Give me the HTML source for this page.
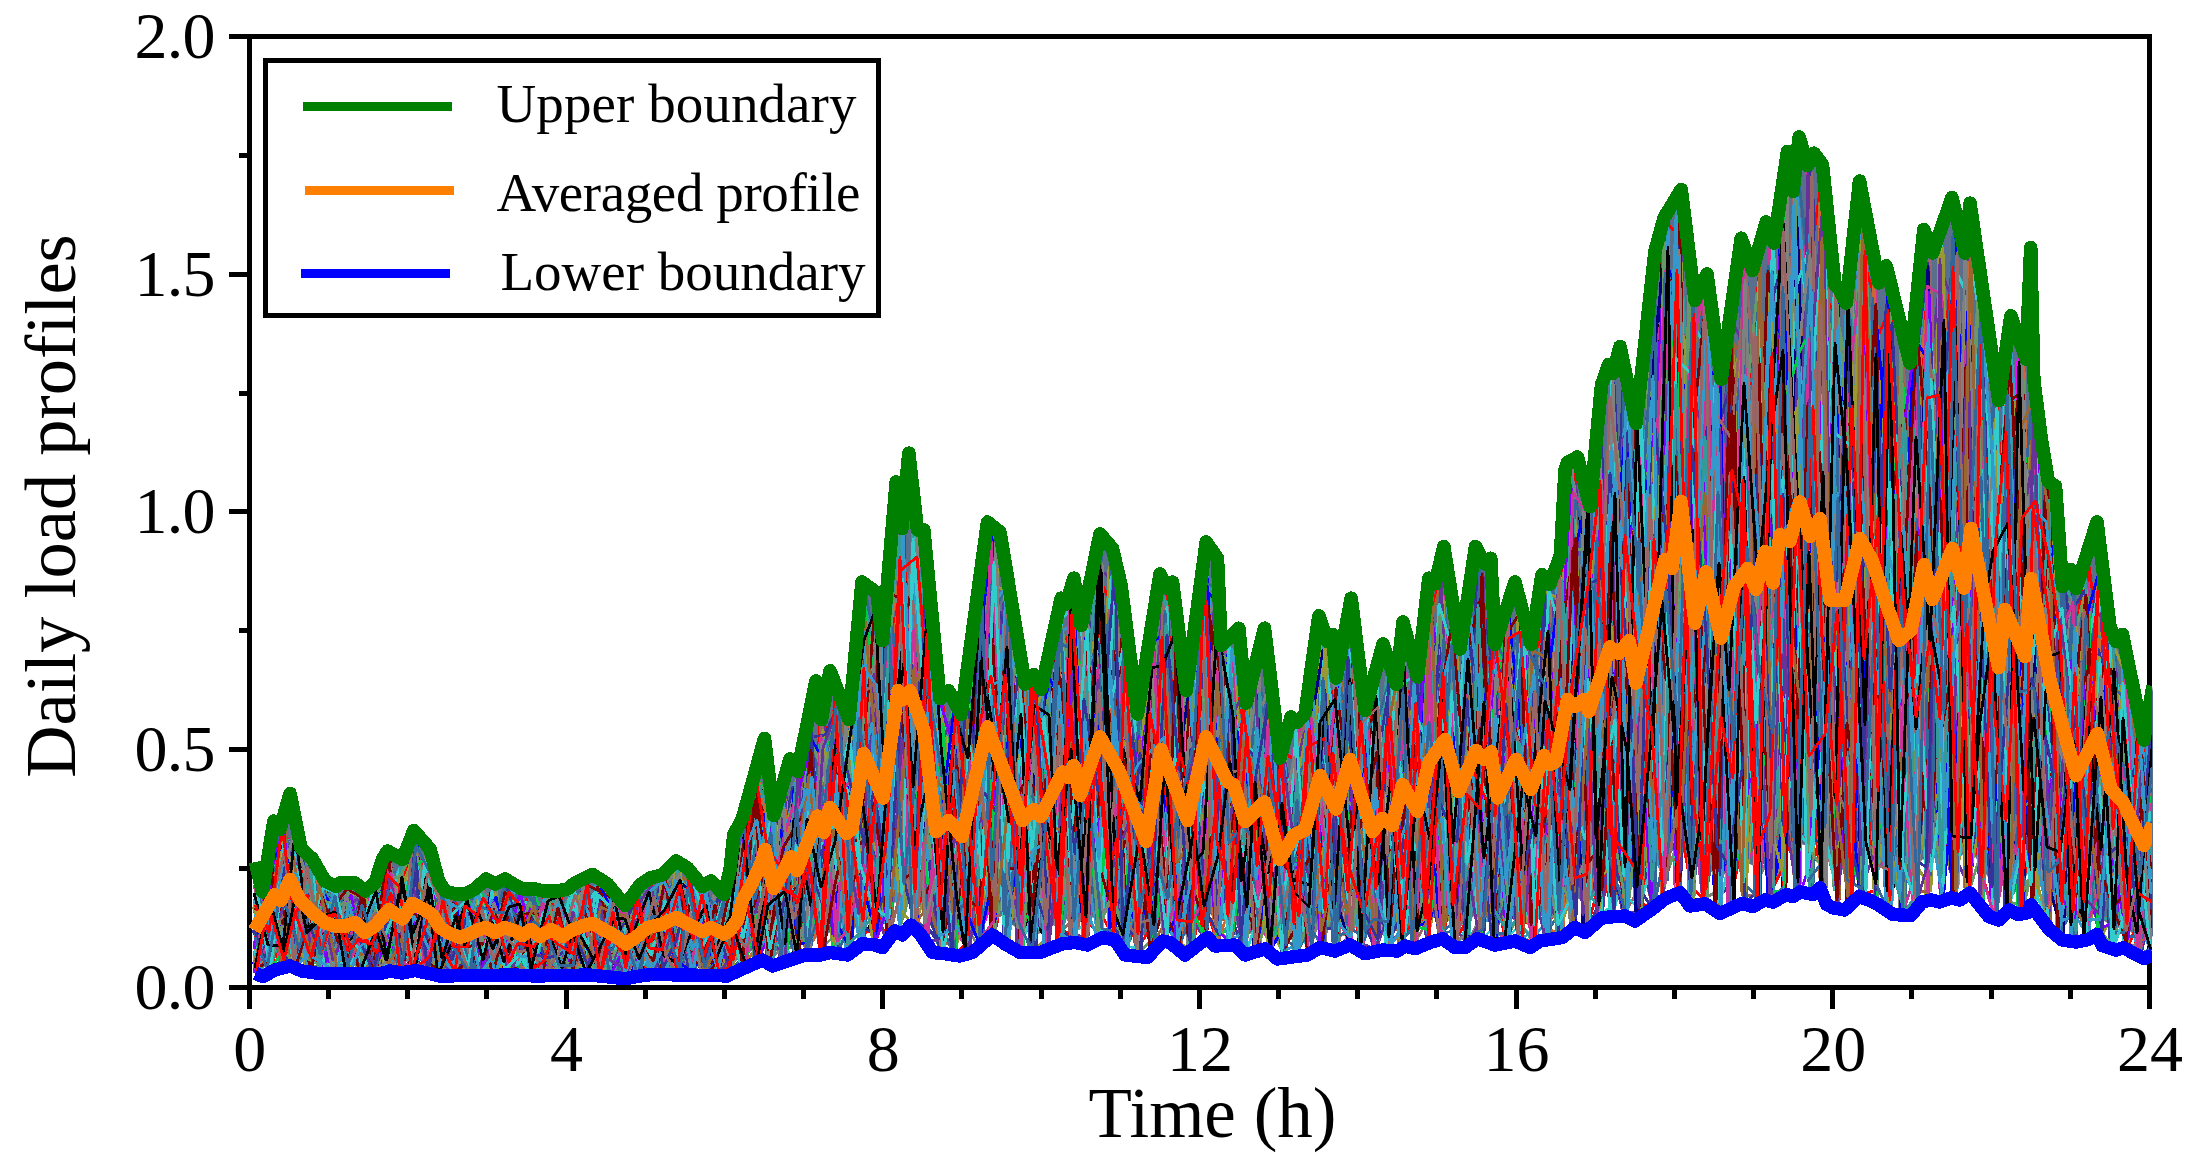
<!DOCTYPE html>
<html lang="en"><head><meta charset="utf-8"><title>Daily load profiles</title>
<style>html,body{margin:0;padding:0;background:#fff}svg{display:block}</style></head>
<body>
<svg width="2186" height="1159" viewBox="0 0 2186 1159">
<rect width="2186" height="1159" fill="#fff"/>
<g stroke="#000" stroke-width="5" fill="none" shape-rendering="crispEdges">
<rect x="249.3" y="36.5" width="1900.1" height="950.7"/>
<line x1="249.3" y1="987.2" x2="249.3" y2="1009"/>
<line x1="328.5" y1="987.2" x2="328.5" y2="998.8"/>
<line x1="407.6" y1="987.2" x2="407.6" y2="998.8"/>
<line x1="486.8" y1="987.2" x2="486.8" y2="998.8"/>
<line x1="566.0" y1="987.2" x2="566.0" y2="1009"/>
<line x1="645.2" y1="987.2" x2="645.2" y2="998.8"/>
<line x1="724.3" y1="987.2" x2="724.3" y2="998.8"/>
<line x1="803.5" y1="987.2" x2="803.5" y2="998.8"/>
<line x1="882.7" y1="987.2" x2="882.7" y2="1009"/>
<line x1="961.8" y1="987.2" x2="961.8" y2="998.8"/>
<line x1="1041.0" y1="987.2" x2="1041.0" y2="998.8"/>
<line x1="1120.2" y1="987.2" x2="1120.2" y2="998.8"/>
<line x1="1199.4" y1="987.2" x2="1199.4" y2="1009"/>
<line x1="1278.5" y1="987.2" x2="1278.5" y2="998.8"/>
<line x1="1357.7" y1="987.2" x2="1357.7" y2="998.8"/>
<line x1="1436.9" y1="987.2" x2="1436.9" y2="998.8"/>
<line x1="1516.0" y1="987.2" x2="1516.0" y2="1009"/>
<line x1="1595.2" y1="987.2" x2="1595.2" y2="998.8"/>
<line x1="1674.4" y1="987.2" x2="1674.4" y2="998.8"/>
<line x1="1753.5" y1="987.2" x2="1753.5" y2="998.8"/>
<line x1="1832.7" y1="987.2" x2="1832.7" y2="1009"/>
<line x1="1911.9" y1="987.2" x2="1911.9" y2="998.8"/>
<line x1="1991.1" y1="987.2" x2="1991.1" y2="998.8"/>
<line x1="2070.2" y1="987.2" x2="2070.2" y2="998.8"/>
<line x1="2149.4" y1="987.2" x2="2149.4" y2="1009"/>
<line x1="249.3" y1="987.2" x2="229.2" y2="987.2"/>
<line x1="249.3" y1="868.4" x2="238.7" y2="868.4"/>
<line x1="249.3" y1="749.5" x2="229.2" y2="749.5"/>
<line x1="249.3" y1="630.7" x2="238.7" y2="630.7"/>
<line x1="249.3" y1="511.9" x2="229.2" y2="511.9"/>
<line x1="249.3" y1="393.0" x2="238.7" y2="393.0"/>
<line x1="249.3" y1="274.2" x2="229.2" y2="274.2"/>
<line x1="249.3" y1="155.3" x2="238.7" y2="155.3"/>
<line x1="249.3" y1="36.5" x2="229.2" y2="36.5"/>
</g>
<polygon points="255.5,862.0 262.5,892.0 273.8,821.0 280.0,829.5 290.0,793.5 301.0,848.0 312.5,859.0 325.0,881.0 336.0,886.5 340.0,883.0 355.0,883.0 365.0,891.0 375.0,883.0 382.5,859.0 387.5,851.0 402.5,859.5 413.8,830.5 430.0,849.0 438.8,881.5 445.0,891.0 455.0,894.0 465.0,894.0 475.0,889.0 486.0,879.0 495.0,884.0 505.0,879.0 515.0,885.0 522.5,889.0 535.0,889.0 542.5,891.0 557.5,891.0 567.5,889.0 575.0,883.0 592.5,874.5 607.5,884.0 625.0,905.5 640.0,885.0 650.0,878.0 662.5,875.0 676.0,861.0 687.5,868.0 702.5,886.5 711.0,881.0 723.8,894.5 730.0,870.0 733.8,835.0 742.5,818.0 751.0,787.5 764.5,738.5 773.8,815.5 790.0,759.0 797.5,771.5 816.0,680.8 821.5,719.5 830.0,670.8 849.0,719.5 862.0,582.0 877.0,593.0 882.5,640.5 896.2,482.0 902.0,528.5 908.8,453.2 917.5,530.0 923.8,530.0 940.0,698.5 948.5,690.8 961.2,714.5 987.5,522.0 1000.0,532.2 1025.0,684.0 1033.8,674.5 1041.2,689.2 1061.2,598.2 1066.2,604.0 1073.8,578.2 1081.2,625.5 1100.0,534.0 1112.5,548.5 1121.2,586.0 1137.5,714.0 1160.0,574.0 1166.2,587.8 1172.5,582.0 1186.2,690.5 1206.2,542.0 1217.5,558.5 1221.2,645.5 1238.8,628.2 1246.0,703.0 1264.5,628.2 1280.0,758.0 1291.0,717.0 1297.0,722.5 1305.0,713.5 1318.8,615.8 1327.5,641.5 1332.5,634.5 1336.2,678.0 1351.2,598.2 1365.0,710.5 1383.0,644.0 1396.2,684.2 1403.0,622.0 1417.5,676.8 1428.8,578.2 1435.0,584.0 1443.8,546.5 1460.0,649.2 1475.5,546.5 1485.0,564.0 1490.8,558.2 1495.0,644.2 1515.0,582.0 1531.2,644.2 1542.0,574.5 1550.0,584.0 1560.5,555.0 1565.0,470.0 1567.5,462.5 1577.5,457.0 1590.0,506.5 1601.5,385.0 1608.5,364.5 1613.0,373.5 1620.0,346.5 1636.0,423.5 1655.0,251.0 1664.2,217.5 1681.2,189.5 1695.0,300.5 1707.0,274.0 1721.2,379.2 1741.2,238.2 1752.5,270.5 1766.2,222.0 1773.8,243.0 1787.5,151.5 1793.0,191.5 1799.2,137.0 1807.5,165.5 1813.8,153.2 1822.5,164.8 1835.0,285.0 1838.8,288.0 1846.2,303.0 1859.5,181.0 1878.8,283.0 1886.2,265.8 1910.0,363.0 1923.8,229.5 1932.5,253.0 1952.0,197.5 1965.0,253.0 1970.0,203.2 1998.8,400.5 2010.8,315.8 2026.2,359.2 2030.7,247.5 2033.8,380.0 2041.8,442.5 2048.5,482.0 2055.5,486.0 2062.5,586.5 2071.0,569.5 2076.0,588.5 2097.0,522.0 2110.0,627.0 2116.0,641.5 2122.5,634.5 2143.8,740.0 2153.0,686.0 2153.0,935.9 2143.5,942.3 2123.5,926.3 2116.0,928.5 2102.0,919.6 2097.0,906.8 2087.0,913.8 2076.0,917.8 2062.0,915.4 2049.0,899.2 2031.0,863.3 2027.0,875.6 2018.0,876.8 2009.0,872.1 1999.0,885.7 1989.0,878.7 1970.0,848.6 1960.0,856.9 1951.0,853.0 1940.0,858.8 1931.0,857.9 1922.0,859.7 1911.0,878.9 1893.0,874.2 1878.0,864.0 1869.0,856.9 1859.0,851.0 1844.5,870.4 1833.0,866.3 1826.7,859.5 1820.0,841.2 1813.0,847.1 1800.0,843.9 1793.0,851.4 1786.7,847.2 1773.0,859.3 1764.5,856.7 1753.0,865.4 1742.0,860.6 1720.0,877.9 1705.0,863.2 1690.0,864.2 1680.0,847.4 1665.0,854.8 1652.5,867.6 1635.0,887.9 1625.0,880.3 1602.5,882.4 1585.0,902.8 1575.0,896.4 1562.5,909.3 1540.0,916.8 1530.0,926.0 1515.0,916.5 1495.0,924.0 1477.5,912.4 1465.0,924.6 1455.0,924.7 1442.5,912.5 1430.0,917.7 1415.0,928.9 1405.0,924.0 1397.5,931.3 1382.5,928.8 1365.0,936.2 1350.0,921.6 1335.0,930.8 1320.0,924.8 1307.5,936.4 1277.5,942.7 1265.0,926.8 1245.0,936.3 1235.0,923.2 1215.0,919.5 1207.5,910.9 1185.0,935.5 1170.0,918.0 1162.5,916.3 1147.5,936.2 1125.0,931.6 1115.0,914.2 1102.5,910.5 1087.5,921.0 1075.0,918.1 1062.5,920.1 1040.0,933.6 1020.0,931.6 1005.0,917.9 992.5,907.5 972.5,930.3 960.0,938.4 945.0,935.2 932.5,929.6 920.0,906.5 911.0,894.9 902.5,907.3 895.0,901.9 882.5,926.1 875.0,920.8 862.5,919.1 847.5,937.6 830.0,932.6 820.0,937.2 805.0,938.8 790.0,944.9 772.5,953.3 762.5,944.1 740.0,958.2 727.0,967.3 715.0,967.1 652.0,965.7 640.0,967.5 625.0,971.3 590.0,966.0 535.0,967.8 515.0,966.6 440.0,967.4 430.0,963.2 415.0,959.2 402.0,963.2 390.0,960.9 380.0,964.3 320.0,964.6 302.0,960.7 290.0,952.6 275.0,958.2 263.0,968.2 255.5,963.8" fill="#5a6f8c"/>
<clipPath id="pc"><rect x="246" y="30" width="1906" height="960"/></clipPath>
<g clip-path="url(#pc)">
<g fill="none" stroke-width="2.8" stroke-linejoin="round" shape-rendering="crispEdges">
<path stroke="#ff00ff" d="M258 967l11 -80l13 -47l13 126l11 -47l19 21l11 -36l13 67l10 -62l17 26l14 29l10 -53l12 5l16 17l14 29l12 -37l12 34l14 -28l11 31l13 -62l16 42l16 -37l12 63l10 -47l16 33l9 -54l16 42l12 -24l16 26l12 31l10 -20l16 16l11 -48l12 5l14 29l15 9l13 -13l12 -111l16 -40l13 159l13 -152l11 147l12 -106l16 31l15 -38l9 58l13 -86l12 0l18 -180l14 131l11 18l14 -150l12 254l13 37l14 -215l15 216l8 -21l19 -243l12 220l11 -148l13 61l12 97l16 -260l9 220l15 -180l11 254l14 -102l16 88l13 -197l11 213l16 -175l13 181l11 -316l16 234l15 -195l8 275l13 -112l15 -83l14 162l10 -77l14 -117l14 -69l17 283l11 -200l11 -13l12 243l18 -247l8 200l18 -148l9 131l15 -104l11 -153l13 312l16 -14l12 -182l13 -73l12 174l18 -88l10 171l11 -256l16 -70l12 3l16 312l10 -262l17 255l8 -323l14 86l16 -268l13 130l14 134l14 58l11 -134l13 202l11 -236l13 -139l13 233l13 108l15 -313l11 58l15 300l14 -102l15 153l13 -379l11 409l13 -499l15 361l14 18l14 -399l11 395l12 -525l13 190l11 358l16 -287l11 344l13 -485l17 454l15 -200l12 286l14 -273l9 120l13 57l16 -143l15 192l9 -124l13 161"/>
<path stroke="#ff0000" d="M258 926l11 1l12 -93l15 75l14 58l11 4l14 -51l16 40l11 -23l11 25l15 -59l12 57l13 -52l14 41l13 -7l12 22l16 -42l13 35l13 -36l13 52l13 -78l13 57l12 -20l16 -36l14 77l9 -69l14 71l14 -78l14 74l15 -72l10 64l15 -74l14 81l11 -79l11 38l13 33l18 -34l11 34l13 -87l15 48l9 -112l17 62l11 75l13 -45l11 -21l16 -92l15 55l11 -228l13 309l16 -396l10 372l15 -283l9 310l15 -113l17 117l11 -206l14 -113l11 248l12 -171l17 225l12 -188l14 108l14 -92l10 178l16 10l12 -326l12 347l16 -135l9 -76l13 101l17 69l10 -208l17 202l12 -286l12 231l15 -158l8 237l14 -238l18 149l12 31l12 -117l11 91l17 71l9 18l16 16l14 -175l11 101l16 10l13 -41l13 44l11 5l11 -150l13 189l16 -316l14 272l11 52l12 -210l16 193l14 -254l11 106l14 143l16 -301l10 -58l14 115l11 147l16 -157l11 28l17 -462l11 490l10 47l18 -93l11 228l13 -354l10 -116l16 257l17 188l12 -454l9 285l15 -486l14 613l13 -463l13 468l11 -209l15 250l10 -220l14 148l15 -248l12 -280l17 472l11 -315l11 -163l17 561l13 -315l13 -178l10 115l17 -52l14 281l11 205l15 -217l11 241l13 -301l15 236l9 -39l17 129l10 -123"/>
<path stroke="#ff0000" d="M254 945l18 -83l14 76l10 -41l15 69l9 -67l17 10l14 61l12 -38l11 22l15 -54l10 63l13 -91l15 -11l14 113l13 -29l12 16l16 -65l13 -2l10 67l13 -6l14 -19l14 30l12 1l13 -43l13 50l14 -51l14 24l13 30l13 -62l13 57l12 -71l13 55l17 -8l10 -19l14 25l10 5l19 -20l11 -104l15 11l14 100l8 -66l18 26l8 -180l15 3l12 222l13 -198l18 -75l7 148l18 -184l12 283l12 -277l17 170l13 -104l13 234l8 -192l18 62l9 -174l17 296l9 -127l16 36l15 -118l9 96l16 -93l13 42l14 -49l10 144l16 72l10 -123l14 -7l17 -176l11 46l11 216l12 -154l13 35l15 167l14 -131l12 123l13 -117l14 -7l16 114l10 -224l13 43l13 116l17 -158l11 24l10 143l18 28l9 38l14 -320l13 149l15 167l11 -157l15 119l13 -207l13 211l12 -242l12 234l16 -83l15 -248l13 302l9 -130l18 171l13 -280l12 275l10 -394l13 388l14 -607l14 209l14 259l12 -305l13 254l13 202l13 -68l12 -183l15 109l11 -213l14 160l18 -472l8 -55l15 582l11 -351l15 -129l14 423l13 -402l13 550l11 -539l17 -11l14 440l11 -443l13 212l16 173l13 -183l10 172l11 199l18 -344l8 224l14 -64l18 215l10 -105l15 -131l11 151l15 111l10 -103l17 77"/>
<path stroke="#ff0000" d="M259 895l8 34l18 -84l12 117l13 -97l10 83l13 -4l15 -53l11 82l17 -60l9 13l17 -5l14 45l11 -40l14 -29l11 77l16 -55l12 43l14 -68l13 76l14 -9l9 -15l17 8l10 -48l15 52l16 -33l11 -31l14 74l10 -40l16 -35l13 81l15 -60l12 40l13 -14l9 24l15 4l13 -57l13 44l12 -165l14 157l13 -128l13 -3l13 -70l14 115l15 -85l15 87l12 -254l14 317l11 -127l12 24l12 -213l19 143l8 167l16 -188l13 193l12 -261l15 115l12 27l14 97l13 8l12 -73l11 0l15 -157l12 233l12 -264l19 206l12 21l13 -112l9 80l16 89l11 -199l17 212l11 -61l15 -272l14 319l13 -171l14 86l10 -24l10 -24l17 148l14 -173l14 53l9 47l12 -233l16 296l16 -142l11 91l11 -67l14 76l14 -240l13 238l14 -133l16 -25l11 115l13 -115l10 147l13 22l18 -211l12 26l14 198l9 -447l18 451l13 -49l12 -467l12 233l16 93l9 -292l14 425l11 -8l18 -472l10 161l14 201l13 130l16 -389l8 93l13 315l18 -642l10 513l13 -67l15 -128l11 300l18 -392l7 408l14 -343l16 -33l12 300l11 -159l13 2l15 -14l12 -118l16 150l12 -332l14 558l12 -533l14 535l13 -381l14 284l12 -54l10 -114l18 292l13 -163l14 159l13 -154l12 152l13 -136"/>
<path stroke="#ff0000" d="M258 960l13 -14l9 15l16 -49l14 -22l11 50l13 15l17 -61l8 62l14 -22l17 -58l8 94l16 -66l15 21l10 46l16 -47l11 23l13 -21l11 46l15 -79l15 68l14 -43l10 56l13 -58l16 51l12 -28l12 14l15 22l12 -54l14 54l13 -91l16 68l11 -83l11 96l13 -49l12 53l19 -94l11 58l14 -159l13 184l15 -54l13 -83l8 108l18 -100l9 22l17 79l12 -29l10 -133l17 -109l11 116l14 107l11 -233l15 241l11 -45l15 -87l14 54l10 -143l15 257l12 -191l18 138l9 -72l13 -51l15 189l14 -161l12 -13l11 -172l18 313l8 -135l14 -46l17 -135l13 282l12 9l13 -164l11 197l16 -236l13 193l14 -130l12 205l13 -104l10 68l15 -211l13 22l15 28l12 132l15 -178l14 205l10 -221l14 258l14 -36l11 -241l13 259l17 -165l10 57l16 -157l9 252l14 -172l17 159l11 -243l11 280l14 -311l16 -156l9 446l18 -431l10 357l15 -243l13 213l11 -508l17 -80l12 10l9 472l18 38l12 -163l14 -149l9 396l12 -251l19 46l14 -48l7 -190l14 294l16 -387l15 30l9 412l13 -482l14 45l15 478l11 -17l13 -291l12 276l14 66l17 -416l9 177l14 -185l16 443l11 -422l11 452l16 -165l10 102l17 -20l11 -121l17 207l11 -181l14 227l11 -157l15 13l11 167"/>
<path stroke="#ff0000" d="M257 882l11 52l13 -93l15 90l10 -58l17 34l10 53l14 -54l16 37l15 -14l8 32l14 -76l15 -34l11 92l17 -53l13 22l13 33l11 29l12 -32l15 31l10 -80l17 81l13 -50l13 9l12 41l15 -71l13 45l13 -21l14 50l12 -38l15 26l8 -53l16 61l14 -76l11 72l16 -44l11 -19l16 -15l13 67l9 -145l12 134l18 -64l8 -30l17 12l12 -18l16 67l11 -245l11 244l13 21l16 -171l14 148l9 -57l16 0l16 99l12 -13l12 -332l13 297l13 -302l12 131l15 104l13 -74l14 159l12 -154l12 45l16 123l9 -187l18 182l9 -209l17 218l10 -171l15 129l14 -220l10 214l16 -133l14 -16l12 195l14 -150l13 152l14 -166l8 150l17 -208l13 208l11 -81l14 -147l14 218l11 -88l18 83l9 -87l14 107l16 -284l9 146l17 -102l8 156l16 53l15 -140l11 52l16 68l12 -214l10 241l13 -166l15 -6l15 -194l12 308l10 -323l15 269l11 -375l18 474l11 -643l12 441l13 -155l15 323l12 -290l17 263l8 -380l17 -176l12 616l10 -20l16 -55l15 -228l12 296l12 -235l15 218l13 -132l14 9l14 -408l13 455l10 -332l15 273l15 -409l12 164l11 233l15 155l11 41l14 -335l11 315l13 -471l17 498l12 -305l11 273l14 -256l13 163l16 -60l14 206l13 -35l10 -114"/>
<path stroke="#ff0000" d="M255 931l14 -2l13 -15l16 -83l10 118l14 3l11 5l15 -61l16 75l14 -49l9 48l15 -83l15 79l12 -95l14 104l8 -48l18 39l11 -50l13 40l14 -71l12 61l14 -24l15 51l12 -59l15 -12l10 46l12 -30l18 33l11 -39l11 27l16 22l9 -57l15 19l14 51l13 -31l10 -21l14 -13l14 24l12 -98l17 24l14 42l11 -103l11 -48l16 2l13 177l10 -19l18 -54l13 -68l9 -111l15 2l17 169l11 -57l9 137l16 -8l13 -2l14 -209l14 3l10 225l16 -104l10 38l16 7l15 -134l13 72l13 10l12 -216l13 157l13 132l10 -126l15 178l15 -178l14 88l11 -42l15 -15l13 84l13 6l9 -160l16 171l13 -200l14 154l14 14l15 -37l10 28l14 -52l11 -155l14 277l15 -9l9 -175l15 184l15 -191l13 77l12 -199l14 143l11 38l13 -201l13 36l14 294l15 -79l10 -81l13 86l15 -219l14 -121l10 203l14 43l18 -200l12 139l12 121l15 -226l12 95l14 66l14 -421l9 437l13 26l13 -137l17 239l11 -565l12 563l15 -44l13 -667l15 642l13 -272l13 181l12 -274l10 428l17 -556l10 -22l14 318l15 -284l10 348l16 -171l15 -184l12 511l14 -566l11 470l14 -149l12 108l16 -174l10 356l17 -317l8 287l16 -97l12 9l11 141l15 -263l11 289l18 -104"/>
<path stroke="#ff0000" d="M256 973l14 -43l14 -14l12 -68l12 115l16 -75l13 74l14 3l12 -67l13 50l12 -62l15 85l8 -124l15 61l16 36l12 -33l15 48l10 -34l14 49l12 -8l15 -53l13 59l11 -29l17 7l9 -22l17 36l15 -63l9 64l12 -9l18 -17l13 -43l12 62l12 -47l13 63l12 -80l14 80l11 -95l13 -22l14 59l15 44l15 -118l12 108l10 -54l14 -80l12 -14l17 -53l11 -58l13 230l12 -5l14 -220l17 67l11 180l12 -234l15 106l13 -39l11 -58l15 139l13 -130l15 115l13 47l13 -170l11 -64l16 -33l13 201l12 29l9 -219l18 320l12 -147l14 9l10 -100l16 182l14 -199l10 152l13 -200l13 283l15 -211l13 194l10 -174l18 12l11 6l15 188l9 -259l16 182l11 7l15 -21l13 -154l14 242l14 -282l14 93l9 -47l16 -107l15 330l8 -39l15 -162l17 211l9 -316l17 229l12 26l14 42l12 -23l14 -370l12 241l12 86l15 -446l11 120l16 290l9 -99l15 -202l11 370l13 -380l16 200l11 -162l17 -43l9 331l16 -437l12 439l17 -347l7 -257l17 645l15 -562l8 281l18 -177l8 474l17 -5l11 -444l12 270l17 -308l11 -80l11 306l19 206l11 -542l10 464l18 -378l8 32l16 411l15 39l12 -250l15 315l8 -264l13 -92l18 110l12 159l11 -6l17 12l11 -20"/>
<path stroke="#ff0000" d="M254 970l15 -112l14 71l15 -90l12 69l14 62l9 -31l16 1l12 1l11 -42l15 64l17 -99l9 21l17 27l10 6l17 27l9 -10l12 -14l16 50l11 -48l12 43l15 -26l15 33l15 -55l12 49l9 -36l17 19l13 -8l12 16l16 -33l8 16l14 -25l17 55l9 -71l16 74l12 -43l15 29l14 -135l12 133l10 -53l16 -45l10 74l17 -151l13 167l9 -163l18 -5l9 -126l17 226l11 -210l11 -76l14 222l15 -42l16 -27l8 152l13 -4l13 -167l14 192l12 -224l16 242l13 -208l11 45l14 -121l14 181l12 46l17 -277l12 325l11 -255l12 274l18 -26l13 -188l13 173l13 -24l10 39l17 -213l9 195l15 -117l16 122l11 -136l10 149l14 -27l14 -121l16 104l13 -166l8 105l17 -55l12 90l16 -72l11 55l13 -35l13 14l14 -85l11 214l18 -32l8 -138l12 136l16 -237l14 259l13 -273l12 -44l13 124l12 -57l18 124l12 -172l12 110l11 -26l12 120l13 -157l16 123l14 -487l12 564l11 -236l14 191l17 -201l12 136l13 -384l14 463l9 -570l18 571l14 -504l13 364l13 -52l9 201l15 -524l10 7l15 362l17 -112l12 121l11 32l14 126l12 -409l12 420l18 -409l13 265l11 -220l13 373l15 -453l9 135l14 1l12 303l16 -245l12 254l15 -83l13 113l12 -187l11 217"/>
<path stroke="#000000" d="M256 953l16 -57l11 65l10 -72l17 19l10 45l15 -56l11 49l16 -36l10 47l14 -81l15 57l16 -23l12 -18l15 14l12 0l10 6l14 62l14 -38l15 -19l13 -14l11 60l16 -60l13 55l8 -38l15 31l13 -59l11 56l17 30l14 -24l11 -59l12 73l14 -98l13 31l16 56l13 -54l13 70l13 -76l10 -113l14 8l13 167l12 -73l13 -132l18 124l12 -115l9 -31l18 79l12 -46l14 120l14 -121l9 107l14 -210l16 233l13 -161l10 216l12 -321l13 271l14 -94l18 55l8 -84l18 167l10 -322l14 276l10 -127l14 89l16 -120l14 83l13 -25l9 141l18 -191l14 160l11 -184l13 127l11 -230l12 232l19 -53l8 48l17 -81l14 121l12 -136l14 143l10 -259l14 314l12 -297l14 204l16 -41l12 88l9 -206l14 241l16 -320l11 243l12 -220l17 75l15 -110l11 284l15 -246l13 64l9 7l15 4l13 197l11 -134l15 -17l11 24l16 -147l14 -55l13 204l10 -49l12 -506l14 250l18 171l12 101l14 -288l8 391l18 -249l14 51l11 -249l12 477l12 -574l14 113l11 -37l19 121l10 183l11 -112l14 -270l13 588l17 -43l9 -538l14 511l18 -258l13 282l10 -336l13 293l11 -203l14 -99l13 10l14 383l15 -281l14 17l9 289l15 -31l13 -313l16 232l9 111l15 -147l13 159"/>
<path stroke="#ff0000" d="M257 880l14 11l9 29l15 6l14 -64l16 92l9 -46l14 65l14 -10l13 7l12 -95l11 70l13 -62l15 85l16 -57l12 61l10 -47l15 39l17 -23l11 -12l14 -26l9 40l18 11l11 -45l16 59l11 -70l10 57l17 21l12 -31l15 24l12 -67l14 43l14 -30l12 45l11 -53l16 66l9 -73l16 -50l12 45l11 -52l15 -11l13 -28l13 125l12 -206l14 82l15 80l12 -148l17 105l8 -240l16 252l12 -108l14 195l15 -237l13 203l10 -101l15 -172l16 292l7 -173l18 135l13 52l10 -207l12 173l15 -284l15 140l11 159l16 -289l12 275l11 -96l12 30l18 -158l11 168l13 -133l16 16l8 206l15 -101l15 -5l11 74l15 -190l13 166l15 71l12 -145l11 133l15 -248l10 -53l15 278l14 -167l10 192l15 -245l12 200l13 -273l16 311l12 -161l14 110l13 -219l11 21l17 212l10 -96l17 -48l9 131l16 -235l12 209l10 -249l16 -18l12 178l15 -84l15 191l13 -526l11 312l16 55l12 -404l9 546l13 -73l18 -122l8 -95l17 327l15 -303l9 69l15 -393l13 459l14 -391l15 61l9 496l14 -97l13 -188l16 -319l11 409l15 -16l13 85l11 -504l12 384l13 -67l13 179l18 -55l10 -340l16 544l11 -209l14 -205l11 409l13 -113l13 144l17 -16l10 -117l14 18l14 49l11 -50"/>
<path stroke="#ff0000" d="M259 876l12 70l11 -115l11 17l16 115l12 -52l15 37l13 8l10 -41l18 -10l8 17l14 48l17 -58l9 57l16 -26l11 31l15 1l12 -11l11 -56l17 53l10 -7l13 -11l17 17l10 -30l15 21l15 -47l12 50l12 -38l14 15l10 42l19 -10l9 -29l18 34l11 -88l9 31l16 16l13 26l12 -63l15 11l12 -54l12 96l16 -40l11 -86l15 82l12 -208l16 242l10 -259l16 230l14 -322l10 241l15 97l11 -315l16 304l10 4l14 -102l13 -61l15 98l12 -129l12 11l13 3l17 111l10 100l13 -207l15 205l13 -6l10 -156l17 156l12 -158l10 51l13 63l19 -162l8 -3l13 15l13 183l13 -213l18 173l10 -156l17 205l10 -114l12 123l16 -250l9 138l13 47l17 0l13 -137l13 206l13 -190l11 67l15 77l14 -263l10 -63l18 269l12 -84l14 179l9 -191l17 73l10 -115l17 175l11 -198l15 172l14 19l7 -71l18 58l9 41l14 -41l16 -142l12 70l13 -385l13 393l16 -349l14 -31l11 134l13 138l10 184l16 -579l11 495l17 -395l12 498l13 -357l14 358l9 -158l18 -425l10 398l16 -329l10 463l14 -373l13 430l12 -309l15 -217l12 -128l17 548l8 -302l17 416l12 -454l15 371l12 -36l12 -116l12 210l14 -41l16 -275l13 98l11 90l14 192l11 -128l17 118"/>
<path stroke="#ff0000" d="M255 932l12 -69l13 91l17 -74l14 91l9 -87l16 82l13 -58l14 55l15 -58l12 23l13 17l11 -46l16 57l10 -36l13 49l15 -24l13 20l10 -9l15 11l15 7l14 -37l12 33l14 -50l13 46l13 -57l14 38l8 -41l16 60l15 -44l10 27l13 22l13 -103l16 93l9 -48l16 36l15 2l14 -56l8 -114l15 80l12 67l15 -38l12 -27l16 3l11 -144l14 94l15 96l12 -127l11 14l15 -103l11 40l18 73l10 -39l10 116l19 56l10 -198l15 21l14 52l12 21l10 97l18 -151l9 36l14 54l17 -198l8 204l16 -276l12 218l11 -45l16 128l13 -195l15 -2l11 210l14 -224l15 -97l13 309l9 -155l14 168l16 -210l13 227l13 -65l14 -139l8 -22l16 -23l11 209l15 48l15 -99l12 -92l13 124l10 -85l17 82l11 -106l14 -57l15 183l9 -191l16 180l12 -33l14 -200l15 293l13 -244l9 -79l17 202l15 -79l8 -245l13 414l17 -247l9 251l15 -59l17 -425l9 400l12 -487l16 515l11 -369l15 77l15 -187l14 7l12 405l12 -52l16 -426l12 481l8 -445l19 554l10 -443l16 421l9 -608l17 383l10 -300l17 243l13 280l8 -616l18 624l9 -239l12 206l14 -385l15 84l11 316l16 -195l14 223l13 -298l14 11l9 318l16 7l11 -181l18 87l8 101l18 -220"/>
<path stroke="#ff0000" d="M259 971l11 -72l14 22l14 -22l11 38l12 -8l13 -11l16 54l12 -54l13 50l13 -44l13 -17l14 62l10 -76l17 56l12 25l13 -69l12 66l13 -59l16 50l11 -52l11 -14l14 75l15 -68l16 51l11 -58l15 74l8 -51l15 54l14 -74l13 63l13 11l16 -51l13 17l10 0l15 -19l13 13l11 -62l18 -54l9 146l17 -147l12 112l11 -107l14 -78l10 88l17 -42l10 117l15 -6l16 26l11 -317l15 294l8 -154l18 39l12 -33l15 112l9 67l12 -324l17 299l12 -238l12 260l16 -86l11 -12l16 -33l10 -129l15 254l12 -187l11 -36l17 78l11 85l14 -131l11 211l13 -168l13 118l16 49l11 -298l16 84l9 217l18 -112l10 -64l15 146l14 -142l10 -43l15 152l15 -66l11 -13l13 -60l11 -23l17 125l12 55l16 -284l9 318l15 -112l10 34l18 -31l11 85l14 -261l10 269l14 4l16 -247l13 25l12 191l13 -190l12 43l13 -44l17 -52l13 132l9 -226l15 120l13 -222l16 239l8 -33l13 -171l14 149l14 -35l15 54l13 -258l14 -119l14 48l12 33l13 443l11 -350l13 361l13 -458l14 397l16 -192l13 249l10 -321l17 70l13 312l10 -475l13 269l14 -79l12 303l13 -396l15 234l13 -166l10 234l19 -173l9 134l12 -143l13 175l16 1l13 -129l10 249l18 -58"/>
<path stroke="#ff0000" d="M254 970l14 -9l15 -2l13 -112l13 81l14 41l15 -65l11 43l14 24l14 -58l13 -3l10 38l14 -44l11 15l18 25l13 -41l10 46l16 2l11 -27l15 17l12 -6l11 40l13 -78l15 11l15 28l11 31l11 -81l15 83l15 -52l14 -20l13 69l14 -5l12 -75l14 51l11 35l15 2l11 -45l11 13l14 -158l13 141l13 -131l15 150l15 -209l12 96l13 -89l14 211l12 -120l12 -131l13 61l15 -160l13 249l13 -79l12 179l15 -40l12 -107l14 8l10 -53l18 27l14 81l11 -20l10 24l15 22l15 -208l13 82l15 118l11 -151l13 69l10 -66l17 105l11 -197l14 243l14 -116l10 127l15 -94l16 96l11 -175l14 115l13 -124l14 226l13 -157l15 129l11 -91l15 27l11 -166l10 176l15 -84l11 125l14 -202l16 209l12 22l11 -230l15 85l11 97l15 -192l13 210l12 -40l13 -180l16 -28l16 284l10 -285l14 21l11 154l17 -128l8 60l14 -367l15 297l12 57l15 -466l10 479l16 -479l14 48l14 388l11 27l15 -326l14 429l9 -581l14 472l14 -406l12 309l15 81l11 139l16 -295l10 62l14 -264l11 378l17 -161l15 138l12 67l9 -331l17 260l10 -290l17 465l11 -306l13 287l16 -85l11 38l14 -307l12 375l12 -230l12 -38l17 218l15 -122l13 131l11 54l12 -78"/>
<path stroke="#ff0000" d="M256 897l15 69l11 -59l12 -57l13 54l13 64l13 -66l18 26l11 -25l14 64l13 -67l15 61l13 -99l12 -6l12 108l15 -30l12 34l15 -49l13 32l8 -1l17 -38l14 35l13 -44l11 24l14 20l10 -61l17 86l13 -63l10 56l18 -45l10 -11l11 52l16 -76l14 82l10 -75l16 70l11 -38l13 36l14 -103l11 61l16 -13l14 -51l10 11l13 -93l16 -40l14 219l14 -137l10 -167l14 265l14 -253l11 214l17 -203l13 256l10 -154l17 125l9 -216l16 195l10 -103l16 161l13 -94l11 47l16 -111l13 123l9 -269l16 280l11 20l14 -208l16 202l12 -169l12 165l13 -145l15 173l9 -249l18 -79l15 211l12 -89l9 198l13 -161l18 176l13 -173l12 84l14 -29l10 -84l12 159l13 -90l18 37l8 15l19 -70l11 137l9 -309l13 297l14 -251l16 158l13 -249l11 279l14 -88l17 -69l11 145l10 53l13 -102l15 -48l16 -20l8 137l18 -143l10 -257l13 426l13 8l17 -148l13 -119l10 24l14 16l11 -38l17 192l14 -169l13 157l9 -545l15 343l12 -218l15 475l15 -64l9 -414l15 193l13 290l16 -445l8 362l17 41l13 -238l10 285l14 -445l14 449l14 -623l12 403l13 117l15 -138l13 79l14 -156l11 31l13 311l14 -243l14 121l16 -82l7 178l18 -165l12 147l10 -118"/>
<path stroke="#ff0000" d="M256 934l12 -52l15 44l15 -38l14 -21l9 62l12 15l16 -29l14 55l11 -67l11 -27l14 4l15 6l14 77l13 -22l11 4l13 -1l15 -41l14 40l14 25l11 -7l13 -37l14 17l14 21l11 -17l13 28l15 -67l14 68l11 -32l16 -41l13 21l14 51l10 -22l15 11l11 -45l12 34l14 -20l13 -41l12 -31l14 -24l14 125l14 -109l16 17l13 55l10 -23l14 -78l15 -83l13 203l12 -362l10 187l13 74l15 93l16 -72l12 -99l12 181l11 -32l14 -297l12 324l18 -153l9 -96l15 -5l12 242l16 10l10 -203l18 40l12 61l11 -103l12 189l15 -107l15 -74l13 172l10 -186l13 70l16 44l9 -43l15 148l16 -198l11 105l16 -41l8 143l15 -25l15 -47l14 68l9 -197l17 173l14 -74l8 84l16 -135l14 115l10 -321l18 339l10 -58l11 -265l18 218l8 -175l14 130l13 20l16 -144l14 -47l12 312l14 -336l14 329l11 -483l16 435l10 -1l15 -358l13 192l11 -475l14 630l14 -250l11 193l15 -11l12 -420l15 -14l15 343l13 -149l10 293l12 -651l18 606l9 96l12 -329l14 172l17 -95l10 -11l11 179l18 -131l12 81l14 -236l12 -233l14 374l13 -238l10 451l18 -306l11 253l15 -406l9 434l16 -323l12 287l12 -66l13 129l17 -329l10 332l14 48l14 -206l13 102"/>
<path stroke="#000000" d="M255 962l17 -80l10 77l16 -105l8 50l18 38l13 -20l14 18l13 20l13 9l14 -65l7 50l16 -26l14 -17l10 51l13 -23l14 -14l14 19l13 15l15 -26l15 35l14 -66l10 42l15 -36l13 37l11 -10l12 -17l13 -9l16 9l13 -23l11 11l16 -12l11 65l15 -81l10 79l16 -12l11 1l16 -109l9 111l19 -111l10 -28l11 146l12 -205l19 201l13 -184l9 -13l12 185l15 -18l14 -299l12 265l17 -140l11 65l13 21l13 49l11 -141l18 170l10 -221l11 -17l16 267l10 -24l16 22l11 -126l13 24l18 -69l11 62l11 84l12 -146l16 178l14 -178l15 170l14 -260l12 219l13 -327l10 351l17 -202l9 135l13 74l15 -94l15 -24l11 83l16 -178l11 80l11 49l13 -94l12 195l18 -117l10 28l13 -96l14 184l15 -226l14 216l9 -71l17 -251l14 281l12 -226l11 245l16 -113l14 123l10 -160l11 65l14 -350l14 73l12 368l17 -419l10 296l17 -191l12 59l12 223l10 -549l18 567l15 -361l10 363l10 -297l18 283l12 -309l14 121l12 -209l16 -126l8 504l12 -657l19 397l11 52l10 162l17 20l10 -510l18 566l9 -507l17 465l11 -493l15 491l12 -317l11 3l14 169l15 -53l9 251l13 -409l17 31l12 230l16 111l9 -269l12 295l19 -143l11 134l14 -96l9 80"/>
<path stroke="#ff0000" d="M256 940l11 -84l14 100l15 -74l16 -1l11 61l10 -39l15 15l14 35l13 -38l16 53l8 1l12 -107l18 105l11 -50l16 49l9 -66l16 57l11 -22l14 38l15 -49l9 49l15 -72l15 70l14 -56l11 43l12 -65l17 65l10 -5l12 -7l15 -26l16 46l8 -1l17 -51l12 -21l12 73l17 -55l13 -48l8 66l15 -26l11 2l16 -38l14 21l12 8l16 -41l10 -10l14 25l15 -106l10 174l14 -396l11 358l14 -97l15 67l16 -162l8 197l14 -247l12 210l17 -213l14 248l9 -185l13 131l17 -236l9 204l17 -154l12 236l12 -339l13 394l13 -31l14 -178l13 115l13 -114l15 125l15 -91l12 139l9 -85l15 -112l11 72l13 88l15 -113l12 105l13 -169l16 240l16 -234l10 -86l10 145l14 179l17 -131l9 123l16 -243l11 151l16 -189l14 228l11 -162l14 -65l16 3l11 104l15 86l12 -138l10 49l16 -2l14 150l9 -302l15 -119l15 352l14 -331l9 277l17 -238l12 117l12 -116l15 336l14 13l12 -436l13 244l11 119l13 -180l16 242l13 -650l10 186l12 388l14 -589l13 460l13 -388l16 434l12 152l12 -404l16 72l10 217l14 99l13 -476l16 453l14 -434l13 404l13 -399l10 -52l13 520l15 -410l15 202l14 208l13 -216l8 200l17 -265l9 202l18 117l9 -195l13 182"/>
<path stroke="#ff0000" d="M256 925l15 46l12 -70l12 -10l13 16l12 52l17 -55l12 68l11 -38l14 -37l14 23l11 27l14 15l13 -20l14 -24l16 7l10 1l16 35l12 -40l14 46l9 -67l14 68l16 -31l13 11l11 -47l14 70l16 -11l8 -48l14 56l15 -71l14 63l14 -33l12 28l13 -48l13 66l11 -13l17 -61l9 45l14 -58l16 26l14 -29l14 55l10 -34l14 8l13 -148l15 84l11 86l13 -5l16 -334l12 318l12 -350l15 345l14 -100l11 99l12 -63l12 69l15 -137l10 29l14 -113l17 237l11 -140l11 45l15 -105l13 113l12 -267l16 31l13 348l14 -170l10 127l15 -245l11 216l18 -110l12 120l13 -132l13 88l11 -35l11 124l17 -171l11 57l14 56l16 -26l11 89l16 -158l13 146l11 -207l10 65l14 125l15 -133l12 -58l12 132l18 -223l13 12l8 -21l15 88l12 180l18 -85l8 108l16 3l12 -138l13 25l15 -330l11 454l12 -509l14 215l14 0l13 49l11 -327l17 29l13 434l14 80l13 -600l13 572l11 -430l14 395l11 -183l13 -282l16 519l13 -326l15 179l14 -371l9 71l15 402l12 -96l12 36l13 -463l14 572l17 -395l12 384l13 -577l9 421l15 -454l16 449l10 53l16 -171l12 304l12 -448l12 445l16 -109l12 -80l13 179l15 -279l15 105l12 122l13 -70l9 140"/>
<path stroke="#333399" d="M258 904l11 -37l13 96l16 -97l10 86l15 -57l10 53l16 -54l13 73l12 -39l15 -6l15 33l12 -57l12 74l11 -34l16 9l9 -46l16 54l14 -24l10 38l13 -73l16 79l11 -64l17 33l11 -22l16 52l14 -15l13 -23l7 31l13 -46l16 26l14 -22l13 -17l15 -7l12 21l13 49l13 -46l12 10l11 -52l14 -44l15 107l13 -12l11 -71l16 -96l15 51l10 134l13 -148l12 7l14 -113l17 178l11 -347l10 393l13 -73l14 101l13 -168l13 73l13 51l18 -114l11 159l12 -216l12 100l15 -71l15 50l12 -97l12 167l17 -89l11 -129l12 208l14 -169l15 210l10 -135l16 -58l10 205l13 -345l17 179l14 84l10 102l12 -76l16 -80l10 121l15 27l12 -167l15 135l14 -126l13 -53l9 219l15 -220l16 65l13 -73l10 223l17 -276l8 150l14 51l14 -282l16 349l12 -233l11 144l12 -207l18 202l10 -102l17 -77l12 249l9 -346l14 298l17 35l11 -176l13 -30l13 -22l16 -235l12 333l14 -319l11 451l14 -18l13 -186l13 -90l12 -165l13 202l16 249l9 -721l18 380l12 141l12 -121l15 92l9 151l14 -139l11 17l15 3l15 178l15 -473l12 338l13 156l12 -101l12 46l15 -339l13 -122l14 517l14 18l14 -137l10 15l14 11l13 -58l13 202l12 -257l13 222l16 -33"/>
<path stroke="#333399" d="M257 959l11 -46l17 -2l14 0l9 31l14 -34l15 65l11 -3l12 -48l12 -9l17 25l12 13l16 -75l13 91l13 -66l13 48l13 -40l9 45l12 -38l17 41l14 -62l12 63l16 -33l12 32l12 17l12 -49l13 4l16 3l14 37l11 -76l13 80l15 -37l9 -35l12 55l16 10l12 -42l13 33l12 -74l14 5l17 60l14 -55l13 63l13 -163l13 -7l14 135l8 -9l13 -208l13 -9l15 168l13 -232l17 236l8 -12l17 -137l10 217l15 -187l11 103l17 -314l8 406l17 -182l10 -6l16 -30l12 191l15 -187l10 213l17 -78l10 -176l15 239l13 12l12 -293l16 291l11 -122l12 71l13 -103l13 159l13 -246l16 95l13 156l15 -253l12 241l11 -112l12 40l14 -108l12 171l15 -272l11 256l14 -214l15 53l14 81l12 116l11 -152l13 17l17 -16l10 135l16 -260l15 252l10 -210l16 153l12 -199l14 173l12 -42l14 -253l9 343l15 -472l13 229l11 -256l17 523l9 -308l19 180l8 -194l17 -15l10 306l16 -236l14 173l14 -268l11 308l11 -39l17 -614l11 584l14 -618l12 465l15 101l9 -128l18 257l14 -456l8 49l17 456l9 -178l13 -379l18 464l10 -549l17 556l8 -479l13 491l14 35l15 -286l14 278l12 -224l14 182l14 -106l11 -60l16 -108l10 159l13 195l15 -96l14 15"/>
<path stroke="#669966" d="M256 953l14 -33l11 -64l15 58l10 56l18 -7l14 -63l8 30l18 33l11 -61l11 37l14 17l14 -63l12 75l16 -30l11 -18l14 -4l16 56l13 -18l11 -13l13 32l10 -46l18 44l10 -63l12 54l17 10l10 -3l16 7l11 -56l16 -8l13 53l9 -30l18 -58l12 78l9 -35l16 54l12 -47l16 40l11 -171l13 166l14 -60l15 -47l12 19l10 76l16 -16l15 -66l11 -199l15 252l10 -99l17 95l8 -40l17 12l15 -18l9 -146l12 183l13 -201l13 -58l16 234l10 -177l16 66l14 172l12 -191l12 165l17 -266l12 -75l14 138l12 239l13 -177l16 -137l12 279l11 13l16 -3l8 -234l17 245l12 -248l15 113l11 142l11 -86l16 2l15 91l8 -254l15 201l17 -80l12 -38l9 -57l18 173l13 -50l13 -27l11 108l15 -188l13 50l13 -93l13 21l13 202l12 -149l12 110l12 -270l14 230l17 -175l13 180l9 -125l17 135l11 -140l15 41l12 -305l12 393l15 -374l11 348l16 -498l13 572l13 -275l9 75l14 -211l18 341l12 -61l10 16l14 -537l13 269l12 125l18 -282l13 453l9 -125l13 -36l14 8l16 -296l12 502l12 -356l13 378l11 -415l17 -233l12 493l12 -313l16 286l10 200l18 5l12 -56l13 -166l12 231l12 -151l13 -18l14 106l13 -83l15 84l9 -53l13 134"/>
<path stroke="#cc3399" d="M257 935l15 3l13 -85l12 0l10 83l15 -2l13 38l12 -58l14 8l12 -17l15 -3l14 -11l9 48l14 -41l16 77l12 -52l13 23l13 15l14 -29l13 9l15 -46l11 65l16 -29l14 37l10 -32l16 31l9 -38l12 44l14 -38l15 24l15 -52l11 60l15 0l15 -72l11 78l11 -59l15 -27l11 1l12 -60l13 64l16 67l11 -127l13 47l17 -91l10 103l14 -73l16 17l12 -116l14 113l13 -149l9 39l19 89l10 -62l16 183l12 20l10 -150l12 -27l16 32l12 120l13 -57l16 -135l13 179l10 -285l17 168l9 -131l16 272l11 -241l14 92l11 36l13 94l19 -189l10 -48l13 150l14 -165l15 262l11 -82l11 35l13 -60l17 9l9 93l13 -232l18 165l13 -78l14 79l10 -157l16 238l9 -201l16 184l13 4l15 -181l9 190l16 -156l10 92l14 -107l14 180l13 -195l16 183l8 -252l18 222l12 -205l13 -25l10 230l13 -486l16 454l15 -368l11 317l15 -187l12 189l11 -362l15 343l12 -380l16 393l14 -309l12 356l14 -19l10 -600l15 6l14 428l8 -509l15 560l15 110l11 48l15 -275l11 211l17 -486l13 381l9 -172l18 -37l9 384l16 -616l15 613l12 -466l12 478l12 -198l12 102l13 -324l15 79l16 210l9 143l16 -58l11 -141l13 -7l14 213l12 -189l15 213"/>
<path stroke="#33cccc" d="M257 972l11 -81l15 71l13 -78l14 82l9 -64l19 57l8 -33l13 26l14 -36l12 54l19 -87l11 44l10 -5l17 42l9 -29l14 32l12 -30l18 20l12 5l13 -61l10 3l18 53l14 1l10 -62l13 22l11 27l19 -29l13 61l9 -35l13 19l15 -38l13 9l11 0l15 18l11 -36l17 21l10 -100l16 124l13 -95l14 75l13 -139l10 140l14 -173l17 177l13 -96l11 92l10 -260l15 -57l11 283l14 -278l17 292l8 -175l16 118l13 -144l15 222l14 -221l9 113l13 2l14 -116l15 221l13 -117l13 -32l11 -60l13 57l14 -65l14 189l13 -68l15 49l14 -208l12 241l10 -62l13 -232l17 231l13 -203l11 193l15 31l13 -153l10 36l18 185l10 -147l12 30l15 -72l13 136l15 -183l13 234l14 -176l11 138l11 -202l13 200l14 -266l17 301l9 -16l12 -347l16 160l11 195l15 -266l13 -35l14 58l12 100l12 -114l17 114l10 -117l14 -298l15 530l14 -85l10 77l15 -636l11 117l16 286l11 223l12 -63l13 -443l16 370l12 -222l14 234l12 -452l13 5l12 333l18 -293l7 511l15 -202l13 -192l13 294l17 -151l14 72l11 -174l13 -152l10 317l17 -125l14 -307l10 71l12 297l13 109l16 -311l13 283l11 197l18 -139l9 -20l12 164l18 -261l8 242l14 -219l14 282l17 -155"/>
<path stroke="#996666" d="M257 912l15 55l9 -66l14 28l13 -46l16 86l10 -39l16 22l9 -37l14 54l14 -112l17 78l12 -26l13 55l12 -37l15 39l10 -45l12 -27l18 0l13 74l13 -62l12 32l15 18l8 -30l13 -33l13 26l13 53l16 -55l16 51l8 -36l18 18l9 -22l16 40l12 -5l11 1l12 -21l14 -34l17 -13l10 -4l16 48l9 -64l15 80l14 -147l13 129l13 -30l13 -109l17 130l8 -99l14 -248l13 14l17 323l12 -132l12 126l12 7l13 -161l14 115l14 -220l12 151l16 23l13 -120l11 -21l16 205l9 -194l14 201l16 -163l14 54l12 -127l10 224l13 46l15 7l14 -270l13 175l10 -209l14 187l16 -127l10 207l17 -68l13 43l12 -121l12 179l15 -111l14 -127l10 214l15 -131l11 77l13 -2l17 41l10 -133l11 149l16 -23l12 -154l13 197l14 -123l15 -10l10 -57l13 75l17 -148l14 213l11 40l11 -40l13 -140l17 166l13 -285l11 168l14 -111l10 66l17 -183l12 324l13 -584l14 465l10 -378l13 144l16 0l15 -266l10 524l13 99l15 -654l15 588l12 -571l12 582l14 -287l14 317l14 -443l13 426l10 -110l13 -315l15 266l13 -220l13 -148l14 526l14 -385l10 -35l13 274l15 205l12 -165l15 -268l11 376l14 -192l15 276l14 -313l11 29l14 290l11 -53l12 44l16 -153"/>
<path stroke="#996633" d="M254 885l17 61l10 9l12 -89l14 82l18 -60l8 45l17 -35l13 20l14 -21l12 -21l10 61l15 -45l14 60l11 20l18 -33l10 27l14 -21l14 -23l14 -31l9 33l16 51l12 -72l10 71l17 -83l10 83l14 -74l16 11l11 59l13 -45l13 -3l15 -4l15 9l10 34l15 -8l12 -45l13 56l14 -103l11 37l12 -35l15 66l16 -141l13 114l12 -97l15 44l9 103l15 -63l13 -264l16 311l10 -191l14 178l14 -17l10 -141l16 105l13 -102l13 116l14 -157l13 67l12 48l12 -103l16 144l13 -66l9 -54l19 -48l12 205l12 -283l13 316l11 -215l15 205l12 -17l11 -45l15 -85l17 57l10 -204l11 256l16 -119l16 56l8 92l13 -173l17 164l10 -114l17 134l11 -129l15 67l9 -147l13 209l18 -102l8 102l19 -46l9 -113l13 -14l13 167l13 -206l14 155l15 -65l9 -77l16 139l11 -240l15 212l11 -275l18 84l14 166l12 -232l14 309l10 -488l16 304l14 -402l13 437l11 -309l10 -92l15 512l14 -234l12 38l12 -305l16 514l10 -216l14 -193l12 276l16 -240l16 160l10 -122l13 200l15 -178l13 312l12 -212l14 -242l10 255l15 -34l14 105l11 87l13 -198l13 -34l16 299l10 -40l18 -429l13 380l10 -335l14 380l12 -168l15 191l13 -126l15 64l11 -73l16 181l10 -144"/>
<path stroke="#cc3399" d="M259 958l11 1l11 -66l14 66l11 -15l14 -14l17 -33l10 74l13 -77l14 9l17 -16l13 75l13 -112l9 38l17 64l11 -13l12 5l16 -2l11 -46l12 73l15 -70l14 33l10 14l14 -27l16 1l9 51l14 -66l15 14l15 39l10 -37l16 21l11 -20l15 47l13 -49l12 2l16 51l12 -79l12 52l13 -149l14 95l15 21l10 33l15 -167l11 174l14 -224l13 69l13 96l14 -108l10 74l14 -241l13 253l14 -137l11 76l14 143l15 -125l15 12l14 21l13 -160l14 157l8 -27l16 -90l12 198l13 -244l13 236l16 -310l12 90l10 241l16 -174l13 125l14 25l13 -198l14 152l12 -228l15 251l13 -70l10 115l13 -43l16 44l14 -140l12 56l12 -106l15 137l10 -89l12 -37l16 177l11 -162l16 131l15 -248l10 106l10 -156l14 314l13 -106l16 -89l12 -146l14 338l14 7l12 -138l12 143l14 -105l13 -245l15 291l14 -258l10 267l14 -58l14 -130l14 207l10 -541l16 -73l9 592l16 -285l15 112l10 -152l16 116l11 -80l16 84l14 -443l11 442l13 -474l14 422l15 226l11 -223l12 203l15 -1l11 -551l15 400l12 -13l14 -51l14 201l12 -413l13 60l12 412l16 -500l10 410l16 47l13 -247l15 -186l11 355l10 7l15 117l14 -305l15 123l12 129l10 -131l13 27l13 222"/>
<path stroke="#cc6633" d="M254 956l17 -91l13 45l15 11l11 -39l13 83l14 -69l10 67l15 -55l12 35l12 -32l18 37l13 -28l11 23l10 -19l17 51l13 -16l14 -16l8 21l19 -60l8 64l19 -8l12 -57l14 62l9 -21l14 -6l11 -38l14 69l17 -35l9 9l12 -17l15 16l13 -44l14 76l16 -74l13 60l9 -27l18 -10l11 -51l11 60l14 6l12 3l14 -115l13 85l18 -206l8 168l15 67l16 -146l10 -155l11 -60l16 227l14 0l15 -32l11 177l14 -162l12 120l15 -200l10 138l17 2l11 -3l10 -30l18 66l9 -127l15 62l16 89l10 -314l14 237l14 126l14 -264l9 235l18 -88l9 -3l13 102l14 -346l12 169l16 144l9 -160l15 131l14 74l14 -74l15 15l9 -106l15 151l13 -261l16 162l10 25l15 82l9 -6l18 -105l9 67l13 -133l17 116l11 57l11 -262l18 199l13 -248l10 220l16 -27l10 -21l18 -209l13 185l8 -180l15 136l11 -215l15 395l16 -122l8 -295l16 293l11 -362l15 218l14 -297l11 478l16 -454l10 407l17 -297l10 305l14 -415l12 499l17 -251l8 261l17 -302l11 169l16 -241l13 -185l15 544l11 -264l10 301l13 -349l17 336l14 -409l14 214l11 -385l12 573l14 -275l11 172l14 -191l14 269l14 -196l11 224l17 -196l11 229l11 -177l13 205l13 -108l13 -69"/>
<path stroke="#339999" d="M254 903l16 52l15 -49l12 -16l14 18l11 34l13 -7l11 32l15 -30l12 10l15 -90l12 92l16 14l11 -39l13 30l11 -23l14 -24l14 64l15 -54l10 -27l18 53l13 -13l13 14l11 -28l14 -25l13 70l12 10l12 -49l17 15l12 22l13 12l12 -76l14 37l14 25l11 -66l17 82l8 -53l13 -42l18 22l13 15l14 -70l10 72l14 -174l10 201l16 -191l12 146l12 -141l14 142l12 -238l13 235l14 -370l13 417l16 -117l15 -83l8 206l17 -349l11 307l12 -21l17 -82l8 107l14 -50l14 -176l17 37l9 148l14 -323l13 289l16 -18l11 128l16 -178l13 112l11 -118l13 143l13 -281l13 223l13 -30l13 44l12 16l17 -81l9 133l15 -130l16 -35l11 182l11 -189l17 168l12 -141l12 132l12 10l17 -265l12 246l13 -165l11 -53l17 248l11 -150l13 149l13 6l13 -57l12 -181l13 69l13 128l15 -41l16 -125l12 -157l14 330l11 -416l15 224l9 69l16 -406l14 442l12 -53l12 -294l16 -31l8 328l16 88l12 -4l12 -43l16 -275l13 80l11 91l15 -387l11 363l16 -140l14 203l11 -306l13 184l13 258l15 -243l11 -250l13 -114l13 158l13 386l15 -178l16 215l7 -417l14 467l17 -31l13 -358l14 87l9 307l18 -256l12 209l14 -17l10 -141l15 52l14 145l14 -6"/>
<path stroke="#33cccc" d="M258 900l12 66l15 -80l11 -32l12 117l16 -45l9 2l17 44l14 -60l11 -19l16 46l13 16l9 -56l12 52l18 -46l13 32l8 25l17 -64l14 64l14 -64l12 75l15 -39l12 41l12 -52l12 7l16 -31l8 67l18 -22l13 26l11 -66l11 -10l15 22l12 38l17 -69l12 86l9 -32l16 -26l15 -81l14 126l8 -62l14 51l13 9l14 -8l12 -175l13 154l15 -110l12 36l17 -111l12 -156l12 289l12 -179l12 196l18 -46l12 12l15 -127l12 190l14 -157l12 180l13 -271l13 205l14 -110l13 -152l11 207l14 58l15 29l12 -327l11 279l15 75l14 -206l12 164l14 0l11 -124l12 20l13 -26l17 14l14 74l10 -92l12 174l13 -73l16 42l15 -88l14 102l12 -77l9 97l14 12l12 -113l13 82l14 -245l16 124l14 104l13 33l10 -290l16 -24l12 3l12 169l14 83l15 -48l14 -191l12 -33l13 312l13 -368l13 109l15 103l11 153l11 -39l15 -171l15 -91l14 138l9 -499l12 415l16 1l14 157l12 75l15 -346l10 150l15 -420l11 487l12 -506l18 423l13 -71l9 -153l16 115l10 212l16 -421l13 373l14 168l14 -227l9 85l15 -530l15 305l12 313l15 -529l11 411l11 -69l14 -199l17 430l13 -339l13 318l12 -86l15 40l14 -53l13 49l8 -36l17 145l14 -5"/>
<path stroke="#333399" d="M254 935l18 -50l9 68l17 5l8 -90l15 71l12 -19l17 42l10 -27l12 38l18 -74l13 68l12 -112l12 35l15 72l14 -41l9 51l14 -80l16 50l11 -44l14 65l11 -51l16 55l11 -32l14 -43l15 48l9 23l15 -21l17 27l8 -33l15 25l15 -49l12 62l13 -73l14 42l10 -26l15 53l16 -83l8 2l16 -28l16 71l12 -88l14 98l11 -86l15 15l10 -79l16 -85l13 102l11 -142l12 146l14 25l15 -132l15 199l9 18l12 -193l16 195l11 -219l17 -32l13 219l12 -119l15 -62l13 230l11 -161l13 154l13 -281l15 181l11 -178l11 296l14 -261l15 229l11 -285l14 86l17 211l9 -273l16 281l11 -180l16 159l14 -111l9 148l14 -165l14 128l13 -196l13 159l11 -258l15 301l12 -227l12 199l16 -92l16 56l11 -158l12 97l13 143l14 -308l12 206l12 -121l18 120l8 -189l16 274l12 -245l13 179l13 -177l16 189l10 24l15 -173l13 -214l12 205l12 -79l14 96l13 146l16 -423l13 239l10 -193l12 192l15 -164l12 246l13 -488l18 66l10 443l15 -592l15 607l9 -336l15 188l12 -259l16 466l10 -523l14 480l14 -490l12 512l12 -391l12 22l18 408l12 -323l11 -99l12 444l14 -120l15 -199l14 12l13 318l12 -310l13 195l14 -249l14 309l11 -148l16 238l14 -64"/>
<path stroke="#3399cc" d="M259 963l12 -10l14 -79l10 -31l17 87l8 -25l16 5l10 25l17 19l14 -5l11 -85l11 93l15 -119l14 134l13 -35l11 34l14 -63l14 7l16 20l12 24l13 -55l14 45l13 -17l13 35l12 7l14 -10l10 -44l16 36l13 13l11 -49l17 29l9 -63l13 -2l14 77l12 -61l16 44l12 23l11 -40l16 -121l12 91l13 64l12 -177l16 155l13 -24l15 -180l8 131l14 73l13 -164l18 61l13 19l12 -114l10 188l17 -143l10 167l16 -145l13 136l13 -130l11 -197l15 260l10 20l17 -142l13 -124l10 -5l18 139l12 75l12 -99l14 139l9 -120l15 90l13 -185l17 211l12 -159l9 138l18 -149l14 152l12 -67l9 86l17 -178l14 198l9 -77l13 132l13 -191l14 -29l13 149l13 -157l16 27l14 87l13 -119l9 229l15 -296l11 254l14 14l18 -151l7 -5l14 107l13 -108l16 -79l15 160l9 -154l13 126l16 -182l15 230l9 -188l17 -150l11 370l15 -191l10 160l14 -432l11 35l17 361l13 18l13 47l13 -441l14 373l10 -171l15 66l13 112l14 -186l15 -147l10 336l12 -238l12 -311l17 -27l15 178l7 466l16 -196l13 -37l15 200l9 -306l15 208l12 -70l14 -39l12 121l13 -417l15 424l12 -16l18 -195l12 248l8 -145l17 136l14 21l10 -89l12 107l18 -124l14 197"/>
<path stroke="#663399" d="M256 923l14 46l15 -141l11 138l10 -56l15 44l15 -62l15 77l8 -52l14 56l13 -53l13 11l13 -57l14 97l14 -81l13 40l15 0l9 41l15 -46l15 15l14 -40l14 29l14 44l11 -37l9 19l17 -28l14 47l14 -29l13 27l8 -61l18 61l12 -74l14 44l15 -3l11 3l10 24l14 -41l17 35l9 -72l15 -8l15 70l13 -154l9 156l14 -86l17 -138l8 109l17 79l11 -244l17 205l8 -296l13 4l14 238l18 -68l12 179l11 -245l15 146l15 -221l11 272l11 -119l13 -26l16 207l13 -311l10 301l17 -326l11 185l15 82l14 70l8 -158l14 3l13 130l17 -106l9 99l17 22l11 -208l14 144l12 -31l14 -91l11 76l18 -35l11 155l15 -146l8 -36l16 -74l12 209l13 -132l14 180l14 -194l15 92l13 -56l9 -70l18 122l12 -193l14 256l13 -334l11 324l13 -58l14 -91l13 138l13 -73l15 33l14 -362l8 320l16 -146l15 218l8 38l18 -65l8 22l16 -215l16 -14l12 21l12 -62l13 229l11 -198l18 193l12 -258l10 307l12 -266l14 254l15 -59l16 -517l12 614l10 -275l13 -54l15 160l14 -355l10 149l14 155l16 -269l12 429l15 56l10 -636l13 645l14 -307l15 223l15 -212l9 298l14 -208l13 -127l14 109l12 150l15 7l15 -145l9 254l17 -178l11 131"/>
<path stroke="#996666" d="M257 903l15 -19l12 -37l13 67l12 -18l15 70l11 -47l15 28l9 -17l16 7l15 -44l10 44l12 -40l13 73l19 -67l13 31l13 19l13 -24l13 45l10 -47l13 25l13 -53l12 11l13 56l13 -10l17 0l11 -25l17 -28l13 61l9 -43l12 51l14 2l14 -57l11 -21l17 42l9 -24l19 52l13 -83l11 -53l13 49l12 20l15 50l13 -175l13 96l10 -110l13 160l19 -226l13 208l10 -58l16 -251l11 240l12 -77l11 -51l18 124l9 107l16 -303l10 231l14 -257l18 230l8 32l14 -1l17 -20l9 91l14 -3l13 -353l17 269l9 -97l16 14l12 -89l12 210l15 -171l13 119l12 -245l11 213l17 19l11 78l12 -76l13 115l18 -189l8 149l16 -150l14 195l10 -228l18 138l9 -130l14 182l13 -147l17 123l8 -14l17 -175l8 231l16 -106l13 -90l16 124l11 -129l16 170l12 46l12 -214l14 -53l11 206l17 -203l12 188l11 -76l11 -189l15 311l16 -26l11 -270l16 95l13 162l10 -393l17 110l13 281l11 -189l14 -141l8 -27l14 347l13 -422l15 421l12 -614l18 206l11 383l14 -522l10 -44l15 599l12 -413l16 204l12 169l12 -251l13 161l17 -209l9 177l14 -314l15 498l9 -381l13 218l17 -197l13 297l12 -68l13 55l15 80l12 -104l12 95l17 2l10 29l16 -113"/>
<path stroke="#808080" d="M255 890l13 78l13 -135l16 108l15 -52l11 84l14 -71l14 44l13 12l10 12l13 -95l14 81l12 -81l15 49l10 -16l17 15l11 40l12 -28l15 29l15 -76l14 54l11 -29l10 8l15 32l16 -56l12 76l12 -51l13 29l13 -26l13 40l12 -75l13 83l14 -68l13 56l13 -44l12 41l18 -76l11 78l15 -51l15 -93l7 63l16 69l14 -81l11 76l15 -204l14 201l13 -213l14 188l10 -44l12 -193l13 11l16 187l13 25l14 -43l15 -15l8 -55l16 84l15 -130l10 -54l16 5l10 161l16 -106l9 174l16 -97l12 4l11 -20l16 95l11 -80l14 -176l15 241l13 -194l10 218l14 -330l16 123l11 131l14 -12l14 80l12 -96l14 145l14 -176l15 109l10 -216l16 18l10 191l13 -171l14 211l15 -105l11 72l16 -108l11 158l14 -199l15 77l10 129l16 -32l11 -51l15 -247l9 42l18 -14l9 97l15 83l11 -64l13 158l17 -187l10 -263l15 435l11 -227l16 -145l15 151l8 141l16 -364l15 216l11 98l14 -182l13 -332l11 628l13 -28l13 -482l14 384l16 -328l10 48l13 227l16 -270l11 459l12 -367l13 313l13 -284l13 352l15 -114l15 46l13 -616l13 523l15 -420l12 375l11 -2l16 -165l9 270l18 -73l11 -3l14 72l13 82l14 -99l10 20l14 -135l11 267l17 -228"/>
<path stroke="#333399" d="M258 888l13 -10l12 85l14 -133l11 57l16 61l12 8l10 -23l18 9l9 -35l18 32l11 -61l11 89l12 -56l14 62l12 -37l14 33l13 -49l17 21l9 -27l17 29l10 -9l17 40l11 -71l14 65l12 -69l12 60l17 -26l11 2l14 39l11 -51l12 -45l18 73l10 -48l12 66l18 -66l9 52l17 -58l10 49l11 -1l14 -96l13 102l14 -123l15 42l15 -154l13 237l12 -305l15 285l11 -185l13 -27l13 57l10 41l18 22l11 108l13 -211l11 194l14 -281l12 272l17 -206l13 140l11 15l15 -97l12 126l15 -210l13 241l14 -274l12 210l13 49l12 -153l12 -17l15 -32l16 165l11 55l10 7l18 -146l8 152l15 -262l14 245l11 -173l17 144l9 -98l18 -88l10 186l14 -282l12 294l14 35l13 -46l15 -147l15 140l11 -152l15 108l11 94l14 -278l11 260l15 -266l14 229l14 -112l11 125l10 -151l14 76l14 -205l13 288l16 -457l9 213l14 139l12 -360l17 276l15 -398l11 438l14 -99l12 -39l13 167l15 -182l9 122l13 -115l18 250l8 -476l18 494l9 -434l16 440l13 -325l15 335l13 -198l10 -86l12 158l15 -373l13 317l15 -303l10 472l14 -401l17 -35l9 433l12 -171l17 151l14 -180l12 120l12 -88l13 176l12 -299l17 238l13 -153l9 265l12 -99l18 41l14 -88"/>
<path stroke="#336699" d="M259 973l10 -111l14 70l14 -94l13 131l14 -45l12 33l13 -22l15 -37l11 60l12 -20l16 -14l9 14l13 30l19 -57l11 59l10 -33l13 12l17 18l11 -33l16 37l13 -55l12 40l15 -26l11 11l13 -27l15 40l11 -40l11 63l17 -7l14 -50l8 38l13 -32l14 -5l17 49l13 -61l9 26l17 -103l13 126l11 -111l16 97l11 -143l12 68l17 -56l11 -89l15 61l14 -197l8 46l18 247l11 -105l16 5l7 -156l14 304l18 -166l12 151l9 -151l15 -123l16 55l13 245l14 -120l13 128l9 -250l12 204l18 -104l13 121l13 -266l11 -15l12 119l15 167l12 -286l12 250l13 -172l15 91l12 -57l13 150l13 -141l16 102l14 -80l9 147l13 -84l18 -61l14 111l12 -21l14 -208l10 163l16 70l8 -58l15 -98l13 144l16 -282l13 318l11 -290l16 183l10 -23l15 -88l14 233l10 -183l14 135l11 43l18 -174l8 63l18 -68l13 160l9 -320l13 2l18 -38l9 59l17 166l12 80l15 -375l13 269l11 -229l11 -15l17 373l10 11l12 4l17 -14l13 -715l10 93l17 537l13 -409l13 131l14 209l9 -147l17 239l9 -320l16 186l13 -374l15 519l10 -312l17 320l8 -505l18 153l8 213l16 -226l15 305l14 -104l11 257l13 -237l11 -118l17 354l14 -235l8 234l15 -53l13 -93"/>
<path stroke="#00cc44" d="M254 899l14 71l15 -59l12 -12l13 71l12 -45l18 42l10 -64l17 69l9 -71l12 -13l12 80l17 -99l15 103l8 -18l18 -18l9 -10l15 47l12 -51l16 50l9 -1l18 -25l11 15l13 -35l12 22l12 -34l18 48l13 -67l10 61l16 -49l12 40l15 27l13 -4l13 -84l9 88l14 -43l12 7l16 -99l11 -63l17 24l14 32l12 62l13 38l12 -47l15 0l9 -6l12 -183l19 -73l8 266l14 -344l14 262l12 -167l12 303l18 -212l11 218l16 -290l13 249l10 -45l17 87l8 -108l13 7l17 -210l10 188l13 -198l14 162l14 -49l11 -45l18 258l9 -194l15 135l13 -142l10 186l14 -195l15 -61l11 11l14 72l15 163l12 -16l16 -162l14 202l10 -113l16 80l13 -28l12 -88l15 -82l8 165l18 -164l12 68l15 125l8 -302l13 24l17 287l13 -166l9 75l16 -19l15 -111l9 145l17 -106l14 195l12 -145l14 -40l14 -201l11 334l13 -96l13 -326l10 393l14 -422l13 397l18 -403l10 468l15 5l9 -288l17 253l14 -277l11 -176l13 422l14 -620l11 453l17 -50l11 263l11 -418l16 395l13 32l11 -384l16 395l11 -523l16 236l12 75l13 -196l12 -229l14 620l11 -595l14 623l15 -235l12 87l15 -168l13 316l10 -179l16 157l14 -177l10 208l17 -258l11 241l14 -37l15 44"/>
<path stroke="#3399cc" d="M257 957l11 -91l17 80l13 -27l8 -50l16 45l11 58l16 -45l15 10l9 18l16 -70l14 85l14 -121l9 102l15 -22l11 33l12 -58l15 40l12 -26l18 38l13 -27l11 45l11 -54l17 53l12 -10l12 -36l12 2l12 46l17 -54l13 51l9 -86l17 68l10 -23l13 39l15 -58l15 32l12 -41l13 4l16 44l12 -83l12 29l12 -103l14 75l11 -76l15 125l13 -119l15 139l11 -239l15 158l11 -110l15 179l13 -189l11 -3l16 40l15 126l9 -201l13 231l12 -235l15 229l14 -140l13 132l16 -197l12 150l13 -183l14 252l12 -158l13 153l12 -199l13 -1l14 31l13 -39l11 142l15 -24l11 -238l13 332l14 -76l17 -154l11 56l16 187l13 -6l11 -130l10 -35l19 102l12 -235l11 300l12 -114l14 115l14 -227l15 216l9 -52l18 -61l8 -72l14 -5l13 105l15 -84l16 -140l10 289l15 -209l9 210l14 -117l13 -53l13 -210l16 290l12 -403l16 474l10 -253l12 102l15 -216l13 -97l11 298l14 -442l17 455l13 -52l8 -1l18 204l13 -394l12 273l11 -511l17 165l10 422l14 -496l12 240l12 -382l15 371l15 274l14 -332l9 303l15 -268l13 -264l16 513l11 -21l10 -419l17 17l10 179l16 347l12 -302l12 193l18 -100l12 182l11 -274l16 299l8 -97l14 -19l14 149l13 -192"/>
<path stroke="#669966" d="M258 937l12 28l13 -126l12 100l12 21l17 5l12 -14l12 -38l13 55l16 -33l12 11l13 -75l11 97l12 -64l13 37l15 1l14 -4l12 18l14 -30l16 10l11 9l11 -5l14 -14l13 27l17 2l11 -35l14 54l10 -10l18 9l10 -35l16 -17l11 37l14 -55l14 33l11 38l11 -46l16 34l15 -33l11 -49l12 15l12 -26l14 60l13 -122l16 -57l14 104l11 -6l11 68l15 -314l15 248l10 -269l16 55l10 -39l13 199l12 15l14 99l16 -201l10 173l18 -110l11 59l10 47l14 -90l18 45l12 -19l13 -112l11 172l13 -264l15 294l15 -36l12 -19l11 -102l16 181l14 -174l7 132l17 -114l15 158l13 16l9 -133l14 52l12 -70l14 148l17 -92l14 -215l13 267l10 -162l15 1l11 207l13 -111l15 -177l11 94l17 129l11 -172l11 26l15 -102l11 235l16 -82l14 148l10 -325l13 211l15 92l14 -250l13 224l12 -18l14 -201l15 -86l12 14l10 161l13 -155l17 116l10 -401l13 577l15 -139l12 148l14 -266l12 248l13 -452l16 421l14 -92l13 -178l13 7l11 -204l11 106l15 219l14 -254l13 417l10 -564l16 555l14 -249l12 32l11 -141l14 195l16 101l10 -428l16 456l11 -218l18 240l13 -144l7 90l14 -207l13 9l15 105l13 220l14 18l10 -82l14 -26l18 25"/>
<path stroke="#336699" d="M258 899l14 63l12 -48l11 -51l14 73l16 -7l10 35l12 -25l16 -12l9 -25l16 -23l14 4l10 61l13 -26l14 53l16 -52l11 24l12 16l18 -26l13 18l13 -40l13 36l10 -38l17 41l10 -47l16 -7l8 63l14 10l12 -47l14 19l18 32l9 -92l16 88l9 -58l14 44l17 -47l12 34l14 -112l11 57l16 -4l9 75l17 -86l12 -81l10 116l16 -152l12 54l14 -199l13 333l10 -318l18 137l9 89l14 -207l12 302l16 -183l13 143l13 -210l15 218l10 -35l12 -40l16 11l13 28l13 -228l11 276l17 -276l14 285l13 -265l9 130l17 129l11 -39l12 -145l15 -1l16 -56l8 119l18 -76l10 85l15 28l11 -171l14 52l16 224l9 -158l17 144l10 -151l13 -35l13 -81l15 221l15 -158l8 119l16 44l12 43l17 -125l12 119l14 -11l13 -125l11 -103l11 132l13 -120l13 -91l16 297l15 -325l11 20l11 -4l13 158l17 -113l13 269l10 -534l18 456l7 -11l19 -225l9 209l14 -283l15 368l15 -94l8 98l13 -559l13 484l16 65l11 -323l14 -313l17 249l12 197l12 167l15 -202l10 -47l16 41l11 -153l16 407l11 -284l13 -206l10 277l15 -166l12 241l15 -267l16 142l11 239l13 -258l11 201l16 -135l11 238l17 -30l10 -144l16 -165l8 348l17 -271l13 270l13 -94"/>
<path stroke="#808080" d="M259 877l8 81l16 -42l16 51l9 -105l14 23l16 59l8 -39l17 60l14 -59l8 58l13 -83l15 -44l13 107l16 -45l13 22l11 31l15 6l12 1l16 -20l9 28l15 -43l11 49l16 -31l13 4l13 -58l10 85l16 -28l14 11l15 -11l11 28l14 0l10 -37l15 -28l15 48l10 -33l16 42l13 -68l13 -56l11 119l11 -125l17 -41l10 81l17 -50l11 127l13 -101l15 67l14 -216l10 71l13 139l14 -303l13 326l13 -207l15 223l12 -223l16 164l9 -325l12 297l14 -100l15 184l15 -229l12 177l15 11l13 -179l12 -52l11 262l13 -19l12 -170l16 186l14 -93l14 -40l11 132l15 -337l13 252l12 -55l12 -65l12 127l12 -156l14 223l15 -93l13 121l14 -43l14 -227l10 259l13 -213l15 133l14 -130l11 15l17 194l10 -241l12 201l14 -90l14 -197l13 327l17 -238l8 134l15 -129l14 125l12 88l17 -6l11 -247l10 264l15 -259l15 6l14 -289l13 349l8 140l15 -219l14 73l15 -227l11 398l13 -258l13 83l16 -165l10 330l14 -449l14 4l15 446l13 -368l11 4l11 223l13 -118l13 -38l19 56l9 -75l14 -153l12 423l14 -257l13 309l17 -558l10 549l14 -384l12 390l15 -216l14 -82l12 259l12 -273l13 234l16 -51l11 -37l14 -166l13 349l14 -226l10 220l16 -117"/>
<path stroke="#336699" d="M256 971l12 -46l17 38l10 -125l13 110l17 -22l11 -23l15 63l9 -43l15 -15l11 18l14 40l17 -48l13 -35l10 45l15 32l14 14l8 -78l16 75l11 -47l13 -6l18 30l13 -34l12 18l14 -9l13 38l13 -69l10 45l14 40l13 -35l13 17l17 -67l10 -14l17 89l12 -61l13 48l12 -42l14 40l12 -179l13 179l13 -28l12 -61l12 3l13 -50l13 122l13 -134l16 -19l14 48l15 22l11 -167l12 203l15 -208l12 261l14 -228l14 214l14 -138l13 -184l9 -20l16 269l13 -147l11 194l13 -230l14 266l11 -198l16 56l12 -202l16 218l12 57l11 -89l12 61l18 -72l14 126l8 -262l13 -20l15 329l13 -205l13 128l12 -182l17 71l12 188l10 -154l15 68l15 -174l15 215l13 -66l9 100l13 -137l17 142l10 -12l16 -299l11 302l13 -179l15 184l13 -307l12 266l15 -73l12 -68l12 174l13 -337l12 204l13 26l13 79l13 -54l17 -388l13 256l13 -125l9 120l18 153l12 -110l12 -367l13 317l14 -274l12 146l14 -184l14 492l15 -410l10 -171l17 507l8 -505l16 345l14 -149l12 320l10 -342l17 376l15 -80l11 122l15 -364l9 273l14 -83l14 -306l12 363l14 -149l15 -74l10 203l15 -281l13 422l16 -338l11 319l13 -68l12 -212l15 337l12 -249l15 213l13 -85l11 140"/>
<path stroke="#663399" d="M257 967l10 -44l18 2l11 -53l11 91l16 10l14 -74l12 18l12 -16l12 65l17 -38l9 -55l16 62l13 -15l12 42l14 -48l13 50l13 -40l14 40l12 -53l13 61l11 -68l13 53l18 14l12 -9l11 -63l17 67l13 -42l8 47l17 -30l15 33l10 -42l16 36l13 -22l8 -10l18 -25l11 59l14 -82l12 -8l14 83l11 -76l15 56l12 -111l16 -109l13 225l13 -209l11 203l16 -271l11 267l15 -354l14 152l8 146l17 52l11 -186l17 31l8 165l15 -60l17 -76l12 -34l13 167l13 -95l14 -37l12 106l11 -169l12 44l17 -110l11 183l16 -38l8 -159l19 88l13 150l11 -203l12 219l15 -122l11 140l12 -213l18 195l12 -211l11 90l11 19l13 61l16 -223l14 293l14 -15l11 -206l14 160l11 30l14 -211l11 241l14 -48l13 -103l14 129l14 -214l15 95l10 -80l13 151l14 -270l13 336l13 -305l16 -57l15 244l8 -297l18 390l11 -119l14 -386l10 307l17 -36l9 -247l13 430l17 -250l9 -272l19 207l10 348l13 -461l14 461l15 -635l9 554l14 -442l12 305l15 -180l13 289l12 0l17 -16l11 -238l16 335l11 -370l12 238l12 -352l14 -116l17 590l10 21l13 -361l12 185l14 -102l13 -50l13 254l14 -58l13 -10l14 155l11 -149l14 125l13 -67l15 -36l9 123l16 -130"/>
<path stroke="#339999" d="M259 921l12 45l12 -62l13 -54l11 118l17 -41l9 8l15 -39l14 72l15 2l12 -107l14 98l12 -74l15 45l12 24l9 -27l14 23l12 -62l14 82l15 -20l13 12l14 -61l15 30l11 -31l12 41l16 30l13 -23l15 -16l10 28l13 -52l13 62l13 -72l11 32l15 39l14 -49l12 44l13 -10l16 -59l12 59l12 -18l15 -119l15 104l13 -174l13 114l8 87l19 -201l11 191l10 -199l14 99l14 25l13 31l12 -128l15 173l11 -204l14 177l14 -192l13 15l12 194l15 -114l14 107l12 -55l12 -94l13 -102l18 -2l12 24l13 70l13 133l11 -115l15 145l9 -138l18 -106l14 153l11 -201l10 -56l15 332l13 17l14 -215l14 227l12 -118l16 130l14 -265l10 254l11 -99l17 59l14 -85l11 18l12 56l13 -242l13 291l12 -128l18 95l13 -272l12 276l11 -266l14 267l15 -127l14 -44l11 81l14 -125l12 198l13 -183l10 197l17 -489l14 303l14 -169l11 287l11 -122l17 -119l14 71l11 234l14 -408l14 332l9 -202l18 40l10 -260l16 492l11 -662l13 635l15 -653l10 550l13 -219l14 160l14 -414l14 298l14 -106l14 -103l8 522l14 -625l15 353l12 71l15 51l12 -198l15 333l11 -303l12 254l16 -195l14 272l10 -164l15 156l11 -311l14 255l15 -61l14 -48l14 118l12 83"/>
<path stroke="#0000ff" d="M253 964l16 -35l14 29l13 -85l12 98l16 -65l11 45l16 3l12 -22l12 -30l13 55l11 -86l18 -31l10 129l15 -52l11 46l13 -37l15 37l13 5l14 -71l9 74l18 -39l13 15l13 -6l12 0l10 -28l14 2l14 -13l15 49l11 -25l12 47l17 -56l10 -41l13 26l13 9l17 -8l11 66l12 -84l15 74l12 -170l15 43l10 89l17 -98l13 107l10 -145l14 27l14 -6l16 84l9 18l13 -206l15 212l10 -172l17 208l14 -102l9 49l17 -163l12 77l11 -92l16 231l10 -252l13 28l18 -80l12 191l10 -207l18 179l10 -243l14 379l10 -38l17 -266l13 -7l14 166l10 51l16 -226l11 285l11 -258l14 197l17 -39l9 142l16 -110l11 23l15 77l12 -133l16 -66l9 131l16 -158l14 221l14 -14l9 -86l16 62l13 -292l10 237l14 -128l17 167l12 -53l14 -4l10 -106l17 133l8 -165l17 104l12 6l16 -222l9 293l16 -285l9 280l18 -418l12 434l13 -487l12 327l14 -502l12 680l12 -239l13 248l14 -71l13 21l14 -131l13 -234l11 -253l19 480l7 -419l19 411l11 -366l13 227l15 -28l13 228l11 116l16 -254l13 105l11 -101l10 196l16 -177l11 229l18 -443l13 474l9 -410l17 404l12 -348l14 199l13 78l13 -69l12 166l14 -138l11 -82l14 38l12 139l14 -119"/>
<path stroke="#336699" d="M257 972l14 -111l10 84l13 -60l16 83l15 -31l12 22l13 14l11 -51l14 24l12 -41l15 13l14 -57l13 67l10 -12l17 53l8 -69l17 -3l10 61l17 -42l11 57l12 -67l18 39l9 27l12 -70l15 45l14 -29l11 -7l14 33l12 26l16 -82l11 82l17 -61l8 21l14 44l12 -57l15 -1l15 47l12 -154l16 152l13 -92l14 65l10 -20l15 -162l14 200l13 -30l11 -198l11 153l14 -77l17 -105l9 227l17 -161l13 12l12 47l11 48l16 -111l9 -26l16 191l10 -83l19 7l11 -91l15 181l13 -264l11 147l12 117l11 -4l17 -226l15 221l13 -122l11 127l12 -250l12 96l14 -169l17 255l13 -169l10 129l13 -107l14 143l12 -70l15 93l14 -52l11 13l13 -28l12 23l18 -25l13 106l10 -221l15 235l12 -48l11 -268l17 171l12 69l13 -86l13 -138l14 101l10 -102l17 145l9 -130l13 288l18 -26l9 -434l15 109l12 -132l16 455l10 -463l14 267l15 -323l14 342l12 -432l10 231l16 282l12 -128l12 47l13 -479l17 429l11 -303l12 265l12 -262l19 510l10 -694l15 293l13 349l9 50l17 -146l14 -410l13 569l9 -315l18 -176l10 402l14 79l14 -622l13 632l10 -303l14 245l16 -435l11 483l16 -246l12 -65l15 240l8 -93l17 64l12 -111l15 249l11 -80l14 104"/>
<path stroke="#336699" d="M257 914l13 40l11 -118l17 130l12 -84l13 89l11 -61l17 -6l13 55l12 -65l13 -22l13 0l15 79l10 -47l11 41l16 15l16 -42l9 -14l15 16l11 54l15 -31l10 17l17 -30l9 39l14 -28l18 25l10 -39l11 -9l15 -3l14 41l12 -57l17 1l9 22l14 29l12 -25l16 -6l14 31l11 -76l11 59l17 -50l12 -58l16 68l11 -152l11 161l17 49l8 -144l18 93l10 -294l12 193l17 -149l12 112l12 -146l14 332l14 -86l14 90l10 -205l13 33l16 22l14 50l13 -67l11 -5l14 138l13 -299l15 298l12 -119l9 56l14 -36l13 135l16 -230l15 109l9 -12l18 117l10 -234l14 239l11 -154l16 131l11 -171l12 176l14 -42l13 -74l14 117l14 21l15 -239l9 -57l13 200l16 -148l15 172l11 -168l14 211l14 -298l10 317l12 -205l14 -82l14 172l15 -1l10 34l17 83l11 -215l15 189l15 -227l7 116l19 -42l8 -173l14 328l12 -434l18 255l11 -442l14 485l12 -536l12 589l12 -541l17 606l14 -370l10 371l17 -332l8 -299l15 151l12 417l16 -458l14 317l14 -106l12 216l11 -345l13 387l12 -490l17 429l12 -173l11 238l17 -513l14 540l13 -499l8 398l14 -104l15 228l15 -482l10 479l16 -321l12 223l14 -72l12 206l11 -182l15 82l12 -90l12 46l18 108"/>
<path stroke="#33cccc" d="M255 894l17 53l9 -46l13 27l15 43l11 -23l17 -50l11 5l11 3l13 45l18 -14l8 -47l16 -20l13 100l15 -71l12 70l12 -41l16 33l10 -42l15 55l14 -2l13 -42l14 -6l9 -3l15 51l12 -55l14 48l11 -33l18 33l14 -26l9 14l16 7l13 -60l14 37l8 36l14 -29l16 22l15 -89l11 43l15 -47l12 88l10 -6l15 -100l15 91l12 6l13 -159l11 146l18 -165l9 146l16 -230l9 99l13 14l17 147l10 -112l14 71l15 -329l13 284l12 -62l16 -50l12 26l15 110l11 -267l14 -16l13 250l13 -124l13 99l11 -143l16 235l10 -269l14 196l11 -92l15 185l12 -282l16 146l14 98l14 -117l11 97l13 -67l16 124l11 -118l15 -19l12 110l15 -70l12 -7l10 -86l16 52l13 92l10 -70l15 38l14 -5l14 -244l13 300l9 -34l19 -232l12 171l12 -175l11 278l14 17l12 -124l15 -171l14 166l14 -166l14 270l12 -10l15 -498l7 405l16 -243l14 64l11 260l16 -568l14 25l12 517l10 -348l16 -83l11 457l15 -616l15 610l11 -665l11 100l15 573l16 -257l12 -276l11 366l13 -116l15 172l11 -330l12 99l16 212l14 -280l14 336l9 -187l14 -341l14 588l14 -291l14 276l11 -140l12 176l18 -231l7 73l18 193l11 -1l12 -294l16 114l10 171l15 -166"/>
<path stroke="#996666" d="M255 964l13 -98l14 101l15 -81l14 48l9 -37l17 10l13 65l9 -67l17 49l14 -10l11 22l15 -20l12 -62l11 80l12 -65l18 70l14 -79l13 64l13 -43l8 32l16 -41l13 25l11 45l15 -61l16 58l10 3l14 -35l11 33l15 -72l15 27l10 -32l14 74l12 -44l13 10l14 -24l13 -28l14 -56l14 69l13 -103l12 167l16 -89l9 -147l15 53l12 84l15 -81l15 36l13 -94l11 49l11 145l15 -255l12 170l14 98l16 -152l12 -64l15 27l10 17l12 95l14 -58l12 139l12 -91l19 90l9 -8l17 10l9 -56l17 -320l13 288l9 -103l18 159l12 -130l11 -111l14 33l12 46l13 7l16 160l13 -216l11 220l15 -170l14 216l11 -123l16 62l11 -219l16 267l13 -172l11 50l15 128l13 -255l13 244l9 -239l13 99l16 61l10 -161l13 142l18 -61l12 165l9 -148l15 145l15 -196l10 96l18 77l13 -297l12 273l13 -41l10 -328l14 350l15 -467l15 360l12 -147l11 193l16 38l14 -472l9 441l16 -276l15 39l11 50l12 -334l11 564l14 -242l14 -248l17 472l11 46l13 -538l10 536l15 -581l16 472l12 -435l14 386l11 -361l11 352l15 -385l15 153l11 116l16 275l14 -246l9 -107l17 166l9 195l14 -196l14 237l15 -144l10 -190l15 288l14 -63l14 -35l11 165"/>
<path stroke="#996633" d="M256 914l11 48l15 -130l13 95l14 -16l11 43l13 -61l14 21l17 57l14 -31l12 8l11 -12l14 -24l10 32l17 -32l11 63l12 -8l13 -75l17 77l11 -49l15 50l12 -25l12 -23l14 17l14 -6l12 6l11 -37l17 71l14 -37l10 -35l12 49l18 -71l8 93l17 -46l12 -23l12 57l16 -81l11 84l15 -160l9 118l13 -105l18 126l10 -55l17 -103l10 137l14 -172l11 114l14 -213l14 150l15 28l14 -91l9 149l15 66l12 -40l14 10l12 14l13 -309l17 213l12 -168l12 57l15 207l12 -136l10 -111l16 92l11 91l18 -78l9 106l13 -33l13 -152l13 -14l17 -57l12 62l15 176l11 -120l14 23l12 159l15 -183l12 190l15 -89l11 93l13 -96l12 85l14 -195l14 -120l10 171l18 128l10 -175l16 8l9 -58l17 183l10 -185l12 144l14 -97l12 -95l19 171l9 51l16 -83l13 -20l12 96l11 -134l14 -49l12 173l17 -164l13 46l10 -169l14 -48l12 352l16 -277l12 46l14 -159l11 286l14 -272l16 358l9 -239l15 146l11 -315l13 205l13 -235l16 312l15 134l8 -435l15 247l15 -118l15 124l10 -301l14 69l12 403l14 -250l16 59l10 -160l17 52l8 292l14 -466l16 399l10 -303l13 -27l16 466l10 -351l18 368l13 -286l9 292l17 -141l10 146l17 -152l10 70"/>
<path stroke="#996666" d="M257 940l13 -24l11 48l15 -91l11 10l12 85l15 -54l13 -22l13 36l17 14l10 -53l14 53l13 -20l13 -22l11 72l15 -65l13 62l14 -19l12 17l13 -71l16 75l11 4l11 -8l16 -65l14 65l14 -79l13 54l10 31l17 -15l14 -61l11 76l14 -60l11 2l16 30l13 -37l10 12l12 42l17 -90l9 81l18 -165l12 132l11 -34l17 -49l8 45l15 -177l16 225l9 -301l14 258l16 -156l12 190l13 -96l10 63l14 -50l15 28l11 -144l15 203l13 -162l13 -143l12 313l17 -224l11 189l13 -147l12 -65l14 251l13 -229l13 -110l16 207l12 39l13 107l15 -149l9 139l15 -280l13 228l11 -294l17 311l15 -106l10 79l11 48l17 -21l10 -43l13 -158l17 -3l14 146l11 -96l13 109l11 -7l15 54l12 -241l14 279l12 -165l11 149l18 -225l11 220l15 -92l14 -24l10 -12l13 48l15 -107l15 10l12 -16l13 24l11 169l12 -100l15 -283l15 311l12 49l12 -141l13 -467l16 178l13 291l12 -368l11 443l13 -289l16 346l12 1l11 -272l13 140l14 120l15 -588l12 259l15 9l11 -225l14 85l16 414l10 -431l13 343l13 -250l17 56l10 278l16 -384l12 434l12 -331l11 335l18 -24l13 -169l12 -2l14 153l13 -45l14 63l13 -108l13 157l13 16l10 -32l13 -79l15 117"/>
<path stroke="#999933" d="M255 967l17 -112l12 73l11 -59l17 101l9 -67l13 56l12 -68l16 29l13 39l11 -40l13 18l14 -93l14 67l17 59l11 -47l9 51l14 -83l15 70l11 -38l18 28l9 -44l14 67l11 -52l19 17l9 1l15 -27l10 54l18 -15l14 17l10 -73l13 66l13 -94l13 31l12 25l12 39l19 -69l8 51l16 -113l14 67l9 -22l17 78l11 -205l12 73l18 19l11 -84l11 -51l17 201l14 -301l12 306l11 13l13 -34l14 -120l13 145l13 -24l15 -118l13 59l12 -175l14 285l12 -122l15 -48l14 114l14 -185l11 143l14 -42l10 49l15 -137l10 174l19 -208l12 148l11 -189l14 271l15 -59l13 -215l13 222l14 -106l7 44l19 135l8 16l13 -66l15 50l12 -145l18 26l9 129l13 -91l17 73l10 -137l17 126l12 -197l12 215l13 -59l13 24l14 -206l10 -81l17 317l10 -154l13 120l12 -228l14 -20l16 47l10 199l18 -125l8 45l17 -151l14 240l12 -447l15 437l12 -527l10 369l13 -366l17 80l9 304l14 -330l14 -109l12 457l13 -276l18 243l9 10l17 -64l7 -145l16 223l13 -234l12 -174l17 520l9 -62l16 105l14 -225l14 -384l10 453l12 -469l17 533l13 -367l11 -23l14 375l10 -241l17 333l11 -420l11 110l14 215l17 -46l14 148l11 -220l15 257l13 -174l9 152"/>
<path stroke="#669966" d="M254 969l15 -81l11 75l15 -49l13 -41l12 32l17 40l10 -35l13 7l15 48l11 4l18 -60l10 -46l14 80l16 5l9 -42l14 35l12 -41l16 32l10 25l17 -40l11 35l12 -11l16 15l11 -47l12 19l15 -14l13 50l12 -42l17 50l8 -35l14 21l16 -2l12 -53l15 70l9 -18l16 -17l15 16l11 -155l14 147l12 -49l11 6l13 49l16 -172l11 151l13 -129l15 129l11 -70l17 -40l12 -178l10 169l17 33l12 -131l14 201l10 -65l18 -254l13 325l12 -118l9 119l16 -120l11 134l15 -167l16 -133l12 267l9 -190l15 212l13 -237l13 266l15 -14l11 -191l17 181l14 -243l9 247l17 -187l14 149l11 -77l11 -124l16 182l14 -27l13 49l9 -46l16 -102l12 181l11 -151l16 15l15 104l11 -104l11 -148l13 282l15 -237l11 224l15 -180l14 -55l13 249l12 -104l14 109l11 -18l16 -256l15 -15l13 237l12 -242l10 178l15 -218l11 220l14 -381l13 60l12 221l15 -136l17 188l9 -177l16 295l15 -213l10 3l12 -183l16 295l11 -375l15 104l9 -34l18 140l14 -394l7 341l14 -168l15 336l12 -151l16 -30l10 -121l17 146l9 30l17 269l14 -393l12 397l13 -40l13 -304l15 45l10 292l11 -4l14 -59l13 -261l17 291l9 -92l18 -78l11 199l15 -182l12 230l14 -106"/>
<path stroke="#cc6633" d="M256 874l11 96l18 -93l11 34l15 55l12 -37l12 -28l14 71l13 -34l15 35l14 -76l11 -3l11 37l17 -67l9 101l16 -30l10 -11l16 50l13 -13l14 -30l13 26l15 -45l9 0l15 49l13 10l15 -81l8 52l18 33l12 -4l11 -76l16 69l11 -59l11 58l16 -72l11 80l14 -62l13 40l16 -91l12 -24l12 89l12 -48l18 73l7 6l16 -31l13 -82l14 -27l15 36l13 -126l14 -91l11 50l16 110l8 -163l17 244l11 -142l16 182l10 -232l13 -42l13 246l15 -54l12 -134l11 250l15 -189l16 83l11 53l14 -121l13 151l13 -286l15 299l10 -139l14 -148l12 271l16 -155l13 -115l13 171l13 -11l13 129l13 -259l13 184l12 89l14 -163l11 137l14 -199l13 210l11 -202l19 136l9 -128l16 183l12 -188l15 160l11 -306l12 232l15 18l14 -226l12 233l12 -41l12 -6l13 121l15 -162l15 166l11 -338l15 -39l12 373l16 -116l9 91l15 -202l14 54l10 -141l12 284l14 -463l17 -79l11 329l12 -278l13 59l14 289l16 80l9 -300l16 -294l12 480l15 -298l10 -78l15 502l14 8l15 -293l14 246l13 95l8 -474l13 356l18 58l13 -564l13 474l13 -135l11 256l15 -359l12 359l16 -506l10 485l12 -175l17 250l13 -239l8 234l13 -340l16 310l16 -169l13 162l13 -86"/>
<path stroke="#333399" d="M257 941l14 -67l15 90l10 -104l13 93l12 -66l15 14l15 66l11 -60l13 22l13 38l11 -80l15 42l16 -31l11 46l14 -3l10 14l13 -16l15 20l12 -64l12 63l18 -50l10 43l16 -51l13 61l13 -65l14 45l13 -30l10 44l12 -41l15 57l12 -61l17 33l10 -49l12 51l17 -12l14 40l8 -100l16 -99l11 115l16 -11l12 -93l14 164l12 -173l15 176l12 -145l12 -132l16 248l9 -239l17 151l12 -65l14 37l11 35l12 -30l14 116l17 -303l8 222l18 -221l8 321l13 -255l15 7l14 224l12 19l15 -280l11 35l13 227l18 19l10 -83l12 -222l17 264l13 19l10 -47l14 59l15 -229l14 232l10 -109l16 27l9 -35l13 126l16 -81l11 23l16 -179l9 -10l14 231l13 -135l18 88l13 -78l13 -60l10 66l15 79l11 46l14 10l13 -210l11 177l18 -57l12 -143l14 202l10 -169l14 34l12 86l17 -120l11 -71l14 105l10 68l18 -403l12 461l9 -527l15 51l16 292l13 -307l11 447l15 -384l13 89l13 50l11 45l14 -13l12 -33l17 58l12 164l15 10l10 -314l15 312l11 -256l14 -72l16 -133l7 100l13 81l16 -55l13 245l12 -293l17 377l11 -103l11 181l17 -337l14 279l11 -415l11 409l16 -261l10 131l17 -99l13 92l13 170l12 -89l13 150l14 -188"/>
<path stroke="#999933" d="M254 970l13 -89l15 29l13 -81l11 138l13 0l16 -47l15 40l10 9l14 -13l16 -71l14 -5l13 26l10 -44l16 35l9 50l17 17l13 -63l12 17l13 54l13 -33l12 35l16 -64l11 62l14 -14l12 -60l11 -2l14 49l14 -32l16 42l11 -38l14 19l15 36l8 -77l18 78l10 -78l13 15l15 -89l14 131l13 -40l13 -58l11 -32l17 8l8 -5l14 80l17 -102l10 41l17 -233l13 286l12 -135l11 156l11 -137l19 171l8 -214l16 75l13 28l13 -86l13 -88l11 84l16 200l11 -12l13 -244l12 -34l18 73l12 86l10 -213l15 322l15 -114l13 66l9 -238l18 188l12 97l13 -211l14 213l14 -277l11 132l15 165l11 -63l15 -57l11 35l15 78l12 -290l15 193l9 41l16 -78l15 66l9 -148l13 -46l17 193l12 -106l15 29l14 -128l10 233l16 -185l9 225l14 -320l13 149l14 131l16 -118l11 143l14 -57l11 -216l11 214l17 -353l15 301l8 -406l16 -28l12 -19l11 364l14 -335l17 56l8 378l16 -483l15 449l11 -7l11 -416l14 457l14 -422l17 459l10 -412l14 456l13 -437l13 -116l11 539l17 -442l8 390l18 -335l12 307l15 -443l13 475l11 -537l13 371l16 -217l13 278l9 -350l15 426l14 -241l15 354l8 -234l14 179l15 -84l14 20l13 88l14 -84l11 140"/>
<path stroke="#339999" d="M256 945l13 -49l11 70l17 -94l12 87l12 -23l15 34l14 -59l11 -8l14 52l10 -94l16 82l13 4l14 20l15 -71l11 56l13 -17l12 38l14 -74l11 41l17 -13l13 24l11 -18l13 -3l13 -13l14 -1l16 -8l12 53l12 -28l10 16l18 -34l14 58l10 -15l16 -79l10 68l13 -32l16 43l9 -73l14 72l13 -111l15 90l16 -107l12 -4l12 125l14 -94l10 38l14 -234l17 272l10 -320l15 170l13 -229l14 92l9 289l14 -109l14 128l13 -352l17 236l8 -227l18 339l13 -6l13 -107l11 51l14 -74l10 -1l18 110l10 -293l13 194l12 -14l15 38l10 -121l17 135l11 -137l13 -125l14 -19l13 310l15 -169l9 189l17 -224l11 239l16 -26l10 -83l13 -92l16 190l14 -181l9 126l15 -57l14 57l14 -160l13 166l11 -121l12 -12l17 154l9 -215l15 217l16 -107l11 115l14 -284l12 52l13 -29l11 150l18 41l10 -119l14 106l11 -175l13 222l17 -228l12 120l11 17l13 -399l18 518l13 -393l8 43l15 -189l13 354l13 -214l14 48l12 187l14 -246l16 415l8 -698l17 626l15 -149l13 -166l11 257l15 -360l10 510l15 -228l13 -164l10 313l15 -486l16 505l14 -240l10 108l14 1l14 56l14 -373l10 409l13 -247l15 40l10 92l14 237l13 -221l16 208l13 -127l13 110"/>
<path stroke="#669966" d="M255 971l12 -94l17 76l11 -9l16 -55l11 48l16 -32l8 5l18 4l12 56l15 -7l13 -47l8 42l17 -42l10 26l13 32l17 -44l10 38l16 -23l11 -49l16 25l9 53l12 -18l17 -49l11 20l14 34l12 10l12 -75l17 49l15 -51l12 17l13 61l11 -2l16 -66l14 53l7 -57l14 70l16 -137l12 83l12 -57l16 92l15 -130l8 132l15 -198l12 -2l16 150l14 -91l12 -68l10 7l16 78l13 -189l12 193l15 -95l11 50l14 120l11 -318l13 317l15 -250l15 24l15 265l10 -264l16 125l13 17l8 -73l19 -31l10 213l13 -149l13 164l16 -242l10 150l11 86l16 -164l13 132l11 -266l14 19l15 287l12 -210l12 179l12 -107l15 58l17 77l12 -264l12 201l15 -194l14 186l8 -83l14 -65l14 -73l16 259l10 17l12 -163l15 149l12 -200l13 181l12 -178l14 215l16 -129l13 130l14 -257l12 253l12 -373l14 180l11 49l18 -83l12 66l13 -126l11 240l12 -613l14 603l12 -464l17 477l11 -162l13 -353l16 256l10 209l14 -444l12 253l14 -107l15 259l12 -238l11 329l15 -425l16 411l9 -237l12 -185l17 249l12 -346l15 515l12 -212l15 -260l12 487l10 -514l17 126l10 134l12 -125l17 56l11 283l14 -186l14 -22l12 -51l11 82l14 273l16 -168l13 170l14 -222"/>
<path stroke="#669966" d="M259 880l9 83l13 -50l13 33l14 -83l11 29l15 74l17 -66l12 72l15 -62l12 -32l9 65l15 -36l15 -21l14 74l12 2l14 -37l10 43l11 -26l18 -15l10 37l15 -43l12 53l14 -64l15 54l13 -76l9 65l14 -52l16 64l14 -10l11 17l14 -86l12 30l12 -11l18 13l8 51l16 -59l12 -84l16 115l10 -94l14 -7l12 84l14 -89l14 -36l15 145l12 -150l14 148l10 -213l12 179l14 -311l13 137l14 210l13 -234l16 78l11 113l11 -6l13 -266l18 53l14 226l11 -165l11 182l16 -229l10 216l15 -213l13 -11l12 243l14 13l16 -208l13 175l12 -192l10 177l17 49l9 -348l16 313l14 -258l13 207l12 -13l14 -9l14 -82l12 195l12 -219l12 215l14 -42l13 -133l12 129l18 -47l12 31l14 -197l10 186l16 -171l10 -50l13 212l14 -210l15 260l11 -191l16 133l10 -113l12 83l17 -66l14 133l9 -296l16 286l10 -189l14 201l16 -430l12 386l12 -494l12 264l18 21l9 224l15 -281l15 299l13 -523l14 483l9 -335l16 278l13 -189l13 295l11 -503l14 247l12 -331l15 76l14 -164l9 195l18 67l13 187l13 -149l9 -79l14 124l17 316l12 -268l14 9l14 291l11 -232l12 -143l14 343l14 -57l13 -119l13 221l12 -145l14 -10l10 167l18 -115l11 131l15 -140"/>
<path stroke="#999933" d="M258 884l14 82l11 -101l15 43l8 -32l16 96l16 -76l12 65l13 -50l14 50l14 -6l12 -79l10 55l12 34l16 -35l11 43l17 -58l9 50l17 -66l9 61l13 -53l15 66l11 -58l15 32l13 -19l17 45l10 -63l14 47l16 -46l13 44l12 -14l9 -60l18 85l8 -79l18 54l8 -28l17 60l15 -114l12 93l9 -160l16 39l11 84l15 -61l13 -112l16 158l13 -95l10 48l11 -195l19 198l13 -247l10 318l14 -278l14 296l12 -92l15 41l12 -110l15 -197l8 2l18 296l11 -76l12 76l13 -98l17 13l12 -160l13 273l10 -72l14 9l14 -7l15 107l13 -255l14 219l12 -214l12 16l14 189l15 -173l10 7l13 196l13 -12l17 -158l9 187l17 -162l9 41l14 -80l16 118l9 -75l13 86l17 55l11 -194l15 202l11 -2l16 -293l11 249l14 -186l14 -63l10 289l13 -207l16 114l11 -117l16 99l13 -98l10 181l13 -325l12 296l18 -15l14 -268l11 209l15 102l9 -209l14 -473l12 672l18 -604l11 337l11 -32l16 187l14 -364l14 277l8 -311l17 447l11 -320l12 193l17 -96l12 -16l12 -81l12 267l18 -426l9 345l13 -70l12 112l18 -98l9 9l15 -52l11 -8l17 278l10 -455l13 57l12 339l15 -55l13 -21l13 167l13 -336l17 365l13 -287l12 277l15 -89l11 119"/>
<path stroke="#33cccc" d="M255 910l13 62l16 -138l12 22l10 88l14 -53l16 79l11 -53l15 44l14 -45l14 23l13 -28l12 -73l14 18l10 77l17 28l9 -48l17 6l11 31l15 -57l10 76l12 -38l14 43l16 -72l14 72l11 -44l13 45l11 -48l15 32l12 -52l15 11l11 25l17 -25l13 48l11 -13l15 -25l12 43l14 -15l10 -141l15 141l15 -77l15 -33l10 93l12 -202l16 44l13 91l14 -98l12 -31l10 164l15 -147l13 159l15 -309l13 109l12 49l14 160l14 -112l11 13l15 -137l11 238l12 -172l16 178l14 -140l12 88l12 -14l15 -88l11 -114l16 283l11 -184l11 166l15 -116l17 109l11 -87l10 -215l17 292l14 -165l11 202l13 -239l14 87l12 144l15 -142l13 145l12 -300l12 79l11 211l17 -22l12 -78l16 92l12 -143l12 151l11 -344l16 111l15 135l11 -59l16 126l11 -136l11 75l12 -206l13 194l18 -234l9 336l15 -364l12 135l14 42l11 -53l18 200l9 -489l13 442l15 -488l11 506l14 -105l12 28l15 -164l12 271l17 -390l10 26l17 -292l12 189l14 397l10 -435l16 -182l11 479l11 -222l16 313l14 -147l15 242l8 -373l18 189l8 122l14 -365l16 427l12 -601l16 368l12 -151l10 287l17 -322l11 227l14 -106l13 262l15 -43l9 64l17 70l10 -243l13 253l12 -103l13 -54"/>
<path stroke="#808080" d="M255 935l15 -32l14 -32l11 18l11 15l18 64l10 -65l15 38l12 -26l11 -8l16 33l12 -53l16 41l13 12l9 -10l16 38l16 -54l8 58l17 -61l11 46l11 -37l14 51l15 -31l10 18l15 -30l17 40l10 -69l16 52l12 -21l12 45l15 -86l13 51l14 -19l10 -14l12 34l15 -43l16 -11l13 -54l13 -10l13 -26l12 61l11 33l14 -93l13 155l11 -216l13 170l14 -115l15 -55l15 72l9 -242l13 54l15 323l11 -234l15 185l17 -164l9 -129l16 248l11 -106l13 -69l15 270l10 -125l15 -6l14 -17l15 -135l10 267l13 -331l15 74l12 210l13 -67l13 -61l17 181l8 -247l18 224l10 -212l16 149l9 -68l15 62l11 -11l18 111l12 -39l9 -82l15 -16l13 93l12 -147l15 175l12 -115l16 108l13 -189l14 217l13 -237l10 133l15 -33l13 87l11 -240l14 16l16 -17l11 242l14 -187l15 8l8 15l14 -203l13 246l16 -223l10 207l14 -42l17 185l12 -470l11 -38l14 314l15 -134l11 322l15 -9l10 -479l17 486l10 -529l15 483l11 -669l13 666l14 -257l15 262l13 -426l14 326l14 -258l12 211l15 -98l8 306l13 -228l15 202l13 -256l12 158l15 85l13 -504l13 437l15 -432l14 323l13 160l12 44l10 -107l15 89l11 -115l14 99l15 -184l14 219l15 -61l12 36"/>
<path stroke="#996633" d="M259 940l10 -65l17 70l8 18l14 -39l16 -20l14 46l10 -24l16 12l11 2l15 -4l9 -62l14 80l15 -66l13 87l10 -63l16 62l16 -71l8 44l14 -60l12 18l16 42l13 -48l13 75l14 -51l12 -35l16 36l12 50l14 -42l13 19l10 21l17 -82l12 59l9 -66l14 60l16 12l15 -72l13 80l13 -64l11 -61l11 73l16 3l10 -155l13 190l13 -237l14 213l13 -326l17 209l11 -74l16 60l9 -152l12 301l13 -183l16 121l12 -19l12 -20l13 -40l15 -197l17 334l12 -102l13 106l14 -275l8 221l17 -203l11 175l11 -243l17 333l12 -123l15 64l11 -164l17 184l12 -234l12 18l14 246l12 -117l15 44l10 -46l17 -88l9 89l16 79l14 -19l8 -185l19 16l12 -68l13 96l10 36l16 -8l15 67l8 49l13 -247l14 -54l16 216l13 123l9 -101l15 -62l12 105l14 -259l17 50l10 141l14 88l12 -164l13 102l16 -297l11 260l14 -282l15 385l9 -382l13 348l17 4l11 -490l12 -81l13 190l17 305l10 110l16 -396l12 206l15 -390l11 466l13 -287l14 363l12 -485l12 380l17 -249l12 179l11 -229l13 452l12 -367l18 -223l9 506l18 -524l12 595l14 -441l10 454l13 -71l12 -221l13 229l15 -83l15 81l12 -127l14 -15l12 129l14 104l11 -268l12 175l13 103"/>
<path stroke="#996633" d="M255 897l16 57l14 -53l8 -43l15 102l14 -22l15 2l10 -10l16 40l11 -41l11 18l16 -77l12 85l17 -87l13 92l12 -44l10 12l13 -11l16 -10l14 66l9 -39l13 -8l18 -9l10 29l14 -3l11 -1l15 -41l15 70l15 -54l8 56l18 -63l9 56l15 -91l15 8l13 44l9 33l13 -25l14 -12l15 -46l10 4l18 75l8 -99l17 -123l14 203l11 -243l11 149l17 32l12 -223l11 -58l14 317l18 -141l7 -35l15 46l13 173l14 -235l14 31l13 -33l14 142l9 -11l15 -37l13 137l15 -111l15 105l11 -230l15 -110l9 232l17 -42l9 90l17 -52l11 102l16 -249l12 266l14 -325l12 320l11 -212l14 212l13 -35l12 -194l16 163l10 -116l18 169l9 -163l14 34l14 113l11 -172l16 75l11 -128l16 215l10 -81l17 39l11 -134l12 90l16 -8l12 127l15 -81l9 -194l16 168l10 -172l15 234l16 -160l10 -57l12 123l16 -211l12 -81l14 400l15 -192l13 -170l10 216l14 -243l14 386l15 -496l8 342l19 -406l10 15l13 408l11 -470l17 335l9 86l18 148l9 -617l18 388l8 -157l17 266l14 -343l11 55l14 -76l13 88l14 -186l13 587l14 -375l10 -118l14 309l16 -4l11 205l12 -277l12 269l14 -164l14 64l14 88l16 -228l8 -18l13 167l17 115l13 -175l12 198"/>
<path stroke="#3399cc" d="M255 900l17 -19l9 -13l15 31l11 65l18 -63l8 21l17 45l10 -47l12 50l13 -57l18 30l10 -105l15 106l12 -18l17 24l10 -48l11 55l15 -68l16 77l8 -34l13 5l14 -17l14 41l15 -51l15 40l8 -48l18 58l13 -21l14 32l8 0l15 -56l15 -27l14 85l12 -72l13 -4l15 34l12 -13l14 -87l8 79l14 -64l15 54l11 -98l18 18l12 31l13 102l13 -213l11 180l11 -286l14 172l14 -21l15 -148l16 279l9 -13l16 -174l13 142l9 -295l15 329l17 -245l12 260l13 -190l9 146l18 -147l12 89l13 64l12 -162l13 221l15 -152l10 129l15 -230l15 89l12 158l15 -199l12 -53l11 253l13 -84l13 6l13 -8l14 38l13 -85l12 -31l16 175l14 -174l9 50l14 -58l14 126l14 -41l12 92l12 -198l16 195l11 -283l13 270l16 -263l13 191l12 -139l13 152l12 -187l15 45l14 182l11 -141l15 24l11 139l12 -335l13 27l13 121l13 -214l19 -188l10 341l13 -190l15 172l14 34l10 -231l14 386l15 -425l9 151l14 -65l13 -171l12 372l17 -411l13 283l10 169l17 -471l12 578l16 -351l8 -176l17 512l13 -58l13 -461l14 538l13 -283l11 -256l12 504l13 -244l14 133l16 -218l12 305l13 -150l15 83l12 200l12 -323l15 255l8 -190l18 257l9 -136l13 150"/>
<path stroke="#808080" d="M255 906l13 61l16 -116l9 85l17 -61l12 95l13 -68l15 0l11 68l12 -74l17 40l12 -9l9 42l19 -55l11 25l10 15l17 -38l12 28l16 -8l8 34l18 -44l9 -31l14 71l12 -43l17 45l11 -36l13 -19l16 57l9 3l16 -69l13 53l15 -76l12 -11l11 99l14 -51l15 56l13 -55l12 -10l10 -71l15 -46l15 153l10 -67l15 41l11 -164l15 81l12 58l13 -85l13 -3l15 -71l16 157l12 -305l12 338l12 -52l13 -139l12 119l18 -166l12 246l10 -164l15 94l13 -89l16 -18l9 -80l12 214l16 14l14 -259l11 287l15 -71l13 -138l15 175l12 -247l14 20l14 202l13 -15l13 -95l10 162l14 -97l14 63l13 -141l12 207l16 -185l11 12l14 -46l11 200l13 -6l16 -114l14 42l8 -180l19 17l12 181l13 -258l12 83l14 118l11 -77l12 -120l18 316l12 -210l12 187l14 -147l11 24l13 34l13 -362l15 405l10 -453l17 376l13 -217l9 -71l15 229l12 -76l17 -369l11 586l16 -346l12 -104l11 403l12 -490l17 379l9 -150l18 213l9 -498l12 442l18 -123l9 -159l18 451l10 -408l11 328l19 -210l12 170l12 -444l10 507l16 -213l12 263l12 -104l14 -227l15 282l12 15l12 41l17 -189l11 59l12 -147l14 317l14 -296l12 224l16 -33l9 59l13 -135l15 187"/>
<path stroke="#333399" d="M253 933l14 -38l13 -58l17 114l13 -69l12 76l15 -17l9 -53l18 69l8 -14l18 -73l9 76l13 -109l17 105l13 -50l11 81l12 -20l15 -33l11 9l18 27l10 11l14 -21l11 -21l15 -8l13 1l11 -15l15 11l11 -7l15 44l15 -45l12 39l16 -61l13 90l12 -70l13 70l11 -44l13 -21l17 18l8 -102l15 137l12 -125l12 -50l15 134l14 -126l13 157l14 -204l11 45l16 8l15 -19l13 -209l9 100l14 255l12 14l17 -156l13 92l12 -175l10 17l16 89l12 -36l17 147l13 -129l11 -166l14 308l14 -168l11 155l11 -198l13 150l16 12l14 -140l15 164l9 -236l15 253l13 -273l10 81l13 207l17 -243l13 186l11 -191l14 265l16 -215l8 209l18 -4l10 -186l13 154l14 -83l13 -47l12 162l16 -37l15 -145l12 -90l14 102l8 152l18 -194l8 107l14 -185l14 179l17 13l12 -144l14 228l10 -359l14 350l12 -250l14 105l12 -229l15 358l10 -477l19 427l9 -489l12 264l18 -144l11 -106l10 395l18 -100l12 131l15 -446l12 335l15 -444l10 157l16 287l9 -181l14 331l15 -253l11 111l16 -320l9 522l13 -270l17 216l13 -91l14 -275l14 310l9 -49l11 -204l16 135l17 58l8 -347l16 399l10 -139l13 170l13 -110l13 195l18 -265l9 107l18 132l13 63l12 -176"/>
<path stroke="#808080" d="M255 937l16 34l13 -104l14 100l13 -49l9 32l18 -37l12 26l10 2l16 31l15 -97l12 89l9 -70l17 -27l9 108l18 -5l12 0l13 -52l15 -14l9 65l13 -10l14 -4l15 -22l13 -23l12 34l12 28l14 -58l13 0l15 2l13 -4l11 30l12 23l15 -69l14 3l14 64l9 -70l18 60l12 -39l13 -104l12 -16l16 110l11 -79l10 -48l18 56l14 83l12 -54l15 -190l9 204l13 -281l12 320l17 -271l10 10l12 218l18 -46l10 103l12 15l14 -388l15 255l13 -106l16 240l10 -103l16 92l11 -123l13 117l14 -352l13 216l12 108l16 -66l13 -117l11 164l12 -184l11 251l18 -336l14 302l10 -210l11 233l16 -27l11 -168l15 157l16 -50l9 53l17 -51l8 -127l18 209l13 -129l13 -46l11 153l11 -7l16 -226l12 216l14 -307l13 168l15 71l14 -151l11 244l14 -248l11 200l15 -153l15 217l12 -106l14 -339l14 438l9 -291l16 48l10 -252l18 246l10 77l12 -349l14 -2l14 -41l14 466l14 -179l9 156l15 -455l11 547l14 -261l14 -37l16 81l10 -136l12 122l15 142l13 -180l13 -127l16 199l10 -359l12 491l16 -146l12 105l12 -386l15 349l15 -64l9 170l16 -398l14 188l13 122l9 -343l18 403l12 -65l11 0l14 155l14 -221l15 202l9 -195l17 93l14 74"/>
<path stroke="#3399cc" d="M254 916l17 14l10 -83l15 113l13 -78l15 19l13 49l14 2l9 -17l13 -41l18 70l7 -77l16 41l16 -25l10 68l16 -45l9 -7l14 53l14 -62l15 31l9 -3l16 8l10 -13l17 41l10 -5l17 -83l13 80l13 -35l14 -3l9 38l15 -31l14 -52l16 50l12 -11l11 47l14 -61l11 28l16 -114l9 138l17 -160l13 96l13 42l14 -163l13 125l14 -82l11 -5l13 98l11 -98l15 115l15 -246l14 145l12 -238l14 340l13 -130l14 77l12 -202l9 112l16 -53l13 207l11 -132l13 -115l15 20l12 -59l17 33l14 222l10 -209l13 52l15 87l14 -154l13 235l9 27l15 -271l15 121l10 -136l16 41l15 103l9 41l11 -32l19 -13l11 77l16 -189l7 206l17 -94l15 51l11 -51l11 146l13 -219l16 116l12 -48l16 100l12 -331l13 260l11 32l15 -281l15 365l9 -176l17 -117l8 72l17 112l9 -244l16 252l12 -74l12 -135l17 196l10 -398l13 324l15 -78l11 208l13 -378l14 398l18 -493l7 287l15 -161l17 134l9 230l13 -427l14 407l16 -276l9 186l14 -207l15 106l15 41l8 67l16 -300l11 212l15 38l13 -298l11 377l18 -468l14 523l8 -337l17 43l9 -176l16 448l10 -381l15 83l16 296l10 78l17 -223l11 179l16 -200l11 227l14 -157l13 102l11 -51"/>
<path stroke="#3399cc" d="M256 963l11 -54l16 28l15 -80l13 79l14 -9l7 5l17 -18l12 54l13 -50l12 14l15 1l11 36l18 -45l11 37l13 -35l14 36l9 -59l14 40l14 -57l16 10l12 45l11 30l15 -51l13 3l14 23l10 -61l14 16l17 53l14 -26l9 -6l16 -24l9 0l16 51l12 -24l17 22l11 -41l14 -30l11 67l13 -72l15 79l11 -87l13 85l14 -165l12 96l16 -121l12 133l14 -224l12 179l11 -68l14 119l14 -253l13 158l13 117l14 -89l13 -12l14 -173l11 167l18 2l10 -85l15 22l13 171l13 -327l9 330l17 -188l15 50l8 163l14 -223l15 224l11 -220l14 167l17 -224l9 208l13 -248l14 254l13 -141l15 193l14 -125l12 -15l10 53l16 64l14 -226l13 177l12 -145l13 171l12 -47l13 -2l17 -31l9 -54l14 155l14 -320l12 186l16 -171l14 45l11 146l15 109l12 -283l12 163l11 103l18 27l9 -274l13 272l17 -491l9 281l15 56l11 152l16 -412l14 181l13 -362l15 454l13 -248l8 -93l19 210l10 -158l15 -164l11 563l16 -431l10 417l13 -445l15 419l11 -306l13 55l16 287l12 -391l13 373l12 -250l13 142l13 -377l15 403l12 -378l15 313l15 -112l12 215l11 -390l13 44l17 355l10 -258l13 315l15 -165l9 13l16 199l15 13l14 -161l9 137l15 31"/>
<path stroke="#663399" d="M259 896l11 52l12 -74l17 71l9 -69l16 96l9 -35l13 18l16 -59l11 45l14 -52l11 81l17 -124l12 101l15 -17l14 10l13 35l9 -55l14 43l13 -24l13 35l15 -18l12 -14l14 -28l13 34l14 -22l13 15l12 35l15 -64l10 39l14 -13l14 -2l16 -61l11 98l11 -1l15 -59l12 55l14 -147l12 123l12 -109l13 125l18 -127l11 -18l12 105l13 -71l14 42l13 8l12 -284l16 306l14 -369l10 138l15 178l13 -109l15 160l11 -105l11 -129l17 91l10 -121l17 198l13 -143l12 153l15 -184l14 256l7 -134l16 -232l14 11l10 351l17 -203l15 186l9 -232l12 210l14 -211l15 210l12 -206l13 36l16 -34l13 178l12 -100l15 131l11 -151l15 198l11 -140l12 117l15 -36l12 -109l11 136l13 -124l14 -32l14 149l15 -120l11 107l16 -144l12 196l13 -287l16 279l12 -287l8 282l15 -120l15 114l14 -36l13 -326l13 312l14 -216l10 -235l14 173l13 157l17 -279l11 339l13 -280l10 -71l15 414l11 -171l13 -372l17 465l14 -399l14 -107l13 529l11 72l15 -336l9 -317l14 607l15 -496l10 527l15 -225l17 177l12 -276l11 17l14 73l12 -374l16 43l10 50l16 410l11 -302l15 357l12 -433l15 382l11 -269l11 428l18 3l8 -159l17 2l10 106l14 -117l15 100l10 -15"/>
<path stroke="#663399" d="M256 880l14 45l11 -97l14 35l12 97l17 -41l13 30l10 -44l13 -7l14 17l14 -30l13 37l11 40l13 -86l18 84l11 -59l13 49l11 -6l16 -1l15 -36l12 60l9 -67l17 70l14 -5l10 -61l17 35l12 -19l10 53l12 -40l16 9l11 -13l15 44l13 -33l14 -43l15 77l9 -57l13 47l14 -84l12 32l16 -36l12 -41l12 109l12 -155l15 109l13 -95l14 129l15 -221l12 217l16 -87l12 -59l13 51l13 -86l13 111l11 -86l12 120l16 -248l10 198l18 -66l8 0l15 113l13 -129l16 98l12 -36l14 -150l13 129l13 -53l12 195l16 -226l11 214l13 -265l16 268l8 -216l13 29l14 -158l13 264l12 91l19 -194l9 184l17 -168l11 68l12 77l12 -202l15 137l13 -18l11 84l17 -166l12 195l16 -11l11 -151l10 157l17 -170l13 164l13 15l11 -25l16 -94l13 76l11 -227l12 265l17 -241l13 162l12 -367l9 433l16 -469l11 176l13 279l19 -1l11 -358l10 343l18 -689l13 541l12 -424l13 401l10 -36l15 171l15 -433l9 451l17 -313l12 148l13 177l14 -330l13 195l12 -271l15 396l14 -37l9 -421l16 192l12 280l16 -376l10 378l13 -640l14 388l15 -199l10 324l15 -293l13 411l11 -89l15 -196l14 280l12 39l13 -148l13 151l13 -171l13 38l17 -57l13 13"/>
<path stroke="#cc6633" d="M257 968l11 -11l16 -69l15 40l11 0l15 11l11 -39l12 -10l14 83l14 -39l12 29l13 -59l15 21l12 -34l14 14l10 49l17 -33l9 25l14 -36l14 49l14 -42l12 -8l14 56l11 -24l16 19l11 9l13 -36l13 43l16 -36l12 24l11 -76l15 71l15 -34l10 -17l14 29l13 12l13 -36l17 50l11 -17l12 -119l14 23l11 11l18 13l9 77l13 -169l15 -55l14 202l13 -114l10 -121l18 -128l10 347l12 21l16 -155l12 169l13 -128l11 -185l18 45l10 242l15 -259l13 208l12 -148l14 -10l12 161l16 -4l12 -78l11 -125l17 38l12 249l10 -218l18 198l8 -284l18 186l11 -16l14 -138l10 179l15 -120l12 125l14 -156l13 147l15 -98l14 144l10 -77l12 69l13 -215l18 183l12 -108l12 145l11 -163l14 -22l14 211l14 -264l13 29l14 242l9 -206l14 135l12 -98l14 6l16 -29l13 188l16 5l10 -347l11 338l15 -248l12 175l16 -315l13 264l10 52l18 -117l12 -336l12 495l10 -444l17 -25l11 279l16 -148l10 -189l16 528l13 -422l12 -173l10 576l13 -680l18 596l10 -411l16 500l10 -602l12 330l13 117l18 -337l9 -71l18 453l8 -324l18 -74l10 490l12 -152l13 -5l16 -113l10 -35l14 255l15 -74l12 -109l13 183l15 -149l11 282l17 -127l10 -47l14 119"/>
<path stroke="#669966" d="M254 907l15 50l15 -67l11 50l11 -76l17 49l14 17l12 24l13 -42l15 -6l13 39l14 -14l11 -36l11 47l13 -34l14 65l14 -43l13 42l16 -83l9 58l16 27l13 -31l11 27l12 -54l16 49l12 -24l13 29l13 -3l15 -51l14 51l10 -58l16 10l12 1l11 54l17 -75l10 54l12 -66l17 78l13 -180l14 7l13 165l9 -148l14 123l16 -193l13 121l14 -84l12 44l13 -150l10 240l13 -227l13 80l15 -154l15 164l13 111l13 -151l14 -138l11 336l14 -46l12 -181l12 25l13 115l16 -196l12 182l15 -89l14 176l10 -362l14 376l13 -73l17 -177l10 202l13 -105l15 60l13 -149l10 172l15 -179l16 256l11 -90l11 49l16 -61l14 103l8 -84l15 -151l17 224l9 -301l11 165l19 116l11 -201l11 202l15 -112l14 127l10 -192l13 214l15 -192l15 82l12 -84l15 58l13 -110l10 233l18 -341l12 331l14 -40l12 -337l10 220l17 -165l13 308l10 -96l11 -474l14 548l16 -50l11 -443l17 347l9 -40l13 82l18 -197l12 82l11 138l11 -509l16 499l11 -80l14 -136l13 -272l15 550l12 -285l15 329l13 -616l11 626l14 -138l13 32l12 53l16 -548l14 428l12 -53l10 41l15 141l16 -495l11 505l13 -355l12 294l14 -5l13 61l13 -164l16 234l14 -187l13 52l10 146"/>
<path stroke="#669966" d="M259 938l8 -81l15 78l14 -28l12 -7l12 72l16 -34l10 18l18 7l11 -48l15 44l14 -45l13 54l8 -90l19 96l11 -46l15 21l10 -17l13 22l13 -11l14 -37l12 53l14 -31l14 13l14 32l14 -16l10 -54l15 58l14 -16l9 27l15 -45l14 40l14 -46l14 21l11 27l11 -59l14 41l13 -86l16 63l10 -44l17 41l9 -39l16 -106l14 82l14 -148l12 225l15 -168l11 138l12 -286l12 307l17 -93l8 -214l18 320l13 -110l10 70l13 -7l16 -233l15 5l10 179l16 -139l13 -28l9 213l17 -4l13 37l13 -289l8 294l17 -165l11 161l15 -294l15 231l12 -139l15 219l8 -371l14 235l17 -4l8 129l13 -269l18 273l12 -175l15 179l9 -253l17 259l12 -150l13 44l13 -92l12 167l11 -119l17 -148l13 205l9 75l18 -196l13 -50l12 -6l13 -66l13 215l16 5l9 -177l17 263l10 -130l11 150l15 -173l16 -123l9 59l13 59l16 4l10 -128l14 50l14 -199l17 290l10 -329l13 188l16 -12l10 -268l12 420l16 -18l11 -105l17 227l8 -442l18 430l14 -690l9 422l14 92l16 -195l13 134l11 -95l11 329l17 -323l14 -235l9 360l14 -31l15 -110l13 -28l11 206l12 95l13 -82l17 -316l12 189l14 306l15 -119l11 153l15 -202l9 39l13 87l15 -111l13 -37"/>
<path stroke="#999933" d="M259 890l10 6l13 35l13 26l13 -4l14 -27l13 41l16 -55l12 19l12 30l14 -97l14 74l12 -45l11 55l17 -13l11 -29l12 15l14 20l14 33l15 -16l11 -65l14 59l12 -38l11 42l18 -36l10 -1l16 24l10 32l12 -61l15 31l12 -6l13 -25l12 -31l13 75l15 -25l12 15l14 -22l14 12l12 -56l16 53l10 -73l18 35l11 -47l15 22l10 -171l15 204l9 -124l18 59l14 -122l12 195l10 -357l15 310l14 -150l14 91l10 39l15 -128l13 166l15 -273l12 319l11 -212l15 -40l15 258l9 -226l14 -7l15 -130l12 217l13 46l13 -114l14 119l13 -105l12 165l12 -185l15 122l16 24l8 -121l17 -28l14 185l12 -165l15 190l9 -9l14 -65l13 14l13 -14l16 95l11 -186l13 86l11 -94l13 188l17 -249l14 220l13 -19l12 54l13 -162l13 113l12 -87l16 101l10 -179l12 214l13 -353l14 7l17 -73l8 350l16 -404l11 332l14 -314l17 428l9 -205l15 -464l13 280l16 374l12 -589l11 476l13 -368l15 405l13 -462l13 534l13 -581l11 530l16 -484l10 382l16 -155l11 207l14 -73l12 -314l12 390l18 -98l8 29l18 127l13 -610l11 594l17 -577l10 639l16 -438l9 79l15 146l16 205l8 -35l18 -226l8 290l14 -177l16 190l9 -18l15 -252l14 216l11 53"/>
<path stroke="#996666" d="M259 937l9 -24l15 44l13 -44l12 36l11 -13l17 7l14 5l12 22l10 -54l16 14l12 -32l16 28l13 3l12 -21l10 45l18 -17l13 -24l11 -21l16 79l9 -54l17 58l9 -34l16 23l10 -65l13 57l17 -24l9 22l16 -1l11 -15l12 9l15 -23l13 37l13 -70l16 61l13 8l10 -52l17 27l13 -141l11 149l15 -72l15 66l7 12l18 5l13 -239l10 160l16 -207l10 196l18 -221l8 100l13 -111l15 109l14 195l12 -106l14 -7l12 -199l12 -27l18 91l11 180l15 -93l10 -75l13 138l17 102l11 -268l11 152l12 -234l17 356l11 -198l12 181l19 -283l11 209l11 -18l15 50l15 6l13 -225l12 260l9 -132l16 -42l14 146l12 -138l14 -10l10 156l17 -76l11 112l12 -35l13 -131l16 172l11 -295l15 188l11 -174l17 188l10 -140l15 98l14 37l13 91l11 -176l14 128l16 -184l13 -91l9 19l15 258l14 -182l10 56l18 -83l12 2l9 142l16 75l12 -600l13 578l13 -185l16 -73l11 109l12 -58l17 187l8 -424l14 369l15 -393l12 -245l16 693l15 -667l13 544l8 -289l13 399l18 -6l9 -395l12 432l18 -154l13 -471l11 307l14 135l14 31l9 -275l18 446l12 -103l13 -359l13 350l14 -151l11 188l12 -172l14 122l13 162l16 -200l12 209l11 -122l15 81"/>
<path stroke="#999933" d="M257 875l11 54l14 -80l12 95l12 -73l19 91l8 -53l18 42l13 -37l13 13l10 -50l13 19l12 -38l18 113l13 -61l10 61l15 -5l15 -7l11 -47l12 26l15 28l10 -53l18 36l7 0l16 -6l12 8l14 9l12 7l16 -34l10 20l15 -43l16 46l13 -89l10 107l12 -38l16 -20l11 29l13 -58l16 30l10 -117l17 158l13 -73l13 15l14 -54l8 106l16 -153l15 124l14 -84l9 -98l16 160l12 -167l10 154l14 -85l15 149l15 -228l10 121l15 -136l11 186l16 -169l11 208l16 -103l13 11l13 -54l11 -60l14 210l15 -305l9 303l17 -167l10 103l15 -209l15 281l9 4l14 -158l15 12l15 23l12 -73l9 184l19 -204l10 224l12 -188l14 -64l11 234l16 -39l12 45l15 -113l12 9l14 -2l12 -170l12 278l14 -163l11 71l16 -115l16 163l12 -30l11 -106l16 -77l11 -52l11 213l18 -165l9 124l14 64l12 -339l16 374l14 -472l14 276l11 -259l14 268l15 -294l8 214l15 -170l15 -139l11 414l14 -351l15 383l13 -304l12 381l11 -509l14 474l15 -585l12 472l12 64l17 -475l9 539l17 -503l11 188l13 392l11 -513l13 499l16 -448l14 353l11 -547l13 441l15 -314l13 519l13 -322l15 298l12 47l11 -208l15 82l15 26l13 -242l13 318l10 -233l15 270l13 -149"/>
<path stroke="#808080" d="M254 885l15 3l15 27l11 -31l12 82l16 -44l13 42l12 -12l16 -53l10 59l12 -91l16 33l14 -28l13 76l12 24l15 -50l10 5l16 44l11 -29l16 7l8 -52l18 76l10 -41l17 39l11 -30l11 -5l17 12l8 -30l15 5l15 14l13 -3l14 -37l15 72l8 -76l18 77l10 -48l12 48l17 -112l9 -3l14 80l15 -138l13 142l15 -56l8 -24l14 67l17 -113l11 -96l10 7l19 130l12 -82l12 107l13 -235l15 284l13 -102l12 119l12 -130l16 74l12 -309l12 353l13 -211l13 226l13 -190l14 168l11 -228l18 -136l11 339l12 -127l14 19l13 101l15 -292l9 294l16 -159l12 16l12 184l17 -15l9 -164l14 176l15 -119l15 64l11 -149l13 211l12 -228l16 172l14 -168l8 -21l15 229l16 3l11 -130l16 41l11 -27l13 -232l13 350l14 -181l14 -116l14 291l10 -234l15 211l13 -250l11 82l15 162l13 -413l12 340l16 -283l8 295l15 -288l14 371l16 -309l8 35l14 -134l12 -31l13 270l15 160l12 -382l14 229l15 -297l12 426l12 -18l15 -259l15 118l9 108l15 -401l13 456l12 -294l16 117l13 190l10 -450l12 418l17 -203l10 155l16 -602l12 269l15 93l15 65l13 263l11 -232l13 109l15 -203l9 152l17 190l9 -177l16 147l14 -222l13 157l14 103l13 -133"/>
<path stroke="#3399cc" d="M258 966l10 -60l15 -7l11 47l18 -40l12 65l14 -64l9 30l14 33l16 -49l11 6l10 -56l15 -31l15 119l13 -69l12 19l17 63l10 -62l12 44l16 -54l12 69l14 -28l11 -44l15 62l15 -18l10 32l14 -88l13 63l15 -15l13 -11l14 1l12 25l10 -43l13 -26l18 92l11 -37l14 -6l12 34l10 -77l13 41l18 -126l12 65l9 23l19 -149l9 77l12 133l13 -279l14 159l18 -39l10 -14l14 -11l13 3l14 -1l15 58l9 127l15 -151l14 17l13 -57l13 -74l13 92l12 -104l14 168l15 -253l12 279l10 62l15 -241l13 7l13 95l16 148l10 -158l13 121l12 -221l18 -118l13 223l9 90l13 -68l15 140l13 -130l14 111l10 -76l19 -6l10 -58l12 132l12 -253l16 37l11 223l12 -157l14 166l17 -198l10 193l16 -78l12 66l15 -316l10 317l13 -3l15 -146l13 168l12 -12l13 -248l15 147l14 -184l14 145l9 -141l15 12l12 57l14 -98l10 -24l17 219l14 -599l11 599l16 -216l12 291l13 -420l13 18l15 171l10 -345l13 253l17 325l12 -697l12 292l14 420l9 -563l16 276l14 -178l14 267l10 -126l14 164l15 -190l9 61l13 -234l15 101l16 353l12 -314l10 182l14 -37l17 185l9 -2l12 -193l16 262l16 -174l8 -125l16 312l12 -255l16 188l11 -170"/>
<path stroke="#999933" d="M258 912l11 22l16 -74l14 78l10 32l15 -75l11 59l11 -55l15 46l14 -2l12 -12l13 -56l12 93l17 -87l11 93l11 -21l17 -55l10 74l18 -20l8 -62l17 75l13 -64l15 65l13 -40l10 46l15 -76l13 3l13 -3l14 65l10 -20l16 -33l13 41l11 -31l14 41l14 -19l13 0l11 33l13 -145l15 7l13 110l12 0l14 -165l11 163l15 -62l12 -38l16 100l13 -334l15 311l13 -327l9 281l14 -36l12 -144l16 213l11 -198l14 181l13 -101l11 -165l17 255l10 -39l14 -137l14 47l15 80l14 -204l14 217l8 67l12 -343l18 333l11 -123l15 -22l13 185l11 -101l15 109l14 -246l11 197l14 -101l16 2l11 -99l12 96l15 159l13 -111l14 69l8 -242l18 203l13 32l12 -77l14 -118l11 17l12 131l13 -21l13 -176l14 253l12 -27l18 -259l12 262l13 10l10 -256l16 136l13 156l10 -309l15 138l16 -248l14 346l11 -330l11 85l17 280l13 -404l12 102l14 147l12 -158l11 92l13 -124l12 349l19 -548l11 539l14 -144l14 -441l10 34l16 -127l10 634l13 -206l13 -240l14 53l13 351l15 -120l11 -338l16 377l13 -402l10 331l14 192l15 30l14 -87l13 -406l13 347l14 -231l11 18l13 307l15 -338l13 443l13 -306l14 311l10 -206l11 190l13 -62l17 -67l11 114"/>
<path stroke="#808080" d="M259 932l9 34l17 -128l9 125l18 -24l11 -40l14 49l11 -60l14 12l10 56l17 -31l10 27l14 -54l12 -26l16 79l13 -5l14 23l11 -41l15 39l15 -56l10 42l13 -47l17 44l12 -36l9 60l17 -45l11 43l16 -50l12 40l11 -50l15 55l14 -81l10 77l16 -42l14 36l14 17l10 -72l12 65l14 -75l12 68l14 -11l13 -2l17 -91l9 97l13 -97l15 -20l13 -53l12 91l15 -6l15 -306l8 364l17 -319l12 297l11 -82l17 43l11 -213l11 -106l14 397l16 -52l11 -76l13 29l13 97l14 -133l14 -105l16 235l10 -169l15 -115l10 301l15 -237l12 111l13 112l13 -175l13 105l16 -168l13 -35l13 276l12 -221l11 -35l14 198l17 -103l9 124l13 -90l12 -112l14 175l16 -74l13 -95l11 157l17 -147l13 190l11 -311l13 160l13 182l11 -6l16 -299l11 204l12 -125l18 116l12 -128l10 193l14 -257l12 -87l14 300l17 -214l13 251l9 -256l17 -121l14 352l9 -377l14 129l14 43l15 100l11 -316l17 323l12 -102l11 -251l16 440l11 -319l16 283l9 -480l14 -93l11 213l17 -157l13 257l14 68l11 -3l12 38l15 40l14 177l13 -287l9 -264l18 471l9 -488l13 518l16 -347l13 420l16 -254l7 261l16 -47l12 -154l15 167l13 -2l13 -146l13 214l12 -60l17 -132"/>
<path stroke="#336699" d="M258 952l9 -94l15 11l13 83l11 -40l14 32l15 -48l13 68l12 -22l17 -20l8 39l18 -19l12 -20l13 37l14 2l14 -27l13 2l14 -22l10 58l15 -72l14 74l14 -44l12 43l13 -32l10 -43l16 -14l12 56l10 -16l16 14l12 7l15 -56l14 17l11 62l11 -56l17 62l12 -62l14 35l12 -62l12 63l16 -160l10 108l18 40l13 -198l8 163l16 -70l12 -10l17 106l9 -287l14 216l16 -187l11 19l10 146l16 20l12 -126l13 169l14 -201l14 216l12 -173l13 194l16 -242l12 245l11 -300l13 84l15 132l16 -307l8 11l14 354l13 -152l14 148l16 -251l8 287l13 -102l14 80l13 -282l15 110l14 48l11 104l18 -57l10 -59l16 142l10 -32l12 -157l17 -56l10 260l15 -223l10 115l16 -128l13 222l12 -200l17 96l12 -98l11 99l12 -13l12 -153l14 246l18 -156l8 145l15 -107l11 -23l17 40l14 -303l12 41l10 359l16 -181l12 92l14 -178l14 54l12 -267l13 425l14 -481l13 538l11 -412l15 7l15 392l10 -267l17 -86l9 -237l16 559l12 -502l12 354l17 -280l12 460l13 -313l11 -51l13 379l13 -318l17 235l12 -436l14 248l13 -145l12 238l15 -211l13 361l11 -495l12 511l16 -294l8 -76l17 404l13 -207l12 132l13 85l13 -187l13 111l15 -76l14 102"/>
<path stroke="#336699" d="M253 912l17 -3l13 14l12 32l11 6l18 -67l13 34l10 24l15 -44l15 62l13 -79l13 74l14 -44l9 -56l17 58l12 41l9 -4l18 -31l8 36l16 -46l11 28l16 28l13 -36l11 5l16 8l10 -5l13 -58l15 69l15 -40l10 27l13 1l16 -37l15 63l9 -37l14 11l14 -34l11 37l15 -82l15 -11l12 34l14 59l11 -70l14 -88l13 162l11 -136l15 -7l13 131l16 -299l11 153l16 92l14 -156l8 114l18 -57l8 126l16 -230l10 249l15 -304l12 304l16 -23l14 -100l9 108l17 -256l14 271l9 -170l14 -206l16 152l12 181l15 -169l13 81l12 105l13 -136l14 -60l12 224l11 -2l12 -126l16 136l16 -102l13 24l10 -99l16 162l13 -174l12 -107l10 300l17 -209l9 155l16 -26l15 -116l10 112l15 -88l14 122l12 -310l12 106l11 54l16 -117l12 287l14 -291l11 303l18 -289l13 297l10 -199l11 -81l17 235l12 -41l14 -358l13 218l12 -157l17 250l9 -430l14 376l16 -192l9 262l18 -341l9 421l17 -626l9 598l14 -417l13 266l12 -538l13 522l17 -374l10 302l13 222l18 -225l7 147l19 -244l12 30l9 -230l13 360l15 -185l11 380l16 -569l15 367l10 -26l14 208l14 31l12 -244l16 247l13 -209l12 241l13 -269l15 -89l13 73l9 299l17 2l14 -103"/>
<path stroke="#336699" d="M257 901l13 70l14 -137l10 20l16 48l12 -12l11 65l13 -63l16 77l11 -51l17 1l11 6l16 44l8 -65l13 71l13 -25l13 -31l16 55l12 -78l13 77l12 -32l17 -42l9 56l18 -30l13 46l9 -33l16 -38l13 17l14 12l13 -6l14 50l9 -70l19 23l9 -31l13 79l13 -73l13 72l13 -15l16 -185l10 160l13 -58l13 -74l16 104l12 -65l16 100l11 -22l14 -249l12 268l11 -213l15 -137l14 301l16 -305l13 368l7 -147l17 136l12 -86l15 -167l13 -71l13 262l14 -135l10 150l17 -211l12 3l13 61l11 131l15 -127l10 158l16 -78l15 -183l13 171l12 -132l15 154l9 -110l17 -41l8 3l15 220l11 -125l16 -76l12 233l12 -75l13 21l16 -105l14 150l10 -2l16 -216l15 233l8 -221l17 189l11 -188l16 149l11 34l15 -211l9 153l15 -171l15 155l15 -165l12 191l9 -115l19 16l9 89l16 -303l9 338l16 -168l11 -21l17 168l11 -349l16 367l10 -594l11 545l14 -222l17 270l12 -154l9 -387l14 312l14 -262l14 368l12 -542l12 451l17 -488l13 448l11 -257l15 438l13 -369l12 347l11 -23l14 -310l17 31l13 228l9 -288l14 429l15 -315l11 204l15 -234l12 277l16 -335l12 344l10 -258l14 378l14 -180l16 164l12 -346l10 380l13 -231l17 248l10 -121"/>
<path stroke="#33cccc" d="M254 961l18 -106l8 70l18 -21l11 34l15 -51l9 42l14 -16l13 59l15 -80l16 0l9 -24l17 101l12 -90l9 16l19 77l9 -41l12 38l17 -69l14 39l12 -11l10 -13l18 43l8 -22l14 -42l15 14l15 61l8 -41l14 28l15 -23l13 -32l13 51l17 -71l12 65l11 22l13 -51l12 21l17 13l12 -116l13 125l11 -93l15 26l10 -129l14 154l13 -201l15 154l15 -131l14 53l8 -18l13 128l18 -390l9 367l15 -33l13 77l13 -178l14 -130l12 261l13 -218l15 287l14 -41l12 -225l15 189l10 -123l16 193l9 -224l12 161l17 -234l11 307l15 -225l10 200l18 -37l13 10l11 -281l15 287l12 -188l11 219l15 -154l15 120l13 -57l12 49l10 58l17 -246l12 198l11 -225l14 264l14 -191l16 172l9 -239l13 -5l16 19l13 163l12 -13l11 -84l18 175l8 -8l13 -217l14 224l18 -245l11 -36l15 -64l11 189l11 -153l13 212l18 -140l13 139l12 -292l10 308l14 -537l16 465l9 -273l17 298l9 -263l19 189l10 -307l10 406l16 -543l14 558l11 -129l13 -215l14 314l15 77l10 -350l13 99l19 -72l7 173l18 -347l14 478l11 -517l13 369l12 -462l14 31l14 342l12 148l16 -295l10 51l16 -26l12 402l15 -289l8 9l19 208l9 -158l13 73l12 46l16 129l13 -202"/>
<path stroke="#800000" d="M255 896l16 55l12 -87l15 60l13 -18l8 65l15 -75l16 64l12 -17l12 11l11 -6l16 15l11 -51l17 35l11 -41l12 51l13 6l13 -4l16 -63l10 77l17 -7l10 -69l18 21l10 53l16 -76l8 67l15 -76l15 15l11 53l15 -49l13 63l15 -32l10 18l12 -49l14 69l13 -16l14 -75l16 45l12 -105l11 -32l14 170l12 -168l12 156l15 -165l12 -29l15 182l13 -135l14 -36l11 109l17 -301l11 65l15 -38l10 328l17 -221l12 214l14 -243l9 15l16 243l15 -213l12 194l11 -121l16 120l10 -198l15 21l9 -59l14 107l13 -163l16 278l14 -123l11 -61l13 223l16 -121l10 41l12 -180l13 88l17 79l13 100l13 -149l9 20l15 107l12 -209l16 176l14 -44l11 52l13 -74l17 -3l8 -138l19 210l7 -176l13 -110l14 294l13 -66l16 -227l12 314l12 -165l15 115l16 -251l9 257l12 -287l15 293l15 -324l14 306l13 -405l10 183l12 262l13 -501l15 -116l15 -53l14 176l14 345l12 118l14 -441l12 342l9 -58l17 -289l14 -72l14 528l10 -532l17 158l10 332l11 -507l18 362l12 -344l12 141l14 320l9 -381l17 470l14 -347l14 333l12 -375l9 368l17 -472l15 289l9 -287l12 21l15 427l16 -364l11 415l16 -293l8 275l17 -280l10 68l16 145l14 106l11 -135"/>
<path stroke="#cc3399" d="M254 887l16 38l14 -33l14 21l11 4l16 34l10 -38l11 -5l13 12l15 -13l13 -46l17 104l7 -67l18 68l14 -49l12 11l13 35l11 3l13 -51l16 59l11 -76l16 71l10 2l15 -75l13 65l11 -38l14 37l17 -59l13 25l8 42l13 -81l13 65l13 -41l18 2l12 61l12 -62l11 46l15 -121l13 120l16 -48l11 -69l11 -34l16 101l11 -183l13 218l16 -53l12 -31l15 -71l14 98l13 -157l13 50l8 -130l14 295l16 -180l11 44l16 99l10 -313l15 223l13 133l16 -239l9 2l14 198l13 -295l14 250l14 -119l10 137l13 -122l13 98l17 -121l13 -83l14 70l8 16l16 172l15 -127l10 80l13 -104l16 43l9 78l18 -34l14 31l12 -81l14 55l11 -131l15 188l11 -210l12 249l14 -230l13 108l15 -151l13 258l14 -368l10 326l13 -175l17 202l14 -223l12 197l11 48l12 -271l17 180l11 -191l13 113l11 -99l13 206l16 -442l15 391l12 -171l10 -131l16 180l14 -447l11 534l11 100l16 -519l16 214l8 -208l18 521l12 -365l11 174l13 -127l13 215l12 -323l17 289l9 -273l15 -169l13 461l13 -474l16 599l13 -39l15 -362l8 -170l14 5l15 321l12 -257l11 381l16 -89l10 123l14 -108l16 -112l10 78l17 143l10 53l16 -271l14 308l11 -158l15 192l14 -42"/>
<path stroke="#33cccc" d="M256 928l12 2l14 -101l11 138l17 -41l14 -3l8 44l14 -39l17 45l12 -71l14 11l11 40l16 9l14 -109l12 90l14 -27l11 55l15 -72l9 70l14 -67l16 -2l10 61l14 -26l17 28l12 -37l14 40l10 -43l15 29l14 -37l12 56l10 -57l14 50l15 -64l16 52l11 -22l15 -9l8 20l14 -71l16 61l12 -140l10 147l15 -128l14 20l15 77l10 -118l13 -38l13 52l17 2l12 113l13 -268l13 248l14 -202l11 49l15 83l10 -62l18 45l10 -61l12 192l15 -279l16 279l8 -107l15 106l13 -136l15 -83l14 44l10 -189l13 369l13 2l13 -158l13 44l17 6l12 -97l10 52l15 -173l15 312l11 -152l11 -60l18 131l14 -79l8 110l13 11l17 -102l9 146l19 -222l12 83l15 112l11 -236l13 156l11 -23l16 -7l10 -177l13 86l16 225l13 -178l11 185l16 -171l13 163l10 -144l14 -4l16 -87l8 -215l19 296l10 -102l11 235l14 -341l17 315l12 -502l12 414l12 -552l16 494l9 -110l14 249l17 -442l13 106l10 325l13 -584l15 244l10 247l16 -167l13 50l11 -366l17 199l12 357l15 -439l9 365l16 -67l15 200l10 -607l14 184l12 -156l14 38l15 345l9 -208l14 314l16 -368l9 307l17 -134l12 203l15 50l12 -229l11 -55l13 159l17 -17l10 133l12 -68"/>
<path stroke="#339999" d="M255 922l13 -25l14 69l14 -124l14 129l14 -78l12 4l11 14l15 14l13 45l16 -78l11 47l14 -49l14 -17l13 96l12 -17l11 -51l11 64l18 5l9 -75l18 67l9 -31l14 -30l12 1l15 54l15 8l11 -17l16 25l11 -4l15 -43l13 15l9 -61l18 34l10 39l16 -29l12 26l10 -24l16 19l11 -58l16 57l12 -64l10 45l18 -180l10 205l13 -231l17 199l12 -223l12 -56l16 183l10 -89l15 7l14 83l10 -43l16 171l14 -272l13 -9l8 139l18 -54l9 195l17 -181l10 126l14 -279l17 274l9 -61l14 -94l15 193l9 -155l13 103l16 -87l14 139l10 -215l13 169l14 -193l17 3l12 246l11 -118l14 51l11 -15l13 19l18 57l12 -183l9 -96l17 295l11 -221l12 44l15 3l13 -106l14 267l14 -226l13 123l15 -156l9 134l17 31l12 -213l11 304l17 -155l11 99l13 31l12 -282l11 309l16 -240l11 208l16 -350l14 -88l15 406l12 -425l9 29l16 403l11 -673l16 244l15 336l11 -332l14 404l14 -374l13 191l10 -80l15 141l12 -365l13 377l15 -431l11 411l16 -104l11 170l13 -446l12 404l15 -43l14 -333l12 400l11 45l14 -589l11 664l19 -269l12 68l13 -206l13 325l10 -282l14 291l16 -219l14 332l13 -261l13 218l9 -148l16 109l10 -7l16 109"/>
<path stroke="#333399" d="M255 889l17 -1l11 43l12 -55l14 -1l11 36l18 8l11 11l14 0l10 10l13 31l14 -59l16 38l12 -49l12 63l15 -59l11 64l15 -41l11 17l13 -20l14 -5l12 52l16 -36l14 32l11 -56l14 55l13 -69l13 71l12 -22l11 26l18 -36l13 25l9 -87l16 49l15 -5l10 19l12 8l14 -125l17 130l9 -68l17 70l13 -99l14 -8l12 89l10 -195l12 121l16 -10l12 -145l15 229l12 -170l11 -127l18 234l12 74l10 -155l15 68l15 -163l11 -99l17 285l10 -84l15 153l9 -230l18 70l12 -64l10 207l17 -331l13 310l12 -27l15 35l9 -135l14 78l14 -122l12 -41l12 233l17 -113l11 -36l14 -22l12 83l16 -56l11 -7l13 155l13 -227l12 207l13 -133l17 147l12 -220l11 222l16 -118l12 -135l13 167l12 -88l16 -30l14 173l11 -204l13 -37l12 49l16 -3l11 212l14 -264l11 276l17 -258l9 252l16 -397l13 284l14 -430l13 249l9 250l15 25l15 -529l14 478l13 -279l13 296l14 -246l10 191l12 -492l15 496l11 -509l16 -54l13 577l11 -485l13 310l15 -189l12 94l15 -234l14 331l12 -269l15 485l12 -519l12 -97l14 394l14 -356l12 339l12 -1l17 -170l11 177l12 256l13 -396l11 263l18 -207l12 96l14 260l14 -244l10 272l16 -201l10 209l15 -147"/>
<path stroke="#339999" d="M259 882l10 -13l13 53l14 22l16 -41l8 38l16 -23l11 53l17 -16l8 -28l13 30l17 -85l10 88l14 11l17 -42l14 -17l12 62l14 -60l8 59l14 -84l14 85l11 -38l15 29l13 -19l14 -3l16 -16l13 33l13 14l8 -42l17 0l14 41l11 -90l15 39l13 24l12 -32l12 35l16 -55l10 25l18 -54l10 95l14 -103l9 9l14 -6l13 -117l16 55l15 121l9 -146l14 159l14 -172l15 -209l11 251l12 -18l13 115l17 -182l10 196l13 -157l13 70l17 -60l9 -20l18 139l10 -121l12 154l16 -197l10 200l14 -245l13 93l17 185l13 -137l12 120l12 3l14 -86l15 88l11 -188l10 152l15 -192l14 206l15 -73l12 16l10 -101l13 193l16 -182l11 9l17 118l8 -131l14 134l16 -84l12 119l13 -224l12 185l12 -94l15 10l13 59l17 -115l9 159l16 -155l15 178l8 -227l14 216l16 -289l9 244l14 -409l16 307l11 107l14 -500l12 458l14 -10l15 -314l9 117l16 224l16 -400l11 371l12 -348l15 383l12 -429l16 420l12 -532l11 492l13 -220l14 287l12 -666l12 614l18 -519l10 456l15 -388l10 516l13 -131l17 -292l13 380l13 -203l11 -338l15 449l14 -474l14 612l11 -432l12 286l14 -183l10 252l18 -66l14 37l13 -97l8 216l13 1l18 -210l14 230l8 -208"/>
<path stroke="#00cc44" d="M255 947l12 -18l14 -2l13 -7l17 -42l14 87l12 -33l11 13l16 -26l11 -16l13 -24l15 70l13 -16l11 7l11 22l16 13l16 -73l10 50l11 -49l17 71l13 -81l14 2l8 22l16 0l13 27l15 -24l14 26l12 -42l10 48l16 -46l13 68l12 -12l14 -70l10 74l15 -72l13 41l17 27l12 -110l11 8l12 9l12 64l16 -49l12 70l16 -172l9 166l14 -119l15 -168l13 121l11 17l15 -14l13 38l12 -116l15 219l10 -212l17 30l14 180l12 -250l12 61l17 147l11 -154l12 220l16 -305l11 97l10 199l16 -182l13 145l14 -239l10 70l17 202l11 -66l12 -181l13 254l16 -304l10 297l18 -6l10 -162l16 -24l10 190l12 1l18 -28l11 -92l13 20l14 87l14 -266l13 204l9 -92l18 177l13 -274l9 100l16 34l11 -140l14 102l12 57l13 -125l15 192l12 -148l15 191l10 -292l13 272l16 -161l15 14l14 -128l13 228l12 -158l13 17l11 -319l17 484l8 -287l18 91l12 -376l15 430l8 -75l15 -45l12 213l14 -437l16 488l11 -1l11 -682l15 562l16 -89l13 -353l8 517l18 -567l11 621l16 -365l11 240l11 -448l12 467l15 -458l13 523l15 -443l15 13l12 308l13 -336l9 511l16 -219l12 174l15 -173l12 218l11 -301l18 238l10 -46l14 102l13 -63l14 -46"/>
<path stroke="#0000ff" d="M257 930l15 22l13 -95l8 15l15 59l15 -11l10 25l15 -56l14 73l15 -54l12 22l12 -28l15 66l14 -98l8 85l17 -16l13 18l15 -14l7 -33l19 35l9 18l15 10l15 -44l11 33l16 -67l9 16l12 31l15 22l15 -26l12 24l10 12l14 -93l17 83l15 -86l11 73l11 19l16 -57l13 -57l9 35l14 -100l16 137l10 -139l13 71l14 -1l17 -63l12 79l13 56l10 -229l13 109l15 -183l16 292l10 -145l17 98l13 -72l12 118l14 -206l12 209l15 -237l11 186l10 -59l16 131l10 -288l14 171l16 53l12 -169l16 -12l12 191l11 -173l13 168l15 -2l11 -68l12 41l13 -269l16 17l10 260l16 -49l10 38l17 98l10 -19l14 -119l16 -122l10 156l17 76l13 -275l8 51l14 93l19 47l11 -138l12 209l14 -139l10 156l13 -263l16 276l11 -222l13 221l13 -292l18 77l9 185l17 -256l14 143l10 -146l15 267l13 -477l10 419l17 -405l11 420l12 -223l17 -382l9 21l15 573l12 -199l11 246l17 -380l10 136l18 -200l10 435l12 -72l14 -589l14 270l11 337l18 -442l12 391l9 102l18 -422l10 -182l14 525l15 -291l11 46l12 267l15 -602l14 327l11 245l14 -366l12 266l14 37l13 -236l15 318l13 -162l14 96l14 173l8 -204l18 23l11 177l15 -122l11 62"/>
<path stroke="#333399" d="M256 882l13 13l13 -2l16 51l11 -39l14 56l11 -33l15 17l12 -12l11 -17l18 0l12 -20l10 24l15 -48l16 31l13 45l12 -16l12 42l12 -55l16 -34l12 89l13 -37l10 -19l17 56l14 -74l14 73l10 -57l16 57l9 -25l14 4l15 -2l14 -5l12 -53l13 62l12 -40l11 58l17 -3l15 -117l9 101l14 8l15 -73l12 16l13 -38l13 -122l14 133l13 33l12 -109l16 66l9 -101l13 -71l18 -75l10 290l14 41l12 -204l13 199l13 -181l13 17l15 -92l14 177l14 -83l14 89l12 -169l11 174l14 -111l13 121l14 -272l13 325l13 -26l12 -122l15 144l14 -304l9 204l13 -132l14 -1l13 206l15 42l13 -145l16 108l7 -58l16 63l11 -148l19 156l11 1l14 -261l12 183l10 -142l17 230l11 -193l13 -72l17 -44l13 201l12 -72l11 -71l17 -73l11 64l15 256l13 -182l13 168l11 -211l15 201l14 -215l12 234l13 -33l9 -255l14 237l15 -34l13 58l15 -373l14 347l11 -583l10 369l14 -230l16 -51l15 519l11 -9l13 -478l14 46l14 375l12 -586l14 620l13 -319l13 -202l10 547l14 0l12 -460l17 96l13 -42l13 -118l12 72l12 386l16 -473l12 312l11 -216l14 316l13 -268l14 323l14 -185l10 267l13 -293l14 -22l17 231l10 -11l16 81l11 -95l15 -19"/>
<path stroke="#663399" d="M259 966l8 -87l14 85l15 -93l13 28l12 43l15 9l13 -17l13 -31l11 60l14 -10l14 -59l13 67l15 -44l14 48l12 8l9 -35l17 -32l14 67l14 -71l12 67l11 -24l12 27l14 -51l16 -23l14 72l12 3l14 -41l10 45l14 -37l15 15l11 10l16 -54l12 -26l10 24l14 64l17 -72l10 -61l13 -56l11 175l15 -99l13 95l15 -191l14 87l11 60l14 -169l12 -104l15 274l10 27l16 -329l16 203l10 127l16 1l10 -160l15 -63l12 176l11 -291l17 137l8 211l15 -121l17 110l8 -53l18 -201l12 183l10 -230l16 273l10 -234l18 186l9 -212l13 229l13 -155l13 209l16 -167l10 26l15 131l12 -124l15 102l12 -119l17 119l12 -142l11 -51l16 199l8 -147l16 74l13 0l16 105l13 -131l12 116l9 -253l16 230l12 -17l13 -112l17 130l11 -102l12 136l12 -34l13 -267l14 275l13 -239l13 -79l18 27l11 197l12 13l11 -291l17 281l11 -256l13 -51l13 -244l15 57l10 19l16 115l14 318l13 -176l15 -73l11 -5l13 375l14 -283l9 -392l16 640l12 -239l13 126l13 -124l12 45l18 -55l14 61l10 67l15 -52l14 165l11 -263l15 296l13 -298l10 310l16 -130l14 -346l11 385l14 -291l11 307l17 -257l12 222l11 72l14 -154l16 -43l8 221l17 54l10 -102"/>
<path stroke="#999933" d="M254 903l14 69l14 -113l17 90l9 17l17 -78l7 78l16 -71l16 -1l14 34l8 1l13 -20l13 -45l18 93l11 -45l14 51l12 -9l11 -52l18 60l9 3l12 8l15 -43l12 5l12 31l14 -55l17 -26l10 52l13 -2l16 -12l13 4l14 43l11 -26l12 -40l13 -4l15 26l13 42l12 -5l17 -117l9 33l15 -13l11 63l16 -110l15 54l10 -108l16 94l10 -108l11 50l14 -181l17 183l10 -82l16 177l12 -132l15 106l11 79l14 -38l11 -90l17 -120l13 238l13 -129l10 73l13 -96l13 -111l13 28l16 229l12 -336l13 245l15 -21l12 117l15 -185l11 114l16 -202l12 240l12 -157l10 103l14 27l18 -129l7 199l16 -47l11 -132l14 27l17 -101l12 22l13 182l12 -77l14 39l10 -121l16 113l13 54l16 -187l11 36l13 -101l14 287l12 -326l12 243l15 -148l15 182l8 -284l17 144l13 177l11 -187l16 176l13 -290l12 269l15 -450l11 342l11 -137l18 167l12 -312l12 134l10 -240l13 51l14 375l17 -416l11 -96l14 585l14 -427l14 318l10 -289l13 290l13 -333l17 400l13 -313l13 168l8 -47l19 236l11 -448l11 346l17 78l8 -645l16 611l13 -386l10 256l16 -119l15 -163l12 97l11 -116l17 70l8 446l18 -317l13 314l9 -33l17 -251l11 28l13 54l12 126"/>
<path stroke="#33cccc" d="M256 963l12 -99l14 65l14 -76l13 86l15 -22l10 48l14 -34l16 41l9 -55l17 44l14 -29l10 37l13 -70l11 4l13 44l18 -37l11 35l12 -15l12 -5l19 48l13 -67l8 53l17 -7l14 -25l10 -21l11 -15l17 65l12 -44l10 59l18 -49l10 41l12 -77l17 76l15 -20l13 -10l12 11l9 -39l18 57l11 -93l13 -78l12 137l15 -50l13 -96l12 -32l14 130l11 -76l13 -2l15 2l16 -122l13 190l14 -202l11 192l12 -133l12 221l16 -280l10 136l14 -30l12 136l17 -206l9 139l14 -219l15 305l14 -4l10 -164l16 171l11 -199l16 212l10 -214l14 144l17 -208l8 233l16 -196l14 89l11 -128l16 155l14 24l13 -21l9 -61l12 36l15 57l16 -3l9 -130l14 213l15 -98l10 71l14 31l12 -272l18 221l13 -79l11 -1l12 62l13 9l16 -26l12 -120l14 203l14 -14l14 -255l13 55l11 -120l13 -29l14 338l15 -345l13 1l12 329l11 11l14 -40l13 -54l14 -576l14 660l11 -575l17 576l12 -52l11 -241l14 264l10 -348l17 214l11 -465l16 110l9 -156l14 368l12 166l14 -80l13 -189l12 192l19 -127l7 -184l14 504l13 -465l19 478l9 -258l16 272l13 -382l12 -132l14 434l12 -124l15 11l13 185l13 -242l10 283l17 -307l9 60l14 249l15 -146l15 161"/>
<path stroke="#0000ff" d="M258 968l14 -83l10 57l16 -41l12 65l14 -24l11 -32l11 15l17 34l10 -55l17 -36l9 99l16 -109l10 112l18 -50l13 54l13 -71l8 38l17 8l14 -25l10 -28l12 51l18 -36l9 60l13 3l17 -56l11 -12l14 15l10 8l13 46l13 -67l16 30l12 -59l15 95l12 -40l15 35l11 -73l17 -44l11 -6l13 -1l10 12l15 89l16 -5l13 -135l12 115l16 32l8 -313l17 295l14 -158l13 26l10 122l16 -252l9 258l17 -141l11 160l11 -292l14 -122l16 396l10 -89l18 24l8 -170l14 183l15 -288l13 236l15 -187l9 297l16 -36l10 21l16 -152l13 167l15 -28l14 -163l8 -83l14 247l15 -230l11 90l15 177l14 -176l9 80l16 -70l11 27l15 100l13 -38l16 -232l10 294l13 -203l15 -5l12 31l12 174l18 -11l9 -186l16 206l9 -254l16 18l15 239l12 -208l13 157l11 -168l14 202l16 -137l12 -234l9 -38l17 160l14 198l11 40l15 -470l11 77l17 332l12 -218l14 214l9 -484l17 14l10 467l14 -511l14 335l10 230l13 -44l17 -370l14 364l10 -485l12 133l14 -160l14 464l14 -485l14 150l11 445l15 -571l13 20l14 538l10 -108l13 -31l15 -140l16 174l9 -292l15 275l14 -52l13 133l11 -6l14 -48l15 132l9 -175l15 -26l17 111l13 -98l9 186"/>
<path stroke="#808080" d="M258 943l10 -82l16 73l13 -80l11 117l17 -32l11 -29l13 61l12 -35l14 36l12 -75l14 73l14 -57l10 24l15 2l15 31l11 -66l16 61l12 -45l15 42l9 -21l17 15l8 -2l14 -55l15 73l14 -43l13 4l12 21l15 -39l12 42l12 -23l12 6l13 -23l18 30l13 15l10 -55l13 53l15 -4l13 -142l15 23l12 -35l10 145l17 -133l12 136l12 -173l17 96l9 -123l16 -57l10 10l16 192l13 -164l11 40l14 179l12 -16l12 -151l16 97l11 -198l13 217l16 -135l15 178l12 -210l13 135l10 -253l17 299l13 -153l13 48l14 65l11 -84l15 119l11 -119l11 131l14 -100l13 -199l16 -22l12 255l11 -37l16 -95l11 187l15 -96l10 128l14 -124l17 129l10 -262l15 204l11 -36l12 0l17 -95l15 84l12 -41l12 74l13 36l14 -56l10 -109l14 -14l15 168l9 -174l17 214l13 -142l15 -71l13 11l8 184l14 -419l14 218l14 -150l14 324l11 -277l18 278l11 -290l15 -222l8 93l19 368l12 63l9 -344l14 225l17 16l13 -61l11 104l10 -404l14 299l15 -185l15 344l9 -466l15 -125l16 542l10 -254l13 137l13 -114l12 204l14 -389l17 456l14 -503l8 -103l18 515l9 -346l16 238l9 -248l17 453l11 -164l13 -137l17 81l8 123l16 -54l14 179l12 -71l14 94"/>
<path stroke="#339999" d="M255 882l12 25l15 31l13 -21l15 3l11 34l12 -11l17 0l9 -16l18 -16l13 -16l12 45l15 -36l9 31l12 -28l16 65l12 -37l14 -44l15 13l9 27l15 -25l17 50l7 -2l16 -53l14 69l15 -30l9 -45l13 74l15 -20l16 -4l9 28l13 -94l17 86l10 -72l12 79l17 -46l13 32l9 -101l15 -26l12 109l15 -142l16 122l9 27l14 -185l15 34l14 100l11 -82l12 -115l13 -14l15 62l14 32l11 106l13 14l13 -84l17 -48l10 157l16 -167l9 150l12 -107l17 147l14 -172l10 83l14 -188l12 214l12 -249l14 258l17 38l11 -218l15 172l11 -148l16 133l9 -30l16 -139l14 -58l14 275l11 -231l12 241l17 -226l12 254l11 -162l12 -55l16 -97l12 300l13 -195l12 154l17 -82l8 -125l18 251l14 -227l8 0l13 10l15 159l14 -246l12 295l13 -130l17 120l8 -7l16 25l12 -100l13 -49l12 -276l13 369l15 19l12 -136l16 -60l10 -294l17 303l10 -74l14 -137l15 -73l14 72l13 38l12 289l11 -108l15 -99l11 18l15 222l15 -599l11 160l14 -145l12 285l11 323l13 -286l13 212l18 -324l12 420l14 -20l13 -305l14 153l10 155l15 -184l14 -90l12 -80l16 282l9 35l17 -229l11 -143l14 395l13 -295l10 -26l13 373l15 13l12 -192l17 165l9 -135"/>
<path stroke="#663399" d="M257 874l12 84l14 -86l14 25l15 44l11 6l13 -12l13 15l11 -23l17 33l9 -56l14 67l15 -53l12 4l14 -19l10 69l18 -68l10 69l11 -27l16 -27l11 30l18 -43l10 3l16 65l14 -42l9 36l13 -70l17 77l12 -52l12 23l16 25l8 -24l16 -50l14 40l11 9l15 28l15 -19l13 -116l13 63l13 -111l14 3l9 155l13 -192l17 196l12 -220l14 186l10 -142l12 138l18 -167l10 103l15 -85l12 174l14 -199l12 -26l13 232l15 -36l13 -237l9 -72l18 328l10 -54l13 -100l16 164l11 -226l13 186l15 -248l15 8l10 1l12 236l12 -101l16 37l14 -135l12 154l11 -245l15 47l15 249l14 -124l13 171l14 -252l13 69l9 171l12 -137l16 112l13 -145l14 48l12 35l17 90l11 -31l10 -12l16 -214l15 205l12 -289l9 345l17 -290l11 133l13 79l13 -138l14 5l15 95l10 56l18 -101l8 -222l13 262l17 -225l14 -130l9 442l14 -436l12 413l18 -476l10 464l15 -122l13 76l10 -278l16 -37l13 297l11 -221l13 -267l16 351l14 -347l9 17l18 221l9 -232l15 198l12 16l16 -53l8 212l15 -140l15 162l10 -294l18 298l14 -166l9 87l16 -305l10 436l16 -79l12 163l13 -379l14 367l12 -268l11 307l15 -238l14 166l14 46l10 -200l18 258l13 -56"/>
<path stroke="#336699" d="M258 896l11 52l16 -3l10 -76l12 23l17 -8l10 85l15 -67l14 41l11 -47l15 52l15 -30l12 2l12 -27l15 13l12 40l11 17l13 10l14 -41l11 -28l16 49l14 -56l14 68l11 -55l12 57l15 -51l13 -22l15 79l10 -50l13 52l17 -72l8 71l14 -99l12 62l16 0l15 35l9 -89l17 20l11 44l13 -80l13 29l15 -12l11 60l15 -184l13 111l14 -104l15 153l10 -295l15 246l9 -288l16 324l15 -197l12 214l12 -155l16 115l12 -160l14 143l10 -258l17 160l10 122l13 -101l15 80l10 -138l16 162l12 -109l13 115l13 -171l12 211l16 -80l13 -223l10 238l15 -133l15 182l13 -162l11 123l13 -170l16 169l13 -197l11 227l13 -160l14 152l15 -253l9 269l16 -151l11 146l12 -183l18 -58l12 236l11 -232l15 -71l14 177l13 123l10 -207l14 190l16 -44l12 -174l10 268l17 -3l10 -235l14 221l14 -393l15 294l9 -223l15 87l16 101l13 117l14 -607l12 313l13 277l10 -344l16 124l12 -28l11 263l15 -599l11 593l13 -293l16 -159l14 364l14 -410l9 203l14 62l16 235l11 -666l15 583l10 -403l15 205l11 177l17 -260l12 -152l15 493l11 -616l12 276l17 55l11 275l15 22l13 -455l14 449l12 -172l10 70l12 152l18 -8l9 -82l14 -69l14 177l16 -106"/>
<path stroke="#336699" d="M254 935l14 -9l13 -99l14 140l14 -40l12 21l16 -15l10 23l15 -43l15 17l12 14l13 17l14 -114l10 124l17 -77l11 71l13 9l14 -16l10 -56l14 51l13 -48l13 14l18 51l12 -57l13 30l10 -57l16 76l14 -62l9 47l13 0l14 -13l12 -35l17 51l13 -45l13 69l9 -41l15 -33l15 -35l14 60l12 -56l10 70l15 -147l16 147l11 -107l15 107l12 -64l13 -154l10 103l14 -60l13 104l18 -175l11 229l15 -179l9 203l15 -236l16 233l8 -385l15 385l12 8l17 -153l12 -92l14 102l13 84l14 -182l13 -134l14 317l7 -12l16 -157l12 226l15 -144l13 -63l15 124l10 -278l12 323l16 -174l14 203l9 -249l16 33l12 211l16 14l11 -19l15 -78l12 -22l15 111l13 -122l14 101l12 -29l12 -62l14 99l9 -341l15 347l17 -6l11 -148l11 -138l13 21l17 212l13 -131l11 199l17 -282l10 245l12 -383l16 394l10 -476l16 403l11 -330l12 65l18 155l8 -494l17 155l12 503l14 -109l13 100l13 -273l14 272l11 -454l16 215l10 -397l15 3l10 625l18 -24l11 -226l12 -295l12 378l13 128l17 -368l11 343l15 -309l11 253l16 -168l12 180l13 -193l13 156l14 -201l12 356l14 -376l15 189l7 -223l18 223l12 116l14 -40l14 109l10 -116l15 91l13 32l10 -172"/>
<path stroke="#996666" d="M257 889l13 79l11 -86l13 80l15 -90l11 90l15 -69l15 5l14 23l12 47l12 -95l10 64l19 -78l11 90l10 -51l13 18l16 58l11 -72l13 71l13 -32l18 2l11 -15l12 34l17 -41l12 51l9 -30l14 -19l14 53l12 -38l18 9l10 -27l14 32l13 -45l14 39l10 -8l17 -16l13 -38l12 83l12 -104l15 -13l10 100l13 -83l16 87l12 -233l15 163l15 -23l11 -113l13 183l13 -251l11 72l12 171l16 -341l11 295l14 16l14 -173l12 164l13 33l14 -3l14 -96l13 -13l11 92l13 -271l16 315l13 -40l14 -68l9 -223l17 312l13 16l12 -294l16 83l13 -62l10 138l12 101l18 -220l8 145l18 38l11 -43l14 -89l14 146l11 -136l11 -24l17 222l12 -219l13 220l12 -209l17 150l9 -131l17 -33l13 218l13 -23l13 -50l13 -22l10 -222l17 195l14 0l9 87l13 -122l14 62l17 -251l9 319l17 -164l11 70l11 -345l14 95l12 270l17 -119l12 -230l14 364l12 -261l12 307l14 -599l12 544l14 -478l11 526l15 -497l11 394l17 -534l12 556l11 -124l16 -51l15 -313l9 550l17 -236l11 60l14 -169l13 130l10 -335l13 320l18 -106l11 196l13 -133l13 137l13 -125l15 -58l10 329l14 -378l16 407l10 -200l11 118l16 -171l15 266l13 -174l11 132l14 -15l14 -11"/>
<path stroke="#996633" d="M255 871l17 66l13 -111l13 141l12 -104l9 83l13 18l14 -49l18 43l13 -57l10 68l16 -61l8 -27l17 81l15 -3l13 -12l8 23l18 -34l10 -14l11 32l17 -10l16 24l9 -63l15 48l11 20l15 -51l14 51l11 -56l15 57l13 -56l14 37l14 -50l11 41l12 -47l13 57l14 -25l14 -36l12 57l13 -43l14 -111l11 -9l15 108l12 -78l15 68l15 -190l9 55l13 157l16 -230l9 13l15 97l17 -117l10 29l15 241l12 4l11 -105l16 -185l15 101l12 159l15 -165l10 96l15 -161l10 230l14 -327l14 258l11 18l14 -244l12 332l15 -117l14 -2l15 79l8 -134l14 94l15 -98l11 160l16 -263l14 230l13 -70l10 114l17 -121l12 112l15 -208l12 -31l12 169l12 -103l14 126l13 -48l12 -85l16 115l12 -52l14 72l13 -133l15 143l13 -139l13 157l14 -276l11 183l13 -109l10 188l15 -24l15 -245l11 -82l14 373l14 -231l13 207l15 -210l11 141l15 -437l11 463l15 -383l11 402l13 -264l14 295l11 -484l13 468l16 -521l11 45l18 400l10 -635l11 335l16 -156l15 540l12 -373l14 358l10 -309l14 240l11 -447l16 519l13 1l15 -375l10 -116l12 490l13 -266l16 256l15 -224l14 202l8 -458l18 524l12 -221l11 200l16 29l10 -232l12 228l14 -247l17 84l9 99"/>
<path stroke="#3399cc" d="M256 957l11 -31l19 -14l11 -56l10 111l14 -81l16 79l10 -50l15 46l16 -73l11 -25l10 99l15 -62l15 16l9 25l14 1l17 22l12 -56l12 5l12 50l15 -69l15 56l11 -28l16 28l10 -19l14 -13l11 0l17 4l14 39l10 -23l13 23l14 -18l14 -62l10 91l14 -48l16 18l13 -12l9 -94l13 -14l16 126l11 -8l15 -145l13 20l13 18l11 53l17 47l9 -167l17 -120l13 229l11 -244l13 276l15 -273l14 118l11 35l12 159l17 -240l9 222l16 -148l12 -90l15 254l10 -247l16 224l16 -120l9 105l12 30l18 -322l13 261l12 -135l11 126l11 -70l17 -26l14 12l10 -126l16 65l13 219l13 -183l11 181l16 -219l10 188l15 -64l12 87l16 -173l11 123l10 -216l19 208l12 -32l14 109l13 -256l11 206l15 -8l9 -90l16 -117l11 168l16 -129l13 156l13 -166l12 189l14 35l12 -15l15 -340l14 166l10 -219l13 387l16 -235l12 -85l13 -29l15 110l9 -282l15 241l16 163l13 -187l11 197l12 6l15 68l12 -219l14 -3l11 -471l12 576l16 -587l12 708l16 -369l10 141l16 -17l9 74l13 -37l15 86l12 -277l17 332l12 75l15 -485l12 428l13 -167l15 -259l13 468l13 -229l9 150l13 -120l16 248l12 -213l16 220l11 -316l10 324l13 -284l13 284l13 -215"/>
<path stroke="#999933" d="M257 927l12 -22l12 45l15 -122l10 97l18 3l13 37l11 -32l13 36l14 -62l12 36l14 -42l11 61l14 -79l12 26l15 58l11 -32l17 39l14 -80l12 68l14 -47l10 -3l13 35l15 -24l14 38l11 -34l15 14l15 -10l11 24l13 -28l12 41l12 -90l14 96l13 -54l13 37l13 13l18 -54l11 -4l13 -43l13 64l16 -133l12 146l9 -67l17 -51l11 64l13 -135l15 -161l13 113l10 79l13 134l15 -276l14 36l15 231l10 -63l14 -45l12 118l17 -190l13 90l8 18l17 91l12 -129l12 -94l15 61l12 -94l15 -58l11 251l16 -49l13 -32l13 -119l10 22l15 200l12 -224l16 211l9 -168l16 234l12 -134l16 93l10 -221l13 270l14 -202l16 51l8 -167l14 242l17 -139l9 209l15 -177l11 108l18 -67l9 -114l15 221l15 -320l14 313l8 -286l17 210l12 106l13 -228l14 196l15 -79l11 50l13 -165l15 182l9 -275l17 -105l11 253l11 -81l16 -260l10 231l14 93l15 -309l14 -163l11 610l15 -367l12 312l16 -249l9 62l15 -361l12 223l15 354l14 -438l13 311l13 -23l11 -80l13 -393l13 265l16 297l13 62l11 -483l14 345l11 -200l14 0l17 301l8 -461l16 12l13 524l15 -470l11 332l13 -231l11 392l19 -173l10 -51l15 135l11 -130l13 -28l12 224l17 -207"/>
<path stroke="#000080" d="M257 971l14 -111l11 62l13 -6l11 -16l18 62l12 10l13 -68l10 13l18 44l8 -81l16 26l16 24l12 -45l10 71l13 8l14 -44l12 34l13 -62l16 54l15 -44l9 53l13 -7l12 -3l14 -38l14 66l15 -59l14 53l15 -54l13 62l13 -82l13 59l8 -74l13 11l17 40l11 0l14 35l13 -72l16 31l14 -65l10 93l10 -130l15 54l17 -119l9 114l16 12l11 -218l15 155l14 35l14 -114l10 164l12 -102l14 57l14 -123l14 -38l15 -95l9 223l12 -6l17 76l13 -131l10 179l16 -325l10 187l15 135l13 -322l12 226l17 -42l13 109l9 -99l17 113l10 -146l14 -96l16 133l14 -211l11 313l10 -197l13 227l16 -92l11 -100l16 178l11 -192l15 -93l15 255l11 38l11 -165l17 1l13 118l11 -225l11 181l19 -165l12 133l14 -134l11 226l14 -242l13 167l12 -111l15 179l11 -119l12 -78l17 205l10 -272l11 284l14 -266l17 -114l9 62l13 306l17 -552l10 -95l14 620l15 -498l15 495l11 -450l11 374l17 -251l10 236l17 -371l13 421l11 -626l10 290l15 -75l14 283l13 -290l11 419l14 -479l12 546l17 -381l10 236l15 -500l12 502l14 18l14 -402l13 513l16 -178l12 101l14 58l12 -245l12 244l16 60l10 -167l13 155l15 -178l14 87l9 -25l18 -14l9 100"/>
<path stroke="#336699" d="M257 963l13 -36l13 38l13 -94l10 29l17 44l15 -50l10 17l12 42l13 -27l16 39l15 -57l8 -17l14 35l16 48l11 -35l17 33l7 -75l16 26l11 -35l16 86l15 -42l10 41l17 -48l13 -6l11 49l11 -55l16 31l11 9l15 -33l14 27l9 -22l14 20l14 -6l14 22l13 -33l13 2l12 32l16 -75l10 13l15 7l14 -96l14 136l10 -128l16 71l11 -161l13 212l17 -218l12 -132l12 196l13 -61l12 93l15 93l11 -152l16 0l13 10l14 -65l11 179l15 -173l13 193l14 -229l9 242l12 -29l18 -75l9 -48l18 -16l12 191l10 -141l16 92l11 -238l13 254l15 -109l15 104l11 -205l13 140l10 14l17 -132l15 211l13 -143l11 27l12 24l16 54l14 -206l9 25l17 156l9 -61l16 -44l14 69l8 -98l18 -125l13 204l9 -42l14 -92l16 173l13 -85l11 54l16 -23l9 146l15 -255l11 108l19 -123l9 115l15 -256l11 -74l17 452l13 -441l11 17l12 377l15 -613l10 522l18 -10l13 -51l13 -321l12 363l12 -199l14 -103l11 -203l18 124l8 486l17 -339l14 164l11 -369l13 570l10 -586l13 610l16 -106l14 -180l10 180l14 -246l13 -322l15 635l12 -240l13 254l16 -426l14 49l8 -95l15 466l15 21l13 -155l14 -129l11 257l13 -184l12 10l16 258l14 -225"/>
<path stroke="#999933" d="M253 907l15 33l16 12l13 -85l9 61l13 20l16 9l16 -55l11 51l12 -56l11 73l17 -10l12 -103l15 113l10 -16l13 -46l15 45l12 -60l16 80l12 -43l12 12l15 -5l11 31l15 -26l14 32l12 -85l10 80l17 -35l11 29l13 -6l14 -51l16 51l8 -90l17 107l11 -43l16 -14l13 56l9 -47l18 -75l13 97l12 -65l11 50l11 -62l17 -141l12 123l12 40l16 -200l11 113l11 117l18 -233l12 221l12 -233l12 119l18 70l12 -175l9 252l19 -380l8 291l14 -91l14 134l13 -48l13 -97l12 127l17 -235l13 123l13 20l8 -96l15 207l17 -196l12 137l15 -108l8 128l15 62l16 -200l12 112l14 -147l11 154l11 107l12 -148l18 124l14 -111l8 66l13 -107l17 6l14 0l13 33l10 107l15 -166l13 194l13 -335l13 323l15 -313l10 307l17 -224l11 143l11 -143l15 -1l12 192l17 -259l11 296l13 -47l13 -270l13 299l11 -459l17 432l12 -464l13 465l16 -382l13 -248l11 401l11 -297l14 393l11 -203l19 -23l11 264l14 -319l11 382l16 -458l10 -82l11 482l14 -92l18 -345l13 282l13 -216l14 335l12 -298l10 120l14 -120l15 300l12 -108l11 -236l13 449l15 -396l14 7l14 -39l11 380l15 -78l10 137l15 -131l11 136l16 -256l10 118l16 -64l12 206l17 -187"/>
<path stroke="#663399" d="M256 879l15 66l9 -39l14 -12l17 71l11 -77l11 65l13 -57l14 75l15 -55l13 -17l15 48l14 -94l10 116l13 -63l12 60l13 -64l14 72l16 -1l10 -69l17 70l9 -29l14 6l14 -17l13 -41l12 72l17 -24l9 28l13 -30l17 13l14 -44l10 35l13 20l15 -56l13 66l10 -56l14 -25l16 64l10 -127l16 119l13 -157l15 138l9 -173l17 126l9 -81l15 -22l15 159l12 -256l14 138l9 -101l17 21l12 70l11 109l17 -128l14 154l14 -230l10 -35l11 188l13 -59l18 43l9 96l13 -91l15 77l15 4l13 -269l12 223l11 -228l14 260l16 -189l8 -122l14 334l16 -209l15 147l12 -117l10 169l18 -57l7 -90l18 138l12 -103l15 115l13 -166l11 150l10 -229l19 223l12 -84l9 58l17 -203l10 191l15 -149l13 167l13 -323l12 309l12 -178l14 -9l15 240l12 -236l16 -62l10 244l13 54l17 -281l10 114l11 145l17 -181l15 -143l9 -155l16 389l14 30l10 -583l12 294l13 273l13 -264l18 131l11 -386l10 19l17 505l15 -432l11 283l16 -189l8 -335l14 462l15 273l10 -101l17 -538l11 512l12 -61l16 -284l13 435l15 -154l12 -372l10 331l13 -443l17 429l10 125l17 -343l12 83l9 -54l18 442l14 -153l8 154l18 -262l12 -39l13 275l14 -163l9 166l16 -119"/>
<path stroke="#33cccc" d="M258 964l11 -57l12 16l16 -79l10 100l14 -7l12 12l13 -38l15 61l14 -78l11 77l17 -69l13 -55l9 100l15 -13l16 16l13 -46l9 69l18 -27l12 -45l11 58l12 -42l13 28l15 -3l15 9l12 -13l15 -24l10 62l13 -35l13 34l12 -21l18 10l9 -75l16 79l12 -28l16 3l10 -34l12 24l13 -95l14 -20l15 93l13 -36l14 -146l14 146l10 -86l15 15l10 130l15 -125l12 56l13 -299l13 360l15 -298l12 171l14 119l15 -127l10 97l12 -144l13 182l16 -230l15 255l14 -139l12 -186l14 155l8 22l17 -8l13 86l15 -222l13 122l8 53l16 -167l13 215l16 29l8 -174l16 168l12 -244l17 289l11 -33l14 -127l10 4l14 49l11 39l17 -223l13 75l12 168l12 -125l16 75l14 -176l14 233l10 -131l10 78l14 -252l16 54l12 -33l13 235l15 -197l12 23l16 214l11 42l13 -280l12 200l14 -253l16 318l13 -424l9 375l18 -353l9 -27l16 409l9 -374l17 -5l14 360l8 -523l15 541l14 -316l14 139l11 -362l13 -31l17 467l8 -510l15 -44l14 612l11 -358l18 94l12 -186l13 472l11 -515l15 501l12 -499l12 513l15 -240l10 -186l14 365l15 -355l13 255l11 -331l15 166l12 324l15 42l15 -226l13 214l13 -218l9 -8l19 166l9 90l15 -134l11 135"/>
<path stroke="#333399" d="M255 928l15 17l14 -50l15 59l11 -60l10 42l13 -20l18 53l12 1l10 -2l13 -73l14 8l14 58l12 4l17 -39l13 29l12 -6l14 -50l14 63l12 -46l13 52l10 -42l14 43l12 -31l18 33l8 2l17 -74l10 4l16 74l14 -69l10 30l12 36l14 -79l13 77l13 -42l17 -18l11 61l16 -65l8 7l18 -112l9 98l18 -74l12 -90l14 -2l11 -25l15 81l10 135l11 6l19 -281l12 225l11 45l14 8l13 10l11 -111l14 -131l12 136l14 -65l15 139l14 -242l15 283l9 -173l17 124l10 -150l12 182l14 -203l12 164l17 -249l10 257l13 -212l14 216l17 -130l10 150l16 -179l9 32l12 148l19 -26l11 -21l9 -172l15 247l13 -204l16 161l13 -170l11 140l14 -122l14 36l13 -15l10 170l17 -210l12 21l13 69l15 -178l10 104l14 -85l14 -69l15 67l12 8l13 241l10 -248l14 249l12 -290l15 217l16 -138l13 -278l14 367l11 -366l11 60l17 377l9 -325l16 279l11 -416l17 139l11 99l12 135l15 -188l14 257l11 -341l15 243l14 -11l11 -397l15 496l10 -225l14 -237l16 499l10 -250l17 -301l11 222l12 346l13 -226l11 -275l13 203l17 141l14 -380l14 400l10 -365l14 514l12 -430l15 433l15 -323l13 328l9 -264l17 118l8 183l14 -236l15 228l15 -32"/>
<path stroke="#cc6633" d="M258 971l14 -89l10 -26l15 88l14 -83l12 42l13 67l12 -43l12 0l17 45l12 -104l13 82l10 -57l18 58l8 -33l18 34l13 -24l14 13l13 33l11 -6l14 6l14 -43l9 23l18 10l11 -56l11 66l13 -70l12 62l18 -55l9 64l18 -37l13 24l12 -27l9 19l15 -34l14 28l11 -25l17 -21l12 -129l10 45l18 -10l13 88l10 -152l14 138l16 -125l8 24l18 133l10 -48l11 18l16 -267l16 19l9 8l16 148l11 112l11 -66l18 56l9 -187l17 213l12 -48l15 -50l13 -71l14 -91l13 142l10 -95l12 186l14 -208l17 248l10 -91l16 21l12 -111l15 196l9 -191l12 -13l13 201l16 -37l12 -83l14 113l13 -238l12 169l15 33l12 -172l11 169l17 24l12 -283l13 311l14 -124l15 -3l10 -173l13 240l11 -184l17 104l10 -85l14 204l14 -262l13 176l16 -108l13 96l10 -119l14 207l11 -130l18 29l11 -86l15 148l10 -360l13 393l14 -351l17 201l10 -237l11 -161l18 162l14 275l8 -315l12 358l13 -254l16 50l14 238l13 -496l11 507l12 -277l16 -198l11 413l18 -90l11 -107l15 119l14 -149l9 170l15 -276l15 290l9 -521l18 546l10 -549l13 314l16 340l9 -516l17 349l13 -181l13 340l13 -218l12 180l14 -128l10 -127l15 295l14 -73l12 118l14 -96"/>
<path stroke="#333399" d="M256 926l11 37l18 -113l13 68l13 41l10 -47l12 -4l17 33l9 -19l17 43l14 -67l8 13l13 18l14 -41l16 67l14 0l9 -43l14 48l17 -36l14 23l8 12l15 5l14 -19l13 -16l14 41l14 -39l13 27l13 -57l13 70l14 -61l10 18l17 24l13 3l10 -20l15 24l14 -66l9 68l14 -112l14 -29l16 73l13 36l12 -51l10 -105l15 70l11 93l16 -128l12 -57l16 163l13 -36l12 -279l13 93l15 112l10 17l12 15l12 10l17 -27l11 -152l18 251l13 -170l7 203l16 -268l14 235l12 -52l17 -219l8 -71l13 324l13 -88l18 140l12 -260l12 231l10 -218l16 138l13 -121l13 172l11 -209l16 161l15 -35l9 -30l14 -5l13 154l12 -79l17 -101l13 157l12 -138l10 121l18 -69l10 -41l16 55l13 -91l12 -128l12 68l17 238l13 -220l8 -140l16 341l11 -263l15 219l16 -17l8 -254l15 345l13 -7l12 -293l17 -87l14 249l10 -142l14 63l12 151l11 -509l15 425l17 -158l11 252l13 -418l13 373l14 -471l13 289l14 38l13 -83l11 221l17 -636l9 665l15 -423l12 405l14 60l16 -228l7 -254l14 468l15 -541l13 200l13 58l13 165l11 -234l19 204l13 -117l9 212l14 -142l11 30l15 176l16 -240l10 -19l14 51l12 -37l14 46l13 145l14 -16l11 125"/>
<path stroke="#336699" d="M259 937l12 -62l14 28l11 34l13 -13l11 10l14 37l14 -57l12 58l15 -69l14 24l15 -6l9 -22l16 -5l13 10l10 58l17 -27l8 34l19 -26l13 -39l13 61l8 -65l15 43l14 22l13 -42l14 37l11 -22l18 23l7 15l15 -32l13 8l13 -62l14 57l15 -31l13 49l11 -56l15 63l13 -123l15 49l13 -46l12 76l12 28l16 -223l12 84l11 122l12 -179l13 146l13 -249l14 -48l16 262l11 -200l13 -86l15 270l12 -97l15 -83l10 151l13 -271l16 237l10 100l13 -107l13 157l16 -40l15 -229l10 141l12 107l12 -300l14 326l13 -202l17 -110l10 270l16 -116l11 160l16 -342l9 306l14 -266l16 205l12 -179l15 247l9 -19l13 -120l13 -21l17 184l14 -195l12 -93l15 232l10 -151l17 137l9 -133l16 181l9 -295l17 228l13 -111l12 76l12 -252l15 366l12 -120l12 128l14 -281l14 -14l11 -45l17 290l9 -152l17 147l11 -452l16 337l14 -308l12 443l11 -55l12 -228l12 217l16 -475l13 296l14 -41l14 282l12 -608l11 395l15 -132l13 107l12 -42l17 103l11 -274l11 445l16 -279l11 -304l15 523l9 -199l15 44l12 -29l18 101l10 -477l12 597l13 -132l15 107l16 -458l9 344l18 -164l10 100l14 266l13 -350l15 341l10 -137l17 74l13 71l13 2l13 -122"/>
<path stroke="#3399cc" d="M256 889l12 -18l16 92l11 -132l11 128l14 -53l16 60l10 0l15 -63l13 61l15 -63l15 59l10 -79l16 91l11 -45l11 -3l15 50l13 -38l13 -12l16 20l11 -43l14 24l10 46l13 -50l13 44l14 -40l14 35l14 -34l13 45l14 -52l11 13l13 21l13 -43l17 37l8 -54l16 48l16 18l12 -126l13 97l13 27l14 -103l12 36l10 -82l14 -35l15 173l13 -148l14 145l14 -175l10 -179l12 197l17 -204l12 279l14 -110l13 105l15 -86l11 153l13 -354l15 370l9 -204l17 205l14 -147l13 25l10 -27l16 17l10 99l13 -233l14 155l13 -52l13 105l11 -23l16 -182l13 217l11 -180l16 199l13 11l14 -180l15 25l11 -38l13 221l14 -121l14 -142l8 80l18 -87l10 128l12 141l16 -140l10 114l17 -77l10 -116l17 -34l13 235l9 -154l13 -39l13 57l19 -134l10 -22l15 171l14 -31l11 155l12 -153l13 125l14 -160l13 -133l14 68l14 169l14 -232l11 -72l14 27l12 164l16 -75l8 147l13 -290l15 190l12 -376l14 499l12 -521l15 305l13 -435l16 178l12 -40l15 265l9 296l16 -225l10 -269l14 519l17 -85l11 -281l12 -29l13 273l14 -358l16 406l13 -362l11 250l16 -369l12 145l12 312l10 -137l14 260l16 -90l11 -220l11 77l16 249l15 -278l12 254l12 -163"/>
<path stroke="#339999" d="M257 960l14 -58l11 21l13 -17l11 -41l16 39l11 39l15 -52l14 72l14 -68l13 73l12 -103l13 105l14 -8l12 -57l12 67l15 -59l16 37l9 -60l14 71l15 -68l9 34l16 26l14 19l13 -36l14 6l10 -24l16 58l9 -32l13 -31l19 28l12 -12l12 -61l13 89l13 -22l16 21l9 -54l13 65l12 -69l19 65l8 -133l14 21l15 82l14 -6l10 -204l13 212l14 -346l15 64l14 165l9 -194l16 221l15 -249l11 292l12 -127l14 116l15 -190l9 230l14 -136l17 109l12 -207l14 89l14 -84l10 145l13 -178l16 273l12 -355l9 307l14 -71l13 127l16 -339l13 317l15 -152l12 87l15 -131l13 206l12 -86l15 -140l7 216l19 -133l13 128l13 -108l11 70l13 -161l15 226l9 -75l15 -16l12 -3l14 -79l11 180l18 -132l14 80l10 -205l14 179l10 -62l14 -13l16 83l11 -81l13 17l12 -31l15 137l12 -339l14 327l17 -16l13 -374l13 309l13 -271l12 230l12 -151l13 109l16 -299l13 364l11 -415l15 518l8 -135l19 -189l13 304l12 -442l11 193l11 185l18 -240l14 -124l12 345l11 -174l13 22l15 212l14 46l12 -510l10 451l13 -404l18 412l11 -285l14 249l13 -133l13 -271l12 494l12 -419l17 266l9 -172l16 222l10 93l13 -267l16 8l14 229l11 -103l14 43"/>
<path stroke="#999933" d="M255 899l16 66l12 -128l14 54l14 78l9 1l13 -30l17 32l11 -73l12 71l16 -23l11 -72l14 64l15 -20l11 41l13 -27l15 26l9 -52l14 65l13 -73l17 28l10 45l15 -6l11 4l14 -69l12 73l18 -89l10 12l17 39l9 36l12 -58l15 37l16 -22l8 24l17 5l13 -29l14 -17l10 -9l15 51l12 -65l12 10l16 -101l15 129l12 -177l10 194l14 -213l15 145l10 67l13 -173l15 140l15 -145l13 44l12 54l14 48l13 -169l13 177l15 -152l14 50l8 -62l13 42l14 144l12 -231l18 230l12 -173l15 70l10 19l14 31l11 -93l14 -151l15 234l13 -153l13 208l11 -254l12 247l17 19l12 -126l11 123l16 -123l9 120l19 -127l13 136l13 -305l11 272l16 -284l13 203l9 36l16 -34l12 -122l11 13l17 -12l9 198l13 -254l14 -29l13 288l13 -176l15 -22l16 192l12 28l10 -288l15 256l10 -340l16 77l12 97l13 -114l18 16l8 209l16 -424l13 410l13 -594l10 559l17 -117l13 -35l12 -175l15 415l14 -619l11 556l11 43l14 -463l15 317l14 -212l14 336l8 -192l13 6l14 -227l15 472l12 -384l17 343l13 24l12 -618l10 313l14 303l15 -76l13 -86l14 -363l13 116l15 405l11 -293l14 318l14 -283l9 234l14 -204l16 93l11 150l11 -51l15 13"/>
<path stroke="#669966" d="M258 937l13 -51l13 64l10 14l13 -75l18 72l12 8l11 -77l15 54l10 -48l14 -19l13 -2l14 -29l15 46l13 67l13 2l11 -3l16 -57l13 70l9 -2l13 -74l14 50l18 -51l8 77l16 -58l11 -3l14 56l16 -33l9 16l14 -54l16 5l10 0l13 -20l16 19l10 55l14 -1l13 1l16 -95l9 97l15 -170l14 154l12 -22l14 -186l16 45l9 -60l14 195l15 -209l9 142l15 -174l12 -137l13 369l18 -250l12 202l11 -53l16 127l12 -130l10 90l19 -250l9 72l15 107l11 67l17 -260l9 54l17 254l8 -230l19 82l8 -111l18 215l10 -234l14 244l12 -170l14 -57l14 204l15 -173l10 -9l16 114l10 137l16 -33l13 -38l11 79l14 -36l13 15l15 -216l12 226l12 -71l15 -174l11 207l15 -268l12 258l16 -233l12 63l11 17l12 117l12 -79l19 87l12 -203l9 175l13 -188l17 172l11 -195l14 -77l13 -5l12 319l13 -471l14 125l16 397l10 -181l16 -346l11 206l15 304l13 -356l14 260l13 -309l14 266l9 -321l16 367l11 -570l13 479l13 -309l15 430l13 -291l15 225l11 -351l12 397l13 -421l15 505l12 -276l12 -267l16 42l9 490l17 -418l9 -173l15 334l13 13l14 253l15 -33l14 -140l11 117l15 -214l12 305l14 3l13 5l11 -229l12 40l13 183"/>
<path stroke="#8000ff" d="M254 949l13 -64l17 -58l9 127l18 -68l13 81l9 -37l18 -35l9 43l17 -22l13 35l12 -22l12 16l11 -87l17 113l14 -47l12 -11l11 0l13 60l17 -36l9 -6l13 -25l16 66l13 -44l12 42l16 -69l12 72l15 -55l10 12l11 34l13 -69l17 33l9 -20l17 9l14 13l9 41l18 -70l13 62l13 -6l11 -21l14 -105l14 44l11 -107l11 15l14 153l16 -141l9 25l14 -68l13 172l13 -278l15 127l13 -182l14 114l14 45l11 161l15 -254l11 -32l15 12l14 101l9 147l19 -117l10 161l11 -321l13 178l14 41l14 -34l16 78l9 -92l13 -71l14 82l14 62l13 39l12 -119l14 159l16 11l12 -246l11 228l12 -170l19 178l11 -73l11 49l16 -103l12 57l13 -215l13 296l14 -131l12 -50l16 79l9 89l15 -332l13 73l15 254l11 -285l12 196l12 -163l14 244l18 -307l13 277l12 -267l14 232l13 44l12 -180l11 -226l12 258l14 -188l15 -63l15 -62l13 -207l9 634l18 -375l8 245l15 -102l13 -171l16 342l10 -57l14 -239l16 -275l14 663l10 -28l14 -663l14 605l10 73l13 -373l14 56l14 125l12 12l12 167l16 -575l15 592l9 -315l18 300l13 -346l8 386l15 -480l13 463l17 -441l7 369l15 -79l13 -81l13 230l16 38l14 -6l12 -58l15 -53l7 50"/>
<path stroke="#33cccc" d="M257 937l14 15l9 -49l13 17l18 -8l13 26l14 24l13 2l9 -52l13 44l17 -92l9 75l14 -66l17 91l12 -45l11 36l14 -15l16 14l9 -63l14 76l11 -27l16 35l12 -62l14 51l13 -69l11 74l13 -78l14 74l13 -37l15 31l14 -33l15 -21l10 54l12 -15l15 -50l14 55l11 -34l12 52l14 -10l13 -127l13 127l16 -122l10 95l13 -79l19 -98l9 31l15 53l14 -98l12 200l14 -407l10 358l16 -65l14 -48l9 159l13 -237l17 202l11 -111l12 88l17 -21l9 60l15 -152l14 -150l15 -20l11 65l16 273l11 -217l14 165l14 -50l8 107l18 -331l9 340l16 -275l13 29l15 87l8 -99l15 58l12 4l17 184l10 -84l15 3l14 46l12 -111l13 60l12 75l15 -85l15 105l9 -251l18 241l12 -104l12 23l14 -4l11 -11l14 -47l11 146l17 -195l14 30l12 -51l9 192l18 -323l9 31l14 288l16 -325l14 118l8 117l18 -294l10 175l14 138l16 -429l10 270l14 -357l13 465l10 -404l14 385l18 -133l8 233l17 -85l9 -442l13 485l19 25l11 -507l12 348l16 103l12 -297l11 230l17 -335l10 130l13 226l14 -329l14 466l13 -260l15 54l13 -188l9 418l15 -427l12 287l16 -141l9 178l16 -208l15 314l9 -185l14 167l12 -114l13 166l16 -180l13 142"/>
<path stroke="#00cc44" d="M257 874l13 94l12 -14l16 -80l11 64l13 -46l15 52l14 -37l11 46l12 -12l13 20l13 -49l13 -44l14 -11l13 95l16 -16l12 32l13 -74l15 74l12 -45l12 46l12 -59l13 54l17 -26l9 29l16 -66l10 61l18 -39l8 45l13 -49l15 27l15 18l11 -62l15 44l15 -21l9 49l12 -80l18 65l10 -35l14 -64l16 101l11 -106l10 24l17 -140l11 10l13 176l15 -333l13 104l13 242l14 -208l10 31l17 140l13 -177l13 225l9 -140l13 -200l15 230l15 -192l9 254l14 21l17 -198l11 217l13 -127l12 -40l15 155l15 -231l10 210l14 -152l15 187l14 -86l9 -215l17 269l10 23l17 -337l11 346l15 -100l12 -62l14 169l14 -172l13 91l10 -69l14 79l14 -76l12 11l12 97l16 -192l12 197l11 -129l17 140l12 3l15 -160l9 143l13 -162l17 183l11 -227l12 -89l13 267l15 -57l13 38l13 -101l11 117l14 -288l16 165l13 24l15 -146l7 138l15 -133l12 -230l14 -113l13 488l18 -160l7 108l15 106l12 23l15 -379l13 415l13 -491l16 -56l13 -26l8 171l17 342l13 -411l10 314l14 43l14 -250l16 -148l13 520l11 -470l12 356l14 39l14 -377l15 450l10 -248l13 159l18 -410l9 403l15 -90l14 -107l13 252l14 -253l9 320l14 -71l14 -18l13 22l12 -69"/>
<path stroke="#0000ff" d="M258 935l14 -74l10 -15l11 29l16 57l16 -37l8 14l14 32l14 14l15 -13l13 -46l14 44l9 -6l13 -66l13 75l19 -34l9 46l17 -29l13 -29l9 51l17 -25l12 -5l10 45l13 -44l12 23l15 22l17 -76l14 28l10 44l13 -49l13 44l16 -18l9 22l16 14l15 -30l8 29l16 -54l13 18l13 -54l12 27l12 -84l17 122l12 -210l13 22l13 143l11 -117l15 97l15 57l13 -227l11 -100l11 265l13 -77l17 10l12 -101l13 204l12 30l15 -69l16 -290l8 94l14 264l16 -266l11 20l11 221l17 -217l11 22l14 205l15 -253l12 223l12 31l15 -138l14 115l14 -14l13 -315l11 199l14 -71l13 68l14 162l12 -109l10 14l13 37l16 -20l13 85l12 -233l13 -59l14 119l15 75l11 -62l14 -48l12 160l11 -207l14 243l13 -225l15 212l15 -239l13 189l14 -249l13 122l12 203l14 -268l9 -64l18 314l13 -235l11 131l11 -196l14 -178l17 324l12 -217l15 249l11 -522l15 378l11 -367l11 254l18 328l12 -136l11 -91l14 -132l11 -327l15 501l11 -392l12 508l18 -509l13 584l11 -191l13 -90l17 111l13 -135l9 -250l14 340l11 -61l13 291l16 -606l13 437l11 159l18 -480l10 228l12 276l16 -424l12 235l13 105l12 -202l16 -57l11 302l14 -47l15 79l12 -171"/>
<path stroke="#336699" d="M256 946l11 -33l15 -42l11 83l17 -17l14 -39l9 52l15 -8l11 -34l16 4l16 29l11 -46l14 21l13 55l13 -61l12 61l10 -29l19 19l10 -43l11 41l13 -64l15 3l13 64l13 -54l16 45l11 -11l15 13l12 -45l11 48l16 -65l14 46l11 23l11 -63l18 63l12 -71l14 22l13 51l10 -114l15 101l15 -107l13 89l9 -130l14 118l14 -124l16 -100l10 169l13 -277l13 8l15 253l13 -110l11 113l15 -47l12 -14l14 137l14 -42l15 -155l10 -137l14 332l10 -92l19 -100l12 68l9 -100l17 233l9 -177l18 49l10 -60l17 186l11 -118l11 123l14 -126l14 135l14 -33l14 -205l12 63l11 146l13 -155l14 92l16 -98l13 191l12 -107l10 47l18 -127l14 48l8 114l18 16l10 -207l14 176l13 -160l15 44l11 -82l13 68l14 150l15 -313l14 -9l13 326l10 1l11 -301l13 308l14 -199l14 66l14 -240l16 261l8 -35l13 -129l15 247l11 -315l18 -283l14 566l7 -540l14 539l17 -228l14 169l13 -488l10 -47l12 444l13 124l13 -337l16 239l14 -132l15 192l9 -424l13 425l14 -527l14 595l11 24l15 3l15 -392l11 144l12 -168l17 345l10 -394l12 228l15 -288l12 197l13 323l13 -335l17 252l8 -37l16 -182l11 310l15 -180l16 195l12 -147l13 172l13 -6"/>
<path stroke="#3399cc" d="M254 900l13 28l18 -56l12 95l15 -105l8 96l13 -65l13 70l13 -59l14 66l13 -81l16 41l11 16l14 -40l16 61l9 -39l18 25l8 -20l14 -33l14 71l13 -49l12 50l13 -73l14 64l12 -50l16 -1l12 54l12 -44l17 54l10 -31l12 -3l17 32l12 -74l14 48l13 -9l10 15l14 -41l12 -66l16 93l13 -124l12 -26l11 103l18 -147l11 168l12 -114l13 81l15 -291l13 309l13 29l12 -179l15 177l13 -231l13 69l12 145l11 -8l15 -156l13 166l12 -216l14 169l15 -159l11 242l14 -143l18 137l11 -277l14 -16l14 253l12 -80l11 71l11 -72l14 93l13 -7l15 -4l10 -126l15 -158l12 326l15 -13l14 -196l11 161l17 -131l12 166l13 -195l14 -4l13 180l15 -260l8 148l18 82l9 -164l18 116l10 63l14 -144l15 81l8 -155l14 195l14 -193l14 234l14 -234l12 244l12 -231l17 73l10 -139l16 99l11 64l15 -126l12 98l14 -382l15 319l9 142l12 35l16 -426l10 445l17 -564l15 576l8 -217l15 -27l14 -322l12 436l14 -349l13 308l12 -162l15 172l14 -254l9 217l17 -53l14 -40l13 291l10 -252l15 226l12 -562l15 379l9 -411l17 296l15 307l12 -215l13 100l11 -241l15 330l12 -68l12 125l16 -7l14 23l8 -225l14 128l14 -155l14 101l16 138"/>
<path stroke="#800000" d="M257 922l11 -29l14 -27l14 37l15 68l14 -66l12 66l9 -59l13 59l18 0l13 -113l13 108l10 -50l17 -44l11 97l13 -60l15 63l12 -35l11 6l13 11l15 -13l10 -26l13 35l15 -31l13 49l12 -85l18 9l10 61l13 -7l13 27l17 -59l12 26l10 -24l17 35l9 -33l18 48l12 -44l11 39l11 -188l17 142l15 -18l13 53l9 -117l16 38l13 -168l12 246l12 -165l12 47l15 -151l15 199l14 -8l10 22l13 -36l12 94l16 -124l11 -215l15 283l11 -101l13 -130l18 145l10 120l14 -252l16 172l9 -60l12 28l17 -166l13 288l12 -156l13 27l14 107l14 25l9 -240l15 188l12 -141l17 -71l13 234l11 18l13 -151l15 169l11 -21l11 -170l17 75l12 -144l12 84l17 156l8 -242l14 254l12 -68l18 -51l13 -112l11 216l16 -250l11 215l14 -316l13 341l14 -250l11 164l12 -88l12 181l16 -322l16 228l11 -82l14 -277l10 427l16 -435l11 423l14 -357l13 346l15 -664l9 597l17 -162l13 49l15 -315l9 435l12 -228l13 -314l15 112l12 476l14 -396l11 192l18 -31l9 280l13 -383l15 321l16 -338l14 -94l10 489l14 -179l13 -259l14 412l14 -532l13 442l14 -254l10 -125l16 -14l12 417l14 -66l12 145l15 -210l10 -81l13 222l12 -148l15 278l14 -149l12 122"/>
<path stroke="#3399cc" d="M259 964l8 -58l18 -34l11 44l11 41l16 -65l15 61l13 -8l11 -14l12 -35l12 -2l17 -3l10 76l16 -81l11 36l17 25l8 -46l18 57l12 -44l11 32l11 -4l18 7l13 26l10 -72l16 47l14 -27l8 48l18 -73l14 56l10 -26l16 45l10 -3l13 -72l17 -16l8 81l13 -60l15 42l14 -64l11 19l16 36l14 -24l11 -131l16 157l8 -186l18 -38l9 121l12 108l15 -216l13 70l13 135l12 -242l14 72l16 152l13 -179l11 52l16 24l14 -211l13 -16l12 140l10 165l18 -196l11 133l11 -229l14 235l15 -68l12 95l14 -232l14 298l12 -216l15 141l11 -183l11 8l14 248l15 -263l11 81l18 -29l7 216l17 -86l14 21l13 2l10 -139l15 174l12 -72l15 67l11 -102l13 50l16 -1l11 -177l17 177l9 -27l17 90l12 -256l14 273l12 -122l14 92l12 -194l15 221l11 -213l13 -8l15 232l9 -364l14 320l13 -450l14 430l14 -367l15 275l10 52l17 -602l11 557l14 -427l12 97l11 423l13 -368l14 273l16 -250l14 142l14 -219l9 97l11 18l18 154l9 -207l17 146l14 -12l13 67l12 -278l10 457l13 -261l19 173l13 -482l9 567l13 -262l13 248l13 -289l15 159l15 -344l9 430l13 69l13 -202l13 80l14 -64l15 174l13 12l10 -38l18 -137l11 131"/>
<path stroke="#8000ff" d="M254 973l17 -91l12 36l15 -41l11 69l13 4l13 22l14 -67l10 20l17 41l10 -23l17 -45l9 48l14 -88l13 67l13 50l17 -70l14 62l11 -65l14 40l12 -49l14 46l13 -29l15 58l9 -11l14 -49l16 64l9 4l18 -35l13 -37l11 36l12 -39l16 68l9 -72l13 25l13 20l17 26l13 -148l12 89l14 -88l13 139l12 -160l16 -57l10 158l12 -160l12 177l18 -115l11 140l15 -41l10 -277l16 221l14 -219l9 283l15 -112l16 102l9 -268l16 173l12 -119l14 161l15 -103l8 4l14 162l16 -275l10 264l18 -92l11 -89l12 220l14 -202l11 131l17 -237l9 318l17 -154l13 1l14 126l10 -235l15 262l13 -163l15 73l10 -10l15 104l11 -266l11 258l16 -176l11 0l15 178l15 -147l13 94l9 -136l14 103l14 -257l16 294l13 -15l13 0l11 -77l13 87l14 -147l15 127l14 -183l11 144l15 -206l9 -142l14 400l16 -416l11 373l16 18l13 -129l10 167l13 -476l14 234l11 55l14 -232l12 330l13 -271l15 206l16 -57l9 -122l13 -337l15 662l12 -499l15 278l10 -3l16 152l13 -536l15 373l14 -200l12 -21l12 -92l13 529l15 -479l11 367l12 -298l17 391l10 -46l14 86l13 -269l15 239l14 -352l14 390l12 18l11 -295l16 183l12 64l14 69l9 -77l14 7"/>
<path stroke="#333399" d="M257 915l14 52l10 -79l15 18l16 -15l8 45l16 -30l10 44l15 -54l12 45l12 -39l17 30l12 -84l14 101l11 -8l13 32l18 -16l8 -15l13 6l18 -57l11 58l14 -33l10 41l13 -1l13 -32l15 50l13 1l12 -30l14 -22l11 -21l15 46l16 -25l13 -40l11 85l17 -76l11 75l13 -53l10 -5l14 34l16 -130l14 20l12 96l14 -199l14 183l8 -13l15 -74l13 -69l14 83l15 29l12 -260l10 222l13 -243l15 316l17 -150l12 162l12 -325l11 4l14 33l15 184l11 71l14 40l15 -150l12 96l11 -107l14 -145l16 293l9 -242l17 125l13 84l12 -135l14 188l12 -193l16 176l12 22l11 -111l16 -78l13 17l12 -19l12 207l13 -204l17 138l11 -181l14 129l8 -136l18 192l9 -103l16 -96l12 178l16 -192l8 210l14 -258l18 197l9 117l18 -7l7 -282l14 143l13 146l16 -255l13 -16l11 121l14 -38l17 -14l9 -28l16 198l12 -190l16 72l9 -295l12 393l15 -644l12 638l14 -496l16 487l10 -508l15 536l15 0l9 -546l14 468l11 -269l19 166l9 173l12 -375l16 232l14 -215l15 231l7 -463l15 477l12 -135l18 96l10 -177l15 -210l10 486l15 -173l16 103l9 -189l14 -170l11 358l16 -67l11 94l14 101l14 -105l16 139l10 -196l11 55l19 -37l10 155"/>
<path stroke="#808080" d="M258 927l10 -44l12 65l13 -78l16 75l11 -14l18 17l12 -1l12 -13l10 22l17 -98l12 59l14 -14l12 -51l12 93l17 29l10 -62l15 18l9 -5l15 21l13 -7l16 27l11 -55l14 62l16 -5l8 -67l17 73l13 -44l13 31l15 -19l10 20l15 -68l13 14l12 60l13 -23l16 -26l11 53l14 -77l9 -69l15 112l12 -64l13 -60l16 140l12 -195l11 103l13 -138l15 204l15 -115l11 39l12 -204l18 -115l11 313l10 11l17 75l12 -199l11 176l13 -153l19 -103l9 180l12 4l18 101l8 -111l13 102l14 -312l12 27l17 199l10 -17l15 -26l16 -137l14 256l9 -214l13 184l14 -187l14 35l10 -40l17 249l11 -200l12 172l16 -52l12 77l15 -199l9 35l13 155l13 -135l19 22l12 25l11 -72l14 118l12 -148l17 81l12 69l11 -26l11 -139l19 191l12 -245l10 31l15 118l14 8l10 -26l14 -33l14 117l11 -27l16 -406l11 220l13 184l16 -347l10 118l12 131l17 -513l14 473l14 -134l13 39l9 223l17 -413l14 -54l13 392l14 -589l8 567l15 30l11 -313l16 96l15 281l9 -443l14 450l15 9l10 -84l13 -331l14 139l15 268l10 -411l17 31l10 306l16 -297l14 352l10 -228l15 262l14 -271l10 55l18 86l9 117l16 -71l9 -111l16 272l13 -5l13 -109"/>
<path stroke="#800000" d="M255 971l16 -13l13 -91l11 56l12 -52l14 66l12 -29l14 -19l14 8l13 53l15 -90l12 110l14 -14l10 -93l15 34l13 75l15 -9l9 -41l14 44l14 -74l16 69l13 -41l15 40l13 -17l10 -42l11 58l13 -24l14 6l15 3l11 12l14 -70l12 84l17 -88l12 67l10 21l14 -65l14 56l12 -102l14 -77l14 171l14 -84l15 25l13 -144l11 174l12 -130l18 71l10 -89l13 -173l12 334l16 -255l10 230l12 -249l15 236l17 -51l10 27l16 -168l8 224l13 -262l16 271l15 -75l11 -17l13 -61l14 119l15 -107l12 -50l10 136l15 -125l12 193l13 -124l17 69l10 -193l16 183l14 45l12 -340l14 231l13 -130l12 13l12 178l11 -133l18 108l13 -11l10 -74l15 163l11 -323l16 319l11 -150l15 143l10 -119l18 98l9 -210l13 193l14 -6l11 -190l14 205l16 -82l10 -128l18 71l9 180l17 -85l13 -228l14 -88l10 344l12 -328l17 247l13 -135l8 -182l17 301l14 -293l9 -44l13 220l13 65l18 -56l14 195l10 -282l16 104l9 -324l13 192l13 -69l16 286l10 -245l16 290l11 -400l12 117l16 -237l12 567l16 -413l10 188l16 221l14 -296l8 -198l15 302l13 91l12 85l18 -386l10 -82l12 501l14 -395l12 444l14 -213l15 -47l10 210l14 -184l16 210l11 -186l14 146"/>
<path stroke="#669966" d="M259 913l13 50l13 -71l11 -12l13 80l14 -59l15 4l8 -2l16 57l15 -55l11 -16l13 82l11 -69l15 27l11 -15l16 46l11 -59l16 46l12 -41l13 52l16 -35l8 -21l15 48l15 -5l12 29l13 -8l12 -58l13 53l14 -25l17 19l7 0l16 -45l15 60l15 -64l8 -10l14 74l15 -66l12 15l13 22l15 -145l15 105l10 43l13 -32l11 -125l14 -51l18 39l7 31l19 -180l8 270l13 -181l15 39l13 74l13 85l12 -74l16 7l10 -109l18 165l13 -262l13 309l12 -138l14 -113l9 112l14 116l17 -158l10 164l16 -44l9 66l15 -91l11 -58l18 58l12 -117l9 187l15 -262l15 218l10 -227l16 190l11 72l14 -81l17 -45l9 124l13 -219l18 46l12 171l12 -158l14 20l11 88l15 -58l12 -129l12 159l15 -115l11 -112l16 269l13 -177l10 175l14 -122l17 155l8 -114l14 32l13 -99l14 144l11 24l16 -124l12 18l15 35l14 80l15 -365l11 299l11 -610l12 569l13 -521l18 619l8 -266l15 58l15 -280l12 -121l14 203l13 124l11 -426l14 656l12 15l15 -574l16 195l10 402l15 -246l12 250l12 -546l13 436l17 -285l10 281l15 -430l14 467l13 -422l10 52l14 465l16 -450l8 317l17 -208l15 43l8 326l17 -210l14 61l10 121l12 -156l18 155l9 -75"/>
<path stroke="#800000" d="M255 910l16 -39l12 53l11 -39l17 26l13 2l9 -5l13 46l18 -56l10 73l14 -110l10 56l17 35l14 -11l12 -15l12 40l16 -30l10 34l15 -67l14 62l9 -50l16 -2l14 5l10 35l13 -48l13 42l18 -45l12 17l14 35l8 -26l18 33l14 -53l8 50l17 -63l13 63l12 6l11 -66l13 47l18 -55l12 67l12 -79l16 36l13 -73l11 78l12 -157l14 142l13 -96l15 115l9 -331l14 6l15 302l12 -180l15 174l10 -9l15 -200l11 142l15 -217l15 259l14 -1l9 -144l15 86l11 -170l14 279l17 -279l9 218l12 41l16 -58l13 -10l12 119l16 -48l14 -211l11 197l13 -284l16 76l13 220l11 -197l11 -23l16 182l14 73l14 -147l8 161l15 -6l14 -105l11 33l14 -173l15 78l13 75l16 -66l12 144l9 -223l13 180l16 43l13 -279l11 -48l12 148l15 -29l12 158l16 -118l14 -46l13 62l11 136l16 -228l14 205l13 -209l10 -51l14 280l15 -339l13 118l13 192l13 -454l13 -129l10 570l15 -530l15 425l11 -288l13 408l13 -483l16 214l13 -244l12 137l12 238l16 6l12 -358l10 413l16 -440l10 503l17 -337l9 242l15 -276l13 399l16 -480l14 431l8 2l15 -398l15 194l10 261l17 -416l12 375l13 -131l10 119l17 -191l10 241l15 37l12 -112l14 119"/>
<path stroke="#996666" d="M255 889l17 37l10 -8l16 -31l10 44l16 -19l10 8l14 22l11 5l17 -31l14 51l12 -14l10 -105l18 17l13 41l8 69l14 -6l15 -72l16 52l13 -42l12 61l10 6l12 -37l17 -11l14 47l10 -77l14 70l12 -46l17 56l12 -33l11 -56l12 16l17 46l12 -34l13 -7l13 36l13 -19l11 18l19 -76l8 86l13 -54l17 8l14 -123l12 167l12 -134l12 129l15 -207l15 -41l12 237l10 -42l12 -300l17 170l13 189l14 -229l13 157l13 -126l12 6l13 -103l15 44l11 223l16 -186l11 205l10 -355l17 355l11 -201l15 57l11 21l15 103l11 -3l13 -316l16 291l14 -100l11 18l14 -229l14 360l12 -236l14 197l11 -49l17 -48l12 24l12 -26l10 -10l18 57l12 -236l13 204l15 114l12 -159l10 -94l17 61l11 112l12 83l14 6l12 -35l15 -213l12 211l17 -190l9 27l16 99l10 -205l12 182l18 -165l12 275l14 -373l9 182l15 -120l15 155l9 -322l16 433l16 -100l12 -66l13 162l10 -467l15 24l15 -165l10 118l15 255l11 -212l15 247l15 -508l10 605l14 -486l16 497l10 -425l12 82l14 293l12 -314l16 310l13 -383l15 159l14 112l7 -273l16 553l14 -179l14 147l13 -94l9 -260l19 190l11 -87l11 290l12 -300l15 212l13 -146l14 200l14 78l10 -179"/>
<path stroke="#cc3399" d="M255 969l14 -27l16 11l9 -53l16 58l11 -25l16 -19l10 52l15 -29l10 31l15 -98l11 88l16 12l12 -4l13 -66l12 59l17 -17l13 -6l15 3l11 13l11 -31l16 20l13 33l11 -47l12 31l15 -61l11 35l16 13l13 -33l13 41l14 -42l15 -25l12 72l14 -80l12 31l11 25l11 -2l16 -22l11 -52l17 41l14 -67l12 -37l13 86l15 -81l12 141l10 -9l17 -67l9 32l14 -141l17 124l9 -198l14 262l11 -114l18 56l12 2l11 -54l12 -296l15 326l12 -97l16 150l14 -89l12 12l10 -231l15 214l12 -161l14 238l12 -241l14 296l16 -318l15 288l13 -39l12 19l11 -86l14 -150l14 191l9 -47l17 96l11 -163l14 164l11 -149l15 186l11 -134l19 111l11 14l15 -166l9 172l15 -213l14 172l12 10l15 -266l12 225l12 -179l11 -5l16 107l13 -135l12 2l17 207l13 51l11 -131l11 135l17 -205l11 110l11 -256l13 -137l16 367l13 -379l12 232l13 227l16 -367l11 217l16 -370l9 195l14 76l14 216l15 -475l11 271l13 -115l14 141l14 -259l14 454l12 -291l14 -34l12 309l12 -177l11 236l17 -199l13 -363l12 548l15 -557l13 543l10 -536l13 298l17 271l10 -57l12 -10l16 -380l14 436l10 -263l15 -39l13 313l15 -98l9 32l16 -188l12 290l16 -170"/>
<path stroke="#cc3399" d="M259 940l8 -46l15 72l16 -87l9 70l14 -50l16 33l12 10l11 -37l14 60l17 -92l8 57l17 -37l9 77l15 -70l15 49l14 -5l14 1l10 -16l14 35l11 -24l16 2l9 -39l15 54l13 -54l12 16l15 52l14 -76l14 75l14 -67l9 16l16 44l13 -27l14 25l14 -65l11 55l15 -23l14 34l13 -122l13 -7l11 99l15 -76l9 88l14 -208l15 202l10 -153l17 -11l14 72l12 -245l10 204l15 -176l12 302l12 -124l17 52l15 -98l10 179l14 -19l13 -305l14 333l11 -243l15 241l10 -163l14 132l14 -251l16 31l9 102l15 7l16 89l8 -137l16 130l14 -242l13 276l11 -19l17 -251l12 2l11 231l12 20l13 -179l14 202l12 -179l15 -50l13 121l13 -117l16 241l13 -232l9 48l13 174l18 -213l11 227l15 -267l11 255l11 -79l17 -157l12 177l12 -117l14 -82l14 129l10 137l16 -227l13 154l13 -378l14 21l11 399l13 -321l16 165l13 -43l15 -241l11 -203l10 524l13 -421l13 -79l15 181l11 432l16 -640l11 417l15 -225l15 153l15 234l10 -593l14 625l14 -336l10 -153l17 -149l11 646l13 -276l10 94l14 197l14 -614l15 9l11 544l13 -200l15 235l14 43l11 -92l14 38l13 -400l11 399l14 -2l17 -178l11 247l16 -47l9 -169l13 66l14 157l15 -112"/>
<path stroke="#336699" d="M254 881l18 60l10 -50l14 37l11 -62l14 32l12 49l13 -34l15 -2l15 61l10 -72l13 72l17 -6l14 -99l9 101l14 -65l16 61l9 -45l16 25l14 -39l10 15l17 48l12 -7l12 -33l15 1l13 43l12 -61l11 65l13 1l18 -5l11 -82l13 16l13 15l13 41l10 12l15 -11l11 -83l19 34l9 -67l14 -15l15 113l14 -60l10 62l17 -49l10 -192l14 176l14 -74l11 50l15 27l15 -268l8 304l16 -332l12 335l14 30l10 -236l16 223l14 -271l10 244l19 -176l10 60l13 45l11 -201l15 7l16 198l13 -174l10 -59l15 334l12 -118l17 112l10 -331l14 229l15 -32l13 122l13 -194l12 104l14 -55l12 143l15 -134l13 115l13 -140l13 144l11 -222l10 253l15 -315l16 105l13 -17l10 225l14 -134l17 -41l9 92l17 -221l11 280l13 -29l14 -139l13 -109l11 20l16 -28l14 33l10 143l12 97l13 -171l13 123l13 -320l13 321l16 56l13 -376l16 353l10 -619l16 227l10 395l14 -333l11 237l13 -128l16 167l12 -327l14 198l11 -80l15 132l11 -511l15 442l15 -57l13 258l14 1l13 -382l10 211l13 -118l16 -257l14 527l10 -486l13 141l13 138l14 -191l15 426l12 -346l13 322l14 -403l11 430l17 -335l11 296l12 -251l11 164l14 152l13 1l17 -95l9 -17"/>
<path stroke="#33cccc" d="M256 918l15 30l13 -105l14 92l14 -70l12 101l12 -3l10 -27l18 17l12 -27l11 25l16 -67l10 78l12 -101l14 112l12 -58l17 51l12 -72l14 52l15 -22l8 41l18 -24l8 -28l16 56l10 -71l19 48l11 -51l15 16l13 50l9 -33l15 27l14 -54l11 59l16 -81l13 37l11 31l16 -50l13 68l10 -6l16 -155l13 156l14 -125l9 106l14 -189l17 129l9 -93l13 82l16 43l9 -241l17 222l11 -355l14 202l12 161l17 -58l12 -144l13 171l12 -207l12 208l16 -120l11 143l14 -58l16 -107l12 184l10 -91l15 -208l11 92l17 -77l10 311l14 -192l15 128l12 -195l10 198l16 -297l13 302l12 -242l13 186l16 107l12 -119l12 134l14 -221l15 220l10 -262l16 247l12 -285l13 207l15 -169l9 259l13 -187l15 91l17 -75l10 -86l11 156l13 -217l14 291l14 -152l16 -116l12 287l15 2l12 -234l13 48l13 49l11 35l14 -67l13 -388l14 475l14 12l15 -417l7 401l14 -497l14 15l17 464l9 -159l15 -143l13 347l15 -605l11 445l13 -245l12 247l18 -353l11 -190l11 564l17 22l10 -429l11 364l14 -251l13 404l18 -190l13 206l10 -74l13 -498l14 546l15 -557l14 379l10 -139l13 282l15 -393l11 293l15 159l13 -115l12 181l14 -275l12 284l11 -261l17 241l10 -113"/>
<path stroke="#808080" d="M254 876l14 77l16 -86l11 -35l14 59l13 26l11 55l13 -77l17 54l10 22l12 -8l17 -77l10 74l18 11l11 -69l13 69l11 -61l12 39l17 -46l14 36l13 -21l12 27l16 28l11 -62l11 50l12 -76l14 62l15 5l13 -25l12 45l12 -75l18 65l11 -88l11 35l12 64l18 -59l9 41l15 -133l12 -2l13 142l14 -167l13 157l12 -35l15 -175l13 149l13 -66l15 24l15 -248l11 224l13 -257l14 189l9 166l17 -72l12 88l11 -143l14 74l17 -330l11 336l11 52l16 -176l14 168l9 -220l13 214l16 -237l16 236l10 -11l16 -235l9 285l16 -156l10 143l17 -90l9 -111l18 61l13 -210l11 342l15 -168l13 -89l13 264l12 -123l10 -58l13 152l15 -116l13 59l17 -23l11 103l15 -211l9 73l17 33l10 5l12 -89l17 94l13 -215l12 36l14 191l12 -115l15 76l12 -45l14 127l10 -81l16 -194l12 231l12 -183l16 114l12 -398l12 333l16 92l9 -129l18 -206l12 202l13 -67l11 144l12 -230l16 344l13 -584l15 451l13 152l10 -664l16 126l11 -91l16 639l9 -382l17 372l8 -631l18 593l10 -24l17 -375l10 461l13 -303l13 117l15 -2l9 -476l17 396l11 -180l17 267l12 -361l11 351l15 -127l13 166l15 -62l8 245l17 -262l13 183l13 -71l15 34l10 131"/>
<path stroke="#339999" d="M253 966l15 4l15 -84l11 70l17 -87l8 99l16 -66l13 57l11 -47l14 17l12 -6l15 32l13 -12l13 -64l13 76l13 15l16 -67l14 9l13 57l12 -35l14 -7l15 41l11 -57l12 57l15 -53l14 6l9 53l16 -60l15 9l7 51l19 -85l9 85l16 -65l13 41l14 -51l11 72l12 -62l17 14l10 -146l15 39l13 145l12 -178l14 54l10 108l18 -144l10 144l15 -16l12 -16l16 -304l9 -73l17 324l13 -170l10 115l13 77l12 -34l14 30l15 -316l12 282l14 -152l15 169l12 -156l15 238l11 -104l12 -118l12 -160l17 358l9 -145l18 57l9 65l16 -272l10 61l13 263l14 -206l17 14l11 -80l14 178l15 -161l9 250l16 -30l12 -133l12 155l14 -253l12 250l15 -267l10 285l16 -80l13 -183l16 259l8 -7l17 -337l14 330l8 -292l17 294l9 -329l15 303l14 23l12 -188l15 62l15 13l13 -238l9 187l14 -197l15 239l10 -83l16 57l15 -98l11 196l14 -127l10 -369l15 336l14 -284l15 406l9 -6l16 -210l14 89l9 -63l16 -94l11 239l15 -83l14 -252l13 375l10 -295l16 -131l14 470l12 -335l16 -123l10 459l14 -470l12 464l16 -443l12 411l13 -213l13 -23l14 -260l11 458l12 -5l17 -302l8 345l15 83l13 -152l13 57l14 35l15 -12l12 -83l14 89"/>
<path stroke="#800000" d="M257 933l13 -55l14 34l12 54l11 -36l15 -34l16 46l11 16l12 -57l12 72l12 -105l13 84l15 -46l14 56l13 9l13 -68l14 44l16 -4l10 30l16 -61l13 18l10 32l11 9l15 -63l15 62l14 -62l10 53l15 -55l13 53l15 -13l14 -7l11 -60l12 82l15 -66l14 79l8 -8l17 -83l11 78l12 -164l14 153l15 -102l15 -26l14 -18l12 144l11 -64l11 -49l18 10l9 -42l16 100l10 -213l19 208l10 -231l16 278l13 -179l11 133l12 10l11 -278l16 189l16 -35l9 126l14 -133l11 -52l15 112l15 -82l12 -140l11 106l17 75l13 78l12 -139l15 164l9 -250l12 286l15 -352l17 87l8 173l15 -67l14 173l13 -141l15 57l13 16l12 -26l13 -87l15 122l10 -22l12 -41l17 -76l13 149l11 -65l12 -92l17 97l10 -139l12 -80l16 189l12 -83l13 159l12 -251l15 -23l11 312l18 -137l8 126l16 -366l16 314l12 -17l10 -318l12 302l19 -123l8 112l13 -303l15 286l16 -385l10 296l12 192l16 -493l12 398l15 -451l12 479l10 -494l17 375l10 -315l15 251l14 246l10 -177l16 98l14 -171l12 220l10 -208l18 -327l9 94l16 299l15 -89l9 -274l18 431l8 -205l18 -228l13 233l10 304l12 -403l18 196l13 204l13 -248l10 216l14 42l14 -15l15 -82l9 77"/>
<path stroke="#663399" d="M257 972l10 -75l13 20l18 -55l14 94l11 -46l10 50l17 -41l11 24l14 22l15 -87l12 57l11 -57l14 92l11 -51l18 44l12 -50l14 60l14 -39l13 40l10 -21l14 -21l15 2l13 35l12 -57l13 56l14 -65l11 58l17 9l9 -64l14 -20l15 64l14 -53l11 2l13 75l12 -51l17 14l8 -36l14 12l14 -48l16 92l13 -180l14 140l11 -169l11 -29l18 157l7 38l15 -240l16 245l12 -181l15 124l8 -159l18 234l12 -106l11 67l15 -86l15 75l10 -228l12 260l15 -231l16 260l10 -114l11 -176l16 266l12 -244l15 187l15 -43l8 76l15 -89l14 129l11 8l15 -171l14 -195l12 206l11 51l16 -127l10 -47l17 286l11 -196l12 88l16 34l13 -145l15 120l12 -80l13 172l14 6l15 -150l8 105l14 -88l14 -10l14 -64l15 178l12 -44l10 61l17 -146l13 149l14 -10l8 -74l15 -127l15 73l14 32l9 -212l13 291l17 -389l10 347l17 -166l13 121l10 -479l16 524l14 -297l8 319l18 -465l9 362l15 -236l11 57l15 285l12 -298l16 293l13 -538l12 -152l14 642l15 -406l9 417l13 -288l13 253l15 -228l15 309l12 -41l11 -601l12 524l16 -444l12 558l16 -255l11 -147l14 410l13 -491l16 462l8 -266l15 93l12 195l15 17l12 -220l16 225l14 -155l12 -5"/>
<path stroke="#33cccc" d="M256 884l14 86l11 -78l15 -26l14 63l13 -41l13 5l12 51l14 -18l11 -34l12 43l15 -34l15 69l13 -111l10 85l14 -29l13 -14l13 61l17 -41l10 49l15 -16l10 21l17 -52l10 34l18 -65l8 80l13 -57l19 34l11 -22l12 -13l12 37l14 -24l16 32l8 -65l14 53l14 -24l14 -48l13 63l15 -65l12 76l13 -60l11 -41l18 -45l10 121l15 -142l13 -46l10 128l13 43l16 11l14 -342l12 351l12 -166l16 191l12 -55l15 -169l12 152l12 -318l14 299l10 -201l14 192l12 -135l17 151l9 -16l17 -226l12 269l16 -324l8 56l15 283l12 -108l17 134l9 -189l16 128l11 -95l16 101l11 60l12 -95l16 61l15 -53l9 41l15 -51l12 -35l15 105l11 -130l13 116l17 -170l12 -46l9 139l16 71l12 -184l16 39l14 95l8 -153l15 173l14 -85l14 48l14 -39l14 -173l12 312l9 -180l14 178l18 -38l12 -208l9 122l18 -81l9 156l17 -471l12 366l10 -188l14 161l14 -364l12 511l14 -412l13 367l13 -401l13 278l16 -262l12 353l14 -285l9 349l17 -144l11 -301l16 13l15 447l10 -397l14 -14l13 381l10 31l18 -515l14 278l9 -51l15 269l11 -115l17 -354l12 504l14 -72l8 47l14 -219l17 -58l10 86l17 126l10 -35l16 159l11 -34l15 -46l9 83"/>
<path stroke="#996633" d="M254 964l17 -66l11 66l11 -109l17 104l9 -75l18 82l11 -23l14 12l11 -36l15 45l13 -20l11 -71l13 25l16 75l11 -31l14 4l15 -44l10 53l16 -59l11 46l16 -36l15 59l10 10l16 -57l11 44l15 -55l12 6l14 3l13 42l12 -27l11 21l17 -5l10 -19l15 44l14 -32l9 7l18 -93l10 86l14 -100l12 48l12 -2l15 -111l11 110l13 -55l17 99l14 -321l12 143l14 157l11 -109l13 -131l12 99l17 21l11 139l14 -212l14 90l14 107l12 -104l13 13l11 104l17 -98l13 3l12 -129l9 32l18 49l13 -71l12 215l14 -187l13 112l13 -158l11 171l16 -30l11 76l13 -228l16 184l11 -125l15 45l14 37l10 86l15 -25l10 -164l13 211l16 -71l10 54l14 -84l15 109l11 -206l13 -70l14 276l17 -342l13 331l12 -60l14 -201l11 256l13 -24l11 -235l18 274l9 -288l14 8l16 67l11 202l16 -226l12 37l14 -52l11 36l16 -146l11 245l13 -310l13 348l10 -183l16 -183l15 247l10 -61l12 207l18 -622l11 480l13 -174l14 118l10 53l14 -503l12 549l14 111l15 -694l14 360l12 124l13 83l14 -87l11 7l15 -353l14 555l15 -663l12 651l11 -315l16 343l12 -484l10 -23l16 107l12 331l11 -105l16 67l14 105l13 -164l9 92l18 -79l9 122"/>
<path stroke="#3399cc" d="M256 953l11 8l16 -95l11 101l15 -12l15 9l13 9l12 -69l14 48l9 -48l19 -3l8 31l14 -60l12 56l18 22l8 20l19 -56l8 -23l17 82l11 -25l13 -28l14 46l10 6l16 -1l14 -33l10 -38l15 39l11 7l18 -11l9 39l15 -84l13 -9l13 32l16 35l12 -21l13 44l14 -56l14 -68l11 -27l13 89l13 -25l12 -8l17 -99l12 134l11 -138l13 116l16 -132l8 -34l15 156l13 -241l16 281l14 -243l9 260l17 -10l11 16l12 -134l13 -16l15 -211l14 265l9 -160l17 92l11 154l16 10l12 -191l13 108l10 -202l18 296l9 -151l18 16l11 80l13 -34l12 60l17 -225l13 235l12 -172l14 191l11 -225l13 122l11 -79l15 181l11 -127l13 86l17 -200l10 -78l15 317l14 -162l15 161l10 -111l11 -28l14 -84l17 104l9 111l16 -338l15 116l14 112l12 106l14 -138l11 -64l10 192l14 -131l13 116l17 -399l11 242l13 -307l16 464l8 -323l18 272l9 -316l13 -328l16 561l15 -179l9 -216l15 492l13 -394l15 422l14 -533l8 287l13 -455l17 563l14 60l13 -499l9 217l17 306l9 -204l13 258l18 -375l8 223l15 -408l18 487l9 -180l12 -68l17 -241l10 122l15 432l11 -43l12 -344l15 13l16 136l9 282l18 -204l12 13l13 164l11 -130l16 132l9 -201"/>
<path stroke="#333399" d="M254 928l13 41l18 -102l12 84l12 -27l12 30l15 -37l12 19l11 2l14 34l18 -66l12 55l12 -88l13 97l10 -40l14 30l16 -47l14 10l8 18l16 13l14 -40l13 40l15 4l13 -4l14 -19l13 31l9 -24l18 -5l10 -1l11 14l18 -44l9 62l13 -27l15 -59l12 80l15 -33l12 40l15 -113l10 104l18 -98l7 65l14 -92l18 39l12 35l10 -150l12 6l18 78l10 -54l15 100l15 -222l11 214l12 -274l12 223l13 120l14 -255l15 92l15 25l13 -64l11 -88l16 24l12 245l11 -189l16 114l9 -155l14 92l17 -229l8 376l17 -185l12 142l15 -260l13 147l10 160l14 -319l13 300l13 -234l11 248l15 -162l14 -83l13 147l15 -16l13 119l14 -251l14 228l9 -262l12 247l18 36l11 -266l10 -9l16 104l13 -5l12 39l17 39l10 -143l14 135l11 108l14 -238l13 192l14 -72l17 0l8 -62l18 156l12 -334l12 -5l10 -106l19 196l10 239l13 -510l15 145l12 240l13 -337l15 200l10 200l11 19l18 -123l13 -292l12 331l12 -287l12 353l14 -317l15 8l13 43l11 -238l16 415l13 -379l13 312l10 -126l15 295l11 7l15 -452l12 -126l17 597l8 -361l14 362l17 -215l13 42l10 -36l18 79l10 72l16 -115l10 103l17 -73l7 109l18 -15l9 76l13 -174"/>
<path stroke="#3399cc" d="M256 960l11 -43l14 30l14 -74l15 32l12 34l12 -21l16 54l10 -25l18 -18l13 -39l8 79l15 -53l13 29l12 21l13 -62l14 9l14 61l12 -17l17 -55l10 54l15 1l11 -42l13 29l12 14l15 -37l16 21l11 -45l13 76l16 -36l9 36l17 -33l8 -60l18 94l13 -83l12 65l12 -24l16 14l10 -79l16 -63l10 154l14 -137l11 -32l17 126l10 -133l14 140l13 -258l16 22l10 236l16 -390l11 264l13 -184l17 296l10 -138l11 109l17 -75l11 -120l13 -5l16 217l11 -46l13 -7l13 -157l16 208l10 -174l13 132l17 -135l7 81l16 -33l12 -13l14 -15l14 204l16 -74l9 -259l13 270l16 -229l13 78l11 152l17 -150l9 153l17 68l8 -237l16 169l11 35l17 21l14 -228l13 189l13 46l11 -18l12 -244l17 176l13 -183l11 -41l12 -4l13 285l16 -200l10 164l13 -108l15 -98l14 265l13 -260l15 150l12 -180l9 -6l18 -165l12 314l12 -102l14 -314l11 457l17 -233l8 120l18 -407l10 176l12 386l16 -500l15 184l12 -288l10 268l13 -40l16 -213l10 445l17 -218l10 -31l13 -5l17 217l9 -147l14 60l11 264l15 -372l14 248l17 -356l9 472l16 -259l9 219l17 -422l12 363l15 -226l9 262l16 118l14 -290l9 291l16 1l12 -156l13 127l14 -161l12 164"/>
<path stroke="#000000" d="M254 893l14 52l15 1l12 -113l13 94l16 -9l12 2l12 23l14 -16l14 -36l11 69l15 -83l14 87l10 -87l12 98l13 -30l16 -45l16 60l9 -38l12 40l18 -53l12 47l10 -36l18 48l12 -40l9 12l18 33l13 -75l12 56l14 -39l9 -23l15 64l15 8l9 -24l17 -32l9 44l16 -35l12 -96l14 130l15 -108l14 101l9 -125l17 87l12 -92l15 -81l13 105l9 -55l17 128l9 -114l16 -147l12 195l15 -69l14 156l12 -217l13 43l10 -120l13 80l18 104l12 -108l10 226l15 -121l14 56l11 -267l12 257l18 -295l14 285l8 -106l17 52l12 -133l11 -3l12 -32l16 234l12 -15l14 -224l16 87l8 166l14 -85l13 77l14 -59l12 66l16 5l15 -182l9 208l16 -232l11 266l15 -249l13 241l14 -294l14 288l12 -49l14 -196l10 157l15 -184l16 199l7 -55l17 -150l15 219l9 -93l16 -148l11 262l13 -150l16 -219l11 381l16 -412l10 374l12 -445l16 328l15 -503l8 561l17 -278l9 313l14 -272l18 335l10 -429l14 425l14 -506l11 -175l13 249l17 271l10 -269l12 326l13 -500l17 427l11 -371l11 537l14 -358l15 196l11 -120l17 92l12 -374l11 555l13 -160l12 -86l15 274l12 -548l16 508l13 -213l13 -5l10 273l15 -220l15 145l13 -181l13 210l10 54l17 -210"/>
<path stroke="#996666" d="M258 924l13 -18l14 -57l9 114l13 -96l15 85l11 -31l15 24l15 -14l12 -18l14 31l11 -19l11 39l17 -91l13 31l13 25l15 43l13 -64l11 52l11 -26l15 18l12 -3l13 24l14 -18l17 -60l13 34l10 43l15 -69l13 8l14 48l14 -62l12 59l11 17l15 -56l14 -4l11 37l13 -27l15 24l9 -10l15 -67l11 15l15 33l17 -109l11 32l14 -141l10 172l17 -180l10 -8l14 117l12 -190l16 314l12 -107l16 -14l10 69l14 -99l11 -3l16 125l12 -298l12 243l14 -131l13 215l14 -200l10 209l15 -76l14 -168l10 148l17 -125l10 233l14 -228l14 174l14 -120l14 108l11 -250l13 297l14 -155l14 -2l11 177l17 -115l12 70l12 -32l12 63l16 -59l15 -119l13 177l10 -209l16 -16l9 148l14 -141l16 131l9 31l15 -143l16 211l12 -174l11 163l12 -63l16 -256l10 327l17 -250l11 221l13 -342l13 314l13 -256l12 99l13 -330l17 159l11 239l12 -300l16 350l14 -332l10 151l15 -370l11 499l14 -320l16 290l9 -430l16 519l12 -623l15 311l13 276l10 -511l14 481l17 39l9 -484l16 524l13 5l12 -241l13 269l11 -314l14 59l17 -390l12 616l9 -479l18 219l14 166l11 -160l13 -86l14 364l12 -175l16 147l13 -190l9 40l17 112l11 104l14 -58l11 -93"/>
<path stroke="#ff0000" d="M255 905l14 27l13 -105l12 88l13 -20l15 55l14 -43l14 39l13 -10l14 17l10 -79l12 13l13 82l17 -53l11 29l15 26l10 -65l15 11l13 23l16 -48l13 16l12 60l10 -7l15 -43l11 32l18 -60l12 85l11 -37l11 14l14 -41l15 31l16 -35l10 66l12 -95l15 78l12 -35l17 39l13 -60l13 60l12 -107l10 15l16 35l13 -37l10 87l15 -258l13 237l16 -264l10 263l13 -97l14 -264l16 -13l8 94l17 210l11 -64l15 138l13 -217l10 -42l17 111l13 127l10 -233l15 161l13 93l12 -229l13 234l13 -198l13 126l16 -70l12 136l12 -221l18 93l12 -53l13 50l9 123l17 -143l9 133l15 -208l16 131l10 58l12 -141l13 168l13 -177l18 -9l10 36l12 87l17 53l12 -71l14 -126l13 161l13 -175l13 235l13 -235l14 94l15 -32l12 28l12 23l14 -178l11 -6l15 172l10 12l13 -131l17 193l12 -4l14 -354l9 312l15 21l17 26l12 -340l10 104l13 -373l15 522l14 97l15 -172l12 61l10 -298l15 368l12 -35l11 -317l18 280l14 -370l9 233l15 166l15 -399l12 253l14 -141l12 382l9 -351l17 168l14 -77l10 79l13 -452l17 622l11 -559l12 370l13 121l16 -303l13 -17l13 53l12 77l13 281l12 -160l15 -187l13 264l11 -103l14 167l17 11"/>
<path stroke="#336699" d="M255 937l12 32l14 -80l18 59l13 -42l8 48l15 -58l13 71l14 -62l14 43l13 -57l13 77l14 -123l10 20l15 30l11 49l18 31l8 -69l17 6l14 1l13 35l12 -27l15 19l10 25l14 1l15 -76l9 49l15 11l10 -19l16 44l14 -59l12 2l16 54l8 -84l17 79l11 -38l14 -52l14 -50l11 72l16 -66l10 124l16 -148l10 144l17 -144l14 -118l13 204l8 -177l15 123l14 -227l16 270l12 -112l11 -92l15 96l14 -6l12 146l14 -313l10 276l17 -278l10 322l13 28l17 -155l12 -170l13 295l12 -147l16 155l12 2l10 -287l16 264l13 -58l15 49l8 -77l18 -80l9 -161l14 8l12 254l14 -19l15 22l10 -83l18 182l11 -145l15 153l11 -275l13 265l14 -260l15 248l9 -12l14 3l15 -231l9 254l17 -223l10 96l13 -174l15 295l16 -10l12 -157l11 43l17 -178l13 31l9 18l14 226l13 -211l11 -136l17 39l14 256l14 -402l13 145l8 126l17 -139l12 138l15 -438l11 610l14 -408l15 250l14 -195l13 127l13 59l10 -446l12 606l15 -489l15 423l13 -329l9 382l15 9l14 -298l15 298l10 -292l17 303l12 -494l14 307l10 -384l11 302l16 -325l16 610l10 -525l12 301l15 -4l14 184l10 -9l17 -133l14 136l11 -107l12 -34l13 46l15 104l12 -108"/>
<path stroke="#000000" d="M255 968l14 -71l15 56l13 -66l10 46l16 -17l12 -4l11 61l14 -1l16 -42l10 30l16 -75l11 48l17 -45l12 70l14 -42l9 30l13 -34l15 37l16 -42l11 -3l11 65l17 -68l11 -5l13 34l14 43l12 -22l17 -33l10 1l14 40l15 -37l11 -13l15 -29l11 53l15 -28l10 54l15 -37l14 40l12 -1l11 -56l17 -14l12 65l10 -137l14 68l14 -45l16 -112l13 -90l11 -29l11 184l18 -133l9 125l17 -205l11 164l16 154l8 51l16 -290l14 119l12 -133l12 223l15 -165l15 10l8 153l14 -119l15 168l13 -372l14 364l10 26l17 -103l14 93l11 -166l12 156l17 -83l10 74l14 -50l12 -94l17 145l8 -125l15 169l12 -148l12 89l15 15l11 -185l15 -23l15 150l11 -64l17 99l13 -106l11 162l16 -156l13 61l12 -113l12 214l10 -3l19 -241l10 236l11 0l18 -156l13 54l9 -135l14 47l11 42l18 -289l8 337l16 -161l15 74l10 136l13 -136l12 -150l17 187l13 90l12 -82l15 -233l10 127l15 -307l14 197l14 -154l11 -76l15 532l11 -330l12 333l14 -542l12 125l19 375l10 41l14 -549l10 526l16 -424l14 204l14 -321l8 516l19 2l13 -230l9 -57l15 -28l16 269l10 -74l13 129l13 5l14 -111l10 197l17 -241l13 232l9 -211l16 194l12 38"/>
<path stroke="#ff0000" d="M256 973l12 -69l16 56l11 -47l16 44l10 -39l14 -4l13 37l11 -11l13 4l19 -51l9 79l16 -4l14 -12l13 -55l11 46l13 0l16 -49l13 22l13 42l9 -19l16 4l15 -31l7 27l18 11l13 -70l13 91l13 -63l13 56l11 -74l12 54l13 2l18 -65l13 54l9 -44l17 77l10 -5l15 -101l11 -92l16 95l12 20l16 9l9 -44l13 99l15 -198l10 37l17 129l14 -135l12 14l11 -243l15 335l12 -258l13 275l16 -200l8 69l15 147l15 -144l11 -106l15 200l14 -187l15 88l8 165l15 -329l15 207l9 -75l18 189l11 -266l13 174l12 72l12 -276l15 283l15 2l12 -345l13 265l16 61l14 -169l10 132l11 -110l18 104l13 56l10 -187l16 181l8 -157l15 139l13 -170l15 167l11 -162l16 207l15 -204l7 188l18 -245l10 232l14 -111l13 15l14 -175l15 112l14 194l12 2l13 -223l11 114l13 -148l17 -106l11 -98l14 408l11 -354l13 123l14 73l11 165l14 -4l17 -578l9 589l18 -298l11 -135l10 45l15 388l15 -550l13 483l12 -332l12 252l16 -22l12 -122l15 286l13 -647l13 540l10 -481l17 315l9 53l13 -280l12 -3l19 457l9 -228l15 253l14 -341l10 -104l16 478l11 -402l16 107l13 289l13 -231l9 229l16 -349l13 177l14 194l11 -184l13 -29"/>
</g>
<g fill="none" stroke-linejoin="round" stroke-linecap="butt" shape-rendering="crispEdges">
<polyline stroke="#008000" stroke-width="13.6" points="255.5,862.0 262.5,892.0 273.8,821.0 280.0,829.5 290.0,793.5 301.0,848.0 312.5,859.0 325.0,881.0 336.0,886.5 340.0,883.0 355.0,883.0 365.0,891.0 375.0,883.0 382.5,859.0 387.5,851.0 402.5,859.5 413.8,830.5 430.0,849.0 438.8,881.5 445.0,891.0 455.0,894.0 465.0,894.0 475.0,889.0 486.0,879.0 495.0,884.0 505.0,879.0 515.0,885.0 522.5,889.0 535.0,889.0 542.5,891.0 557.5,891.0 567.5,889.0 575.0,883.0 592.5,874.5 607.5,884.0 625.0,905.5 640.0,885.0 650.0,878.0 662.5,875.0 676.0,861.0 687.5,868.0 702.5,886.5 711.0,881.0 723.8,894.5 730.0,870.0 733.8,835.0 742.5,818.0 751.0,787.5 764.5,738.5 773.8,815.5 790.0,759.0 797.5,771.5 816.0,680.8 821.5,719.5 830.0,670.8 849.0,719.5 862.0,582.0 877.0,593.0 882.5,640.5 896.2,482.0 902.0,528.5 908.8,453.2 917.5,530.0 923.8,530.0 940.0,698.5 948.5,690.8 961.2,714.5 987.5,522.0 1000.0,532.2 1025.0,684.0 1033.8,674.5 1041.2,689.2 1061.2,598.2 1066.2,604.0 1073.8,578.2 1081.2,625.5 1100.0,534.0 1112.5,548.5 1121.2,586.0 1137.5,714.0 1160.0,574.0 1166.2,587.8 1172.5,582.0 1186.2,690.5 1206.2,542.0 1217.5,558.5 1221.2,645.5 1238.8,628.2 1246.0,703.0 1264.5,628.2 1280.0,758.0 1291.0,717.0 1297.0,722.5 1305.0,713.5 1318.8,615.8 1327.5,641.5 1332.5,634.5 1336.2,678.0 1351.2,598.2 1365.0,710.5 1383.0,644.0 1396.2,684.2 1403.0,622.0 1417.5,676.8 1428.8,578.2 1435.0,584.0 1443.8,546.5 1460.0,649.2 1475.5,546.5 1485.0,564.0 1490.8,558.2 1495.0,644.2 1515.0,582.0 1531.2,644.2 1542.0,574.5 1550.0,584.0 1560.5,555.0 1565.0,470.0 1567.5,462.5 1577.5,457.0 1590.0,506.5 1601.5,385.0 1608.5,364.5 1613.0,373.5 1620.0,346.5 1636.0,423.5 1655.0,251.0 1664.2,217.5 1681.2,189.5 1695.0,300.5 1707.0,274.0 1721.2,379.2 1741.2,238.2 1752.5,270.5 1766.2,222.0 1773.8,243.0 1787.5,151.5 1793.0,191.5 1799.2,137.0 1807.5,165.5 1813.8,153.2 1822.5,164.8 1835.0,285.0 1838.8,288.0 1846.2,303.0 1859.5,181.0 1878.8,283.0 1886.2,265.8 1910.0,363.0 1923.8,229.5 1932.5,253.0 1952.0,197.5 1965.0,253.0 1970.0,203.2 1998.8,400.5 2010.8,315.8 2026.2,359.2 2030.7,247.5 2033.8,380.0 2041.8,442.5 2048.5,482.0 2055.5,486.0 2062.5,586.5 2071.0,569.5 2076.0,588.5 2097.0,522.0 2110.0,627.0 2116.0,641.5 2122.5,634.5 2143.8,740.0 2153.0,686.0"/>
<polyline stroke="#ff8000" stroke-width="13.6" points="254.5,930.5 275.0,894.5 281.0,900.5 290.0,879.5 300.0,900.0 312.5,912.5 325.0,922.5 335.0,926.0 345.0,926.0 355.0,922.5 365.0,932.5 376.0,925.0 389.0,909.5 402.5,919.0 412.5,903.5 425.0,910.0 432.5,915.0 440.0,927.5 447.5,932.5 460.0,937.5 467.5,935.0 477.5,930.0 486.0,927.5 495.0,932.5 505.0,927.5 515.0,931.0 522.5,935.5 531.0,929.5 540.0,936.5 551.0,929.5 562.5,936.5 572.5,930.0 582.5,926.0 592.5,923.5 602.5,929.0 615.0,936.0 626.0,944.0 637.5,936.0 647.5,927.5 662.5,924.0 676.0,917.5 687.5,924.0 702.5,931.5 711.0,927.5 724.0,934.0 730.0,930.0 737.5,920.0 742.5,900.0 752.5,882.5 762.5,860.0 765.0,849.5 773.8,888.5 791.0,857.0 797.0,870.5 817.5,816.0 823.8,832.5 830.0,807.5 846.0,833.5 852.0,829.0 863.8,753.5 883.0,798.0 898.0,690.5 904.0,699.0 910.0,690.5 923.8,730.0 936.0,831.5 948.8,820.5 962.0,836.5 987.5,727.0 1022.5,820.5 1033.8,809.5 1041.0,816.5 1062.5,772.0 1068.0,777.5 1073.8,765.5 1080.0,795.5 1100.0,737.0 1118.8,770.0 1146.0,841.5 1161.0,749.5 1187.5,820.5 1206.0,737.0 1228.0,782.0 1233.8,785.0 1245.0,821.5 1264.5,802.0 1280.0,859.5 1294.0,835.0 1305.0,830.0 1320.0,775.5 1336.0,809.0 1350.0,759.5 1372.5,831.5 1382.5,818.5 1392.5,825.5 1402.5,784.5 1417.5,811.5 1429.0,762.5 1445.0,739.5 1458.8,791.5 1476.0,750.5 1484.0,759.5 1491.0,752.0 1497.5,798.0 1516.0,759.5 1531.0,789.5 1544.0,755.5 1550.0,764.5 1556.0,761.5 1567.5,699.5 1575.0,706.5 1584.0,699.5 1589.0,711.5 1610.0,647.0 1619.0,653.5 1629.0,640.5 1636.0,683.0 1665.0,559.5 1672.0,568.5 1681.0,501.5 1695.0,623.0 1706.0,572.0 1721.0,638.0 1733.8,587.5 1747.5,568.5 1756.0,589.5 1765.0,551.5 1773.0,583.0 1780.0,534.5 1790.0,541.5 1800.0,502.0 1810.0,536.5 1820.0,518.5 1830.0,600.0 1845.0,600.0 1860.0,538.5 1872.5,561.0 1885.0,600.0 1899.0,640.5 1911.0,630.0 1924.0,564.5 1932.5,599.5 1952.5,548.5 1964.0,588.0 1971.0,528.5 1985.0,600.0 1998.5,667.5 2005.0,609.5 2025.0,656.5 2031.0,578.5 2050.0,680.0 2076.0,775.5 2097.5,733.5 2111.0,789.0 2123.5,803.0 2143.7,845.5 2153.0,824.0"/>
<polyline stroke="#0000ff" stroke-width="13.4" points="255.5,973.5 263.0,976.5 275.0,970.0 290.0,966.0 302.0,971.0 320.0,973.7 380.0,973.7 390.0,971.0 402.0,973.0 415.0,970.5 430.0,973.7 440.0,976.0 515.0,975.0 535.0,976.0 590.0,975.0 625.0,978.7 640.0,976.0 652.0,974.5 715.0,975.5 727.0,976.0 740.0,970.0 762.5,960.0 772.5,966.0 790.0,960.0 805.0,955.0 820.0,955.0 830.0,952.5 847.5,955.0 862.5,943.8 875.0,945.0 882.5,947.5 895.0,931.0 902.5,935.0 911.0,925.0 920.0,933.8 932.5,952.5 945.0,953.8 960.0,956.0 972.5,952.5 992.5,935.0 1005.0,943.8 1020.0,952.5 1040.0,952.5 1062.5,943.8 1075.0,942.5 1087.5,945.0 1102.5,937.5 1115.0,940.0 1125.0,955.0 1147.5,957.5 1162.5,941.0 1170.0,942.5 1185.0,955.0 1207.5,937.5 1215.0,946.0 1235.0,945.0 1245.0,955.0 1265.0,948.8 1277.5,959.0 1307.5,955.0 1320.0,947.5 1335.0,951.0 1350.0,945.0 1365.0,953.8 1382.5,950.0 1397.5,951.0 1405.0,946.0 1415.0,948.8 1430.0,942.5 1442.5,938.8 1455.0,947.5 1465.0,947.5 1477.5,938.8 1495.0,945.0 1515.0,941.0 1530.0,947.5 1540.0,941.0 1562.5,937.5 1575.0,927.5 1585.0,932.5 1602.5,917.5 1625.0,916.0 1635.0,921.0 1652.5,908.8 1665.0,898.8 1680.0,892.5 1690.0,906.0 1705.0,903.8 1720.0,913.5 1742.0,903.4 1753.0,906.7 1764.5,900.0 1773.0,902.0 1786.7,894.5 1793.0,896.7 1800.0,892.0 1813.0,894.5 1820.0,887.8 1826.7,904.5 1833.0,907.8 1844.5,910.0 1859.0,896.7 1869.0,900.0 1878.0,904.5 1893.0,914.5 1911.0,915.6 1922.0,902.0 1931.0,900.0 1940.0,902.0 1951.0,897.8 1960.0,900.0 1970.0,893.0 1989.0,916.7 1999.0,920.0 2009.0,910.0 2018.0,914.5 2027.0,913.0 2031.0,905.0 2049.0,929.0 2062.0,940.0 2076.0,942.0 2087.0,940.0 2097.0,934.5 2102.0,945.6 2116.0,950.0 2123.5,947.8 2143.5,958.5 2153.0,955.0"/>
</g>
</g>
<g font-family="'Liberation Serif', serif" font-size="66" fill="#000">
<text x="249.8" y="1070.5" text-anchor="middle">0</text>
<text x="566.5" y="1070.5" text-anchor="middle">4</text>
<text x="883.2" y="1070.5" text-anchor="middle">8</text>
<text x="1199.9" y="1070.5" text-anchor="middle">12</text>
<text x="1516.5" y="1070.5" text-anchor="middle">16</text>
<text x="1833.2" y="1070.5" text-anchor="middle">20</text>
<text x="2149.9" y="1070.5" text-anchor="middle">24</text>
<text x="134.5" y="1008.5" letter-spacing="-0.7">0.0</text>
<text x="134.5" y="770.8" letter-spacing="-0.7">0.5</text>
<text x="134.5" y="533.1" letter-spacing="-0.7">1.0</text>
<text x="134.5" y="295.5" letter-spacing="-0.7">1.5</text>
<text x="134.5" y="57.8" letter-spacing="-0.7">2.0</text>
</g>
<text x="1212.5" y="1137" text-anchor="middle" font-family="'Liberation Serif', serif" font-size="71">Time (h)</text>
<text transform="translate(75,506) rotate(-90)" text-anchor="middle" font-family="'Liberation Serif', serif" font-size="72.5">Daily load profiles</text>
<rect x="265.3" y="60.3" width="613.2" height="254.8" fill="#fff" stroke="#000" stroke-width="5" shape-rendering="crispEdges"/>
<g shape-rendering="crispEdges">
<rect x="303" y="102" width="148.5" height="9" fill="#008000"/>
<rect x="305" y="186" width="148.5" height="9" fill="#ff8000"/>
<rect x="301" y="269" width="148.5" height="9" fill="#0000ff"/>
</g>
<g font-family="'Liberation Serif', serif" font-size="55" fill="#000">
<text x="496.5" y="121.5" textLength="360" lengthAdjust="spacing">Upper boundary</text>
<text x="496.5" y="211" textLength="364" lengthAdjust="spacing">Averaged profile</text>
<text x="500.5" y="289.7" textLength="365" lengthAdjust="spacing">Lower boundary</text>
</g>
</svg>
</body></html>
